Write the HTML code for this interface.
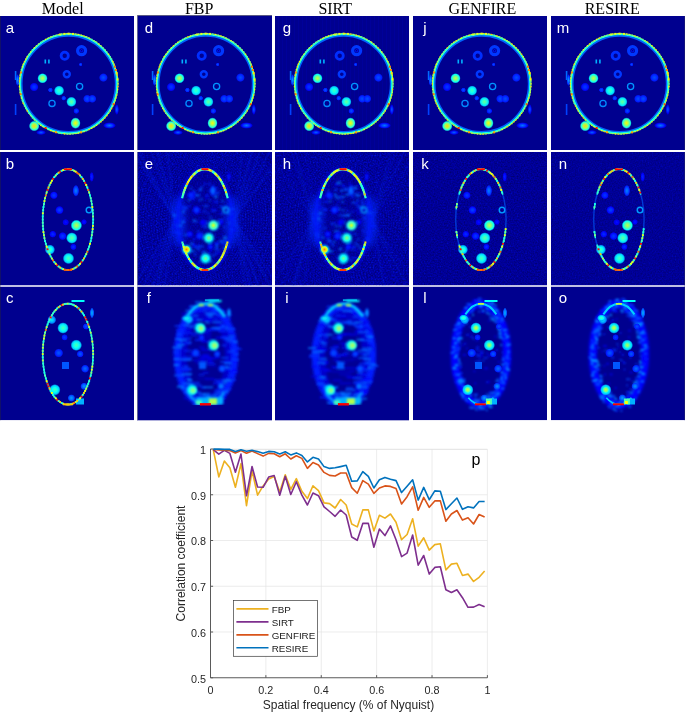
<!DOCTYPE html>
<html><head><meta charset="utf-8"><title>Figure</title>
<style>html,body{margin:0;padding:0;background:#fff;} svg{display:block;will-change:transform;}</style></head>
<body><svg width="685" height="715" viewBox="0 0 685 715">
<defs><filter id="nzE" x="0" y="0" width="100%" height="100%" color-interpolation-filters="sRGB"><feTurbulence type="fractalNoise" baseFrequency="0.6" numOctaves="1" seed="3"/><feColorMatrix type="matrix" values="0 0 0 0 0  0.5 0 0 0 -0.32  0.6 0 0 0 0.3  0 0 0 0 1"/></filter><filter id="nzH" x="0" y="0" width="100%" height="100%" color-interpolation-filters="sRGB"><feTurbulence type="fractalNoise" baseFrequency="0.6" numOctaves="1" seed="5"/><feColorMatrix type="matrix" values="0 0 0 0 0  0.5 0 0 0 -0.32  0.6 0 0 0 0.3  0 0 0 0 1"/></filter><filter id="nzK" x="0" y="0" width="100%" height="100%" color-interpolation-filters="sRGB"><feTurbulence type="fractalNoise" baseFrequency="0.7" numOctaves="1" seed="7"/><feColorMatrix type="matrix" values="0 0 0 0 0  0.3 0 0 0 -0.2  0.45 0 0 0 0.36  0 0 0 0 1"/></filter><filter id="nzN" x="0" y="0" width="100%" height="100%" color-interpolation-filters="sRGB"><feTurbulence type="fractalNoise" baseFrequency="0.7" numOctaves="1" seed="9"/><feColorMatrix type="matrix" values="0 0 0 0 0  0.2 0 0 0 -0.13  0.35 0 0 0 0.41  0 0 0 0 1"/></filter><filter id="b05" x="-20%" y="-20%" width="140%" height="140%"><feGaussianBlur stdDeviation="0.5"/></filter><filter id="b07" x="-20%" y="-20%" width="140%" height="140%"><feGaussianBlur stdDeviation="0.8"/></filter><filter id="b1" x="-20%" y="-20%" width="140%" height="140%"><feGaussianBlur stdDeviation="1"/></filter><filter id="b15" x="-20%" y="-20%" width="140%" height="140%"><feGaussianBlur stdDeviation="1.5"/></filter><filter id="b2" x="-20%" y="-20%" width="140%" height="140%"><feGaussianBlur stdDeviation="3"/></filter><clipPath id="c00"><rect x="0" y="0" width="134" height="134"/></clipPath><radialGradient id="g0"><stop offset="0" stop-color="#0061ff"/><stop offset="0.45" stop-color="#0024ff"/><stop offset="0.75" stop-color="#0000e6"/><stop offset="1" stop-color="#0000e6" stop-opacity="0"/></radialGradient><radialGradient id="g1"><stop offset="0" stop-color="#0075ff"/><stop offset="0.45" stop-color="#0038ff"/><stop offset="0.75" stop-color="#0000fa"/><stop offset="1" stop-color="#0000fa" stop-opacity="0"/></radialGradient><radialGradient id="g2"><stop offset="0" stop-color="#009eff"/><stop offset="0.45" stop-color="#0061ff"/><stop offset="0.75" stop-color="#0024ff"/><stop offset="1" stop-color="#0024ff" stop-opacity="0"/></radialGradient><radialGradient id="g3"><stop offset="0" stop-color="#c7ff38"/><stop offset="0.45" stop-color="#66ff99"/><stop offset="0.75" stop-color="#05fffa"/><stop offset="1" stop-color="#05fffa" stop-opacity="0"/></radialGradient><radialGradient id="g4"><stop offset="0" stop-color="#42ffbd"/><stop offset="0.45" stop-color="#0afff5"/><stop offset="0.75" stop-color="#00d1ff"/><stop offset="1" stop-color="#00d1ff" stop-opacity="0"/></radialGradient><radialGradient id="g5"><stop offset="0" stop-color="#6bff94"/><stop offset="0.45" stop-color="#24ffdb"/><stop offset="0.75" stop-color="#00dbff"/><stop offset="1" stop-color="#00dbff" stop-opacity="0"/></radialGradient><radialGradient id="g6"><stop offset="0" stop-color="#fffa00"/><stop offset="0.45" stop-color="#8fff70"/><stop offset="0.75" stop-color="#1affe5"/><stop offset="1" stop-color="#1affe5" stop-opacity="0"/></radialGradient><radialGradient id="g7"><stop offset="0" stop-color="#ffdb00"/><stop offset="0.45" stop-color="#9eff61"/><stop offset="0.75" stop-color="#1affe5"/><stop offset="1" stop-color="#1affe5" stop-opacity="0"/></radialGradient><radialGradient id="g8"><stop offset="0" stop-color="#0038ff"/><stop offset="0.45" stop-color="#001fff"/><stop offset="0.75" stop-color="#0005ff"/><stop offset="1" stop-color="#0005ff" stop-opacity="0"/></radialGradient><radialGradient id="g9"><stop offset="0" stop-color="#004dff"/><stop offset="0.45" stop-color="#0033ff"/><stop offset="0.75" stop-color="#001aff"/><stop offset="1" stop-color="#001aff" stop-opacity="0"/></radialGradient><radialGradient id="g10"><stop offset="0" stop-color="#004dff"/><stop offset="0.45" stop-color="#002eff"/><stop offset="0.75" stop-color="#000fff"/><stop offset="1" stop-color="#000fff" stop-opacity="0"/></radialGradient><radialGradient id="g11"><stop offset="0" stop-color="#0057ff"/><stop offset="0.45" stop-color="#0038ff"/><stop offset="0.75" stop-color="#001aff"/><stop offset="1" stop-color="#001aff" stop-opacity="0"/></radialGradient><clipPath id="c01"><rect x="0" y="0" width="135" height="135"/></clipPath><clipPath id="c02"><rect x="0" y="0" width="134" height="134"/></clipPath><clipPath id="c03"><rect x="0" y="0" width="134" height="134"/></clipPath><clipPath id="c04"><rect x="0" y="0" width="134" height="134"/></clipPath><clipPath id="c10"><rect x="0" y="0" width="134" height="133.5"/></clipPath><radialGradient id="g12"><stop offset="0" stop-color="#bdff42"/><stop offset="0.45" stop-color="#61ff9e"/><stop offset="0.75" stop-color="#05fffa"/><stop offset="1" stop-color="#05fffa" stop-opacity="0"/></radialGradient><radialGradient id="g13"><stop offset="0" stop-color="#61ff9e"/><stop offset="0.45" stop-color="#1fffe0"/><stop offset="0.75" stop-color="#00dbff"/><stop offset="1" stop-color="#00dbff" stop-opacity="0"/></radialGradient><radialGradient id="g14"><stop offset="0" stop-color="#4dffb2"/><stop offset="0.45" stop-color="#0ffff0"/><stop offset="0.75" stop-color="#00d1ff"/><stop offset="1" stop-color="#00d1ff" stop-opacity="0"/></radialGradient><radialGradient id="g15"><stop offset="0" stop-color="#4dffb2"/><stop offset="0.45" stop-color="#00ffff"/><stop offset="0.75" stop-color="#00b2ff"/><stop offset="1" stop-color="#00b2ff" stop-opacity="0"/></radialGradient><radialGradient id="g16"><stop offset="0" stop-color="#0080ff"/><stop offset="0.45" stop-color="#0052ff"/><stop offset="0.75" stop-color="#0024ff"/><stop offset="1" stop-color="#0024ff" stop-opacity="0"/></radialGradient><radialGradient id="g17"><stop offset="0" stop-color="#0042ff"/><stop offset="0.45" stop-color="#0024ff"/><stop offset="0.75" stop-color="#0005ff"/><stop offset="1" stop-color="#0005ff" stop-opacity="0"/></radialGradient><radialGradient id="g18"><stop offset="0" stop-color="#002eff"/><stop offset="0.45" stop-color="#0014ff"/><stop offset="0.75" stop-color="#0000fa"/><stop offset="1" stop-color="#0000fa" stop-opacity="0"/></radialGradient><radialGradient id="g19"><stop offset="0" stop-color="#0024ff"/><stop offset="0.45" stop-color="#000aff"/><stop offset="0.75" stop-color="#0000f0"/><stop offset="1" stop-color="#0000f0" stop-opacity="0"/></radialGradient><radialGradient id="g20"><stop offset="0" stop-color="#000fff"/><stop offset="0.45" stop-color="#0000fa"/><stop offset="0.75" stop-color="#0000e6"/><stop offset="1" stop-color="#0000e6" stop-opacity="0"/></radialGradient><radialGradient id="g21"><stop offset="0" stop-color="#001aff"/><stop offset="0.45" stop-color="#0000ff"/><stop offset="0.75" stop-color="#0000e6"/><stop offset="1" stop-color="#0000e6" stop-opacity="0"/></radialGradient><clipPath id="c11"><rect x="0" y="0" width="135" height="133.5"/></clipPath><radialGradient id="g22"><stop offset="0" stop-color="#d1ff2e"/><stop offset="0.45" stop-color="#8fff70"/><stop offset="0.75" stop-color="#4dffb2"/><stop offset="1" stop-color="#4dffb2" stop-opacity="0"/></radialGradient><radialGradient id="g23"><stop offset="0" stop-color="#80ff80"/><stop offset="0.45" stop-color="#4dffb2"/><stop offset="0.75" stop-color="#1affe5"/><stop offset="1" stop-color="#1affe5" stop-opacity="0"/></radialGradient><radialGradient id="g24"><stop offset="0" stop-color="#6bff94"/><stop offset="0.45" stop-color="#38ffc7"/><stop offset="0.75" stop-color="#05fffa"/><stop offset="1" stop-color="#05fffa" stop-opacity="0"/></radialGradient><radialGradient id="g25"><stop offset="0" stop-color="#ff8000"/><stop offset="0.45" stop-color="#ffe500"/><stop offset="0.75" stop-color="#b3ff4c"/><stop offset="1" stop-color="#b3ff4c" stop-opacity="0"/></radialGradient><clipPath id="c12"><rect x="0" y="0" width="134" height="133.5"/></clipPath><clipPath id="c13"><rect x="0" y="0" width="134" height="133.5"/></clipPath><clipPath id="c14"><rect x="0" y="0" width="134" height="133.5"/></clipPath><clipPath id="c20"><rect x="0" y="0" width="134" height="133.8"/></clipPath><radialGradient id="g26"><stop offset="0" stop-color="#42ffbd"/><stop offset="0.45" stop-color="#05fffa"/><stop offset="0.75" stop-color="#00c7ff"/><stop offset="1" stop-color="#00c7ff" stop-opacity="0"/></radialGradient><radialGradient id="g27"><stop offset="0" stop-color="#00f0ff"/><stop offset="0.45" stop-color="#00b8ff"/><stop offset="0.75" stop-color="#0080ff"/><stop offset="1" stop-color="#0080ff" stop-opacity="0"/></radialGradient><radialGradient id="g28"><stop offset="0" stop-color="#006bff"/><stop offset="0.45" stop-color="#0047ff"/><stop offset="0.75" stop-color="#0024ff"/><stop offset="1" stop-color="#0024ff" stop-opacity="0"/></radialGradient><radialGradient id="g29"><stop offset="0" stop-color="#0038ff"/><stop offset="0.45" stop-color="#0024ff"/><stop offset="0.75" stop-color="#000fff"/><stop offset="1" stop-color="#000fff" stop-opacity="0"/></radialGradient><radialGradient id="g30"><stop offset="0" stop-color="#00b2ff"/><stop offset="0.45" stop-color="#0080ff"/><stop offset="0.75" stop-color="#004dff"/><stop offset="1" stop-color="#004dff" stop-opacity="0"/></radialGradient><radialGradient id="g31"><stop offset="0" stop-color="#0094ff"/><stop offset="0.45" stop-color="#0066ff"/><stop offset="0.75" stop-color="#0038ff"/><stop offset="1" stop-color="#0038ff" stop-opacity="0"/></radialGradient><radialGradient id="g32"><stop offset="0" stop-color="#009eff"/><stop offset="0.45" stop-color="#0070ff"/><stop offset="0.75" stop-color="#0042ff"/><stop offset="1" stop-color="#0042ff" stop-opacity="0"/></radialGradient><clipPath id="c21"><rect x="0" y="0" width="135" height="133.8"/></clipPath><radialGradient id="g33"><stop offset="0" stop-color="#d1ff2e"/><stop offset="0.45" stop-color="#75ff8a"/><stop offset="0.75" stop-color="#1affe5"/><stop offset="1" stop-color="#1affe5" stop-opacity="0"/></radialGradient><radialGradient id="g34"><stop offset="0" stop-color="#d1ff2e"/><stop offset="0.45" stop-color="#80ff80"/><stop offset="0.75" stop-color="#2effd1"/><stop offset="1" stop-color="#2effd1" stop-opacity="0"/></radialGradient><radialGradient id="g35"><stop offset="0" stop-color="#b3ff4c"/><stop offset="0.45" stop-color="#66ff99"/><stop offset="0.75" stop-color="#1affe5"/><stop offset="1" stop-color="#1affe5" stop-opacity="0"/></radialGradient><radialGradient id="g36"><stop offset="0" stop-color="#2effd1"/><stop offset="0.45" stop-color="#00e5ff"/><stop offset="0.75" stop-color="#009eff"/><stop offset="1" stop-color="#009eff" stop-opacity="0"/></radialGradient><clipPath id="c22"><rect x="0" y="0" width="134" height="133.8"/></clipPath><clipPath id="c23"><rect x="0" y="0" width="134" height="133.8"/></clipPath><radialGradient id="g37"><stop offset="0" stop-color="#b3ff4c"/><stop offset="0.45" stop-color="#75ff8a"/><stop offset="0.75" stop-color="#38ffc7"/><stop offset="1" stop-color="#38ffc7" stop-opacity="0"/></radialGradient><clipPath id="c24"><rect x="0" y="0" width="134" height="133.8"/></clipPath></defs>
<rect width="685" height="715" fill="#fff"/>
<text x="41.8" y="13.8" font-family="Liberation Serif" font-size="16" fill="#000">Model</text>
<text x="184.9" y="13.8" font-family="Liberation Serif" font-size="16" fill="#000">FBP</text>
<text x="318.4" y="13.8" font-family="Liberation Serif" font-size="16" fill="#000">SIRT</text>
<text x="448.6" y="13.8" font-family="Liberation Serif" font-size="16" fill="#000">GENFIRE</text>
<text x="584.7" y="13.8" font-family="Liberation Serif" font-size="16" fill="#000">RESIRE</text>
<g transform="translate(0,16)" clip-path="url(#c00)"><rect x="0" y="0" width="134" height="134" fill="#00008f"/>
<rect x="14.8" y="55" width="1.6" height="9" fill="#006bff" opacity="1"/>
<rect x="14.8" y="88" width="1.6" height="11" fill="#0042ff" opacity="1"/>
<ellipse cx="116.8" cy="93.5" rx="2.2" ry="5.5" fill="url(#g0)"/>
<ellipse cx="109.5" cy="109.5" rx="6.5" ry="3.3" fill="url(#g1)"/>
<ellipse cx="41.0" cy="116.5" rx="5" ry="2.5" fill="url(#g0)"/>
<ellipse cx="17.5" cy="64.0" rx="2" ry="6" fill="url(#g2)"/>
<ellipse cx="68.7" cy="67.8" rx="46.8" ry="47.8" fill="none" stroke="#0061ff" stroke-width="1.3"/>
<ellipse cx="68.7" cy="67.8" rx="48.3" ry="49.3" fill="none" stroke="#0ffff0" stroke-width="1.7"/>
<ellipse cx="68.7" cy="67.8" rx="49.4" ry="50.4" fill="none" stroke="#a8ff57" stroke-width="1"/>
<rect x="117.3" y="67.1" width="1.3" height="1.3" fill="#d1ff2e"/>
<rect x="117.3" y="70.0" width="1.3" height="1.3" fill="#ffc700"/>
<rect x="117.0" y="72.9" width="1.3" height="1.3" fill="#faff05"/>
<rect x="116.6" y="75.7" width="1.3" height="1.3" fill="#4dffb2"/>
<rect x="116.1" y="78.5" width="1.3" height="1.3" fill="#ffe500"/>
<rect x="115.4" y="81.3" width="1.3" height="1.3" fill="#e5ff1a"/>
<rect x="114.5" y="84.1" width="1.3" height="1.3" fill="#b3ff4c"/>
<rect x="113.5" y="86.7" width="1.3" height="1.3" fill="#ffe500"/>
<rect x="112.3" y="89.3" width="1.3" height="1.3" fill="#80ff80"/>
<rect x="111.0" y="91.9" width="1.3" height="1.3" fill="#ffc700"/>
<rect x="109.5" y="94.3" width="1.3" height="1.3" fill="#d1ff2e"/>
<rect x="107.9" y="96.7" width="1.3" height="1.3" fill="#d1ff2e"/>
<rect x="106.2" y="99.0" width="1.3" height="1.3" fill="#ffe500"/>
<rect x="104.4" y="101.2" width="1.3" height="1.3" fill="#ffc700"/>
<rect x="102.4" y="103.2" width="1.3" height="1.3" fill="#ffc700"/>
<rect x="100.3" y="105.2" width="1.3" height="1.3" fill="#ffe500"/>
<rect x="98.2" y="107.0" width="1.3" height="1.3" fill="#2effd1"/>
<rect x="95.9" y="108.7" width="1.3" height="1.3" fill="#faff05"/>
<rect x="93.5" y="110.2" width="1.3" height="1.3" fill="#d1ff2e"/>
<rect x="91.1" y="111.6" width="1.3" height="1.3" fill="#faff05"/>
<rect x="88.5" y="112.9" width="1.3" height="1.3" fill="#ffc700"/>
<rect x="85.9" y="114.0" width="1.3" height="1.3" fill="#2effd1"/>
<rect x="83.3" y="115.0" width="1.3" height="1.3" fill="#b3ff4c"/>
<rect x="80.6" y="115.8" width="1.3" height="1.3" fill="#e5ff1a"/>
<rect x="77.8" y="116.4" width="1.3" height="1.3" fill="#faff05"/>
<rect x="75.1" y="116.9" width="1.3" height="1.3" fill="#b3ff4c"/>
<rect x="72.3" y="117.3" width="1.3" height="1.3" fill="#80ff80"/>
<rect x="69.5" y="117.4" width="1.3" height="1.3" fill="#b3ff4c"/>
<rect x="66.6" y="117.4" width="1.3" height="1.3" fill="#80ff80"/>
<rect x="63.8" y="117.3" width="1.3" height="1.3" fill="#ffe500"/>
<rect x="61.0" y="116.9" width="1.3" height="1.3" fill="#2effd1"/>
<rect x="58.3" y="116.4" width="1.3" height="1.3" fill="#2effd1"/>
<rect x="55.5" y="115.8" width="1.3" height="1.3" fill="#2effd1"/>
<rect x="52.8" y="115.0" width="1.3" height="1.3" fill="#ffe500"/>
<rect x="50.2" y="114.0" width="1.3" height="1.3" fill="#faff05"/>
<rect x="47.6" y="112.9" width="1.3" height="1.3" fill="#4dffb2"/>
<rect x="45.0" y="111.6" width="1.3" height="1.3" fill="#e5ff1a"/>
<rect x="42.6" y="110.2" width="1.3" height="1.3" fill="#b3ff4c"/>
<rect x="40.2" y="108.7" width="1.3" height="1.3" fill="#faff05"/>
<rect x="37.9" y="107.0" width="1.3" height="1.3" fill="#ffe500"/>
<rect x="35.8" y="105.2" width="1.3" height="1.3" fill="#d1ff2e"/>
<rect x="33.7" y="103.2" width="1.3" height="1.3" fill="#80ff80"/>
<rect x="31.7" y="101.2" width="1.3" height="1.3" fill="#2effd1"/>
<rect x="29.9" y="99.0" width="1.3" height="1.3" fill="#80ff80"/>
<rect x="28.2" y="96.7" width="1.3" height="1.3" fill="#2effd1"/>
<rect x="26.6" y="94.3" width="1.3" height="1.3" fill="#ffc700"/>
<rect x="25.1" y="91.9" width="1.3" height="1.3" fill="#2effd1"/>
<rect x="23.8" y="89.3" width="1.3" height="1.3" fill="#4dffb2"/>
<rect x="22.6" y="86.7" width="1.3" height="1.3" fill="#ffc700"/>
<rect x="21.6" y="84.1" width="1.3" height="1.3" fill="#2effd1"/>
<rect x="20.7" y="81.3" width="1.3" height="1.3" fill="#d1ff2e"/>
<rect x="20.0" y="78.5" width="1.3" height="1.3" fill="#4dffb2"/>
<rect x="19.5" y="75.7" width="1.3" height="1.3" fill="#b3ff4c"/>
<rect x="19.1" y="72.9" width="1.3" height="1.3" fill="#80ff80"/>
<rect x="18.8" y="70.0" width="1.3" height="1.3" fill="#faff05"/>
<rect x="18.8" y="67.1" width="1.3" height="1.3" fill="#4dffb2"/>
<rect x="18.8" y="64.3" width="1.3" height="1.3" fill="#ffc700"/>
<rect x="19.1" y="61.4" width="1.3" height="1.3" fill="#e5ff1a"/>
<rect x="19.5" y="58.6" width="1.3" height="1.3" fill="#d1ff2e"/>
<rect x="20.0" y="55.8" width="1.3" height="1.3" fill="#80ff80"/>
<rect x="20.7" y="53.0" width="1.3" height="1.3" fill="#80ff80"/>
<rect x="21.6" y="50.2" width="1.3" height="1.3" fill="#e5ff1a"/>
<rect x="22.6" y="47.6" width="1.3" height="1.3" fill="#e5ff1a"/>
<rect x="23.8" y="45.0" width="1.3" height="1.3" fill="#ffe500"/>
<rect x="25.1" y="42.4" width="1.3" height="1.3" fill="#ffe500"/>
<rect x="26.6" y="40.0" width="1.3" height="1.3" fill="#e5ff1a"/>
<rect x="28.2" y="37.6" width="1.3" height="1.3" fill="#4dffb2"/>
<rect x="29.9" y="35.3" width="1.3" height="1.3" fill="#e5ff1a"/>
<rect x="31.7" y="33.1" width="1.3" height="1.3" fill="#2effd1"/>
<rect x="33.7" y="31.1" width="1.3" height="1.3" fill="#faff05"/>
<rect x="35.8" y="29.1" width="1.3" height="1.3" fill="#b3ff4c"/>
<rect x="37.9" y="27.3" width="1.3" height="1.3" fill="#80ff80"/>
<rect x="40.2" y="25.6" width="1.3" height="1.3" fill="#2effd1"/>
<rect x="42.6" y="24.1" width="1.3" height="1.3" fill="#2effd1"/>
<rect x="45.0" y="22.7" width="1.3" height="1.3" fill="#e5ff1a"/>
<rect x="47.6" y="21.4" width="1.3" height="1.3" fill="#b3ff4c"/>
<rect x="50.2" y="20.3" width="1.3" height="1.3" fill="#b3ff4c"/>
<rect x="52.8" y="19.3" width="1.3" height="1.3" fill="#2effd1"/>
<rect x="55.5" y="18.5" width="1.3" height="1.3" fill="#4dffb2"/>
<rect x="58.3" y="17.9" width="1.3" height="1.3" fill="#ffc700"/>
<rect x="61.0" y="17.4" width="1.3" height="1.3" fill="#80ff80"/>
<rect x="63.8" y="17.0" width="1.3" height="1.3" fill="#ffc700"/>
<rect x="66.6" y="16.9" width="1.3" height="1.3" fill="#d1ff2e"/>
<rect x="69.5" y="16.9" width="1.3" height="1.3" fill="#b3ff4c"/>
<rect x="72.3" y="17.0" width="1.3" height="1.3" fill="#80ff80"/>
<rect x="75.1" y="17.4" width="1.3" height="1.3" fill="#b3ff4c"/>
<rect x="77.8" y="17.9" width="1.3" height="1.3" fill="#e5ff1a"/>
<rect x="80.6" y="18.5" width="1.3" height="1.3" fill="#e5ff1a"/>
<rect x="83.3" y="19.3" width="1.3" height="1.3" fill="#ffc700"/>
<rect x="85.9" y="20.3" width="1.3" height="1.3" fill="#b3ff4c"/>
<rect x="88.5" y="21.4" width="1.3" height="1.3" fill="#d1ff2e"/>
<rect x="91.1" y="22.7" width="1.3" height="1.3" fill="#2effd1"/>
<rect x="93.5" y="24.1" width="1.3" height="1.3" fill="#80ff80"/>
<rect x="95.9" y="25.6" width="1.3" height="1.3" fill="#80ff80"/>
<rect x="98.2" y="27.3" width="1.3" height="1.3" fill="#faff05"/>
<rect x="100.3" y="29.1" width="1.3" height="1.3" fill="#b3ff4c"/>
<rect x="102.4" y="31.1" width="1.3" height="1.3" fill="#4dffb2"/>
<rect x="104.4" y="33.1" width="1.3" height="1.3" fill="#4dffb2"/>
<rect x="106.2" y="35.3" width="1.3" height="1.3" fill="#4dffb2"/>
<rect x="107.9" y="37.6" width="1.3" height="1.3" fill="#faff05"/>
<rect x="109.5" y="40.0" width="1.3" height="1.3" fill="#2effd1"/>
<rect x="111.0" y="42.4" width="1.3" height="1.3" fill="#2effd1"/>
<rect x="112.3" y="45.0" width="1.3" height="1.3" fill="#ffe500"/>
<rect x="113.5" y="47.6" width="1.3" height="1.3" fill="#ffc700"/>
<rect x="114.5" y="50.2" width="1.3" height="1.3" fill="#2effd1"/>
<rect x="115.4" y="53.0" width="1.3" height="1.3" fill="#ffc700"/>
<rect x="116.1" y="55.8" width="1.3" height="1.3" fill="#e5ff1a"/>
<rect x="116.6" y="58.6" width="1.3" height="1.3" fill="#ffc700"/>
<rect x="117.0" y="61.4" width="1.3" height="1.3" fill="#80ff80"/>
<rect x="117.3" y="64.3" width="1.3" height="1.3" fill="#2effd1"/>
<rect x="19.9" y="55.5" width="2" height="2" fill="#ff8000"/>
<rect x="19.7" y="77.2" width="2" height="2" fill="#ff8000"/>
<rect x="44.6" y="111.0" width="2" height="2" fill="#ff1a00"/>
<rect x="55.0" y="115.2" width="2" height="2" fill="#ff9e00"/>
<rect x="80.0" y="115.3" width="2" height="2" fill="#ff9e00"/>
<rect x="112.6" y="87.2" width="2" height="2" fill="#ff4c00"/>
<rect x="114.9" y="53.0" width="2" height="2" fill="#ff8000"/>
<rect x="113.8" y="49.7" width="2" height="2" fill="#ff6100"/>
<rect x="115.7" y="56.4" width="2" height="2" fill="#ffe500"/>
<rect x="116.6" y="62.4" width="2" height="2" fill="#faff05"/>
<rect x="63.4" y="16.9" width="2" height="2" fill="#e5ff1a"/>
<rect x="67.7" y="16.7" width="2" height="2" fill="#e5ff1a"/>
<rect x="72.0" y="16.9" width="2" height="2" fill="#e5ff1a"/>
<rect x="59.2" y="17.5" width="2" height="2" fill="#d1ff2e"/>
<circle cx="42.5" cy="62.3" r="5.2" fill="url(#g3)"/>
<circle cx="59.1" cy="74.6" r="5.2" fill="url(#g4)"/>
<circle cx="71.4" cy="85.8" r="5.2" fill="url(#g5)"/>
<ellipse cx="75.5" cy="107.1" rx="5.2" ry="5.8" fill="url(#g6)"/>
<circle cx="34.2" cy="110.0" r="5.4" fill="url(#g7)"/>
<g filter="url(#b05)">
<circle cx="79.6" cy="70.5" r="3.1" fill="none" stroke="#0094ff" stroke-width="1.3"/>
<circle cx="52.0" cy="87.4" r="3.1" fill="none" stroke="#008aff" stroke-width="1.3"/>
</g>
<g filter="url(#b05)">
<circle cx="66.8" cy="58.2" r="3.0" fill="none" stroke="#0038ff" stroke-width="2.4"/>
<circle cx="64.7" cy="39.8" r="3.6" fill="none" stroke="#002eff" stroke-width="2.8"/>
<circle cx="81.6" cy="34.7" r="4.0" fill="none" stroke="#0038ff" stroke-width="3.2"/>
<circle cx="81.6" cy="34.7" r="1.2" fill="none" stroke="#000fff" stroke-width="1.0"/>
</g>
<rect x="44.5" y="43.5" width="1.6" height="4" fill="#00b2ff" opacity="1"/>
<rect x="48.1" y="43.5" width="1.6" height="4" fill="#00b2ff" opacity="1"/>
<circle cx="34.1" cy="71.0" r="4.5" fill="url(#g8)"/>
<circle cx="87.2" cy="82.8" r="4.2" fill="url(#g9)"/>
<circle cx="92.3" cy="82.8" r="4.2" fill="url(#g9)"/>
<circle cx="103.4" cy="61.6" r="4.5" fill="url(#g9)"/>
<circle cx="76.3" cy="95.0" r="3.0" fill="url(#g10)"/>
<circle cx="50.4" cy="74.0" r="2.5" fill="url(#g11)"/>
<circle cx="63.7" cy="82.2" r="2.5" fill="url(#g11)"/>
<circle cx="80.6" cy="48.5" r="1.8" fill="url(#g9)"/>
<rect x="0" y="0" width="1" height="134" fill="#10106a"/><text x="9.8" y="16.8" text-anchor="middle" font-family="Liberation Sans" font-size="15" fill="#fff">a</text></g>
<g transform="translate(137,15)" clip-path="url(#c01)"><rect x="0" y="0" width="135" height="135" fill="#00008f"/>
<g transform="translate(0,1)"><rect x="14.8" y="55" width="1.6" height="9" fill="#006bff" opacity="1"/>
<rect x="14.8" y="88" width="1.6" height="11" fill="#0042ff" opacity="1"/>
<ellipse cx="116.8" cy="93.5" rx="2.2" ry="5.5" fill="url(#g0)"/>
<ellipse cx="109.5" cy="109.5" rx="6.5" ry="3.3" fill="url(#g1)"/>
<ellipse cx="41.0" cy="116.5" rx="5" ry="2.5" fill="url(#g0)"/>
<ellipse cx="17.5" cy="64.0" rx="2" ry="6" fill="url(#g2)"/>
<ellipse cx="68.7" cy="67.8" rx="46.8" ry="47.8" fill="none" stroke="#0061ff" stroke-width="1.3"/>
<ellipse cx="68.7" cy="67.8" rx="48.3" ry="49.3" fill="none" stroke="#0ffff0" stroke-width="1.7"/>
<ellipse cx="68.7" cy="67.8" rx="49.4" ry="50.4" fill="none" stroke="#a8ff57" stroke-width="1"/>
<rect x="117.3" y="67.1" width="1.3" height="1.3" fill="#d1ff2e"/>
<rect x="117.3" y="70.0" width="1.3" height="1.3" fill="#80ff80"/>
<rect x="117.0" y="72.9" width="1.3" height="1.3" fill="#e5ff1a"/>
<rect x="116.6" y="75.7" width="1.3" height="1.3" fill="#2effd1"/>
<rect x="116.1" y="78.5" width="1.3" height="1.3" fill="#ffe500"/>
<rect x="115.4" y="81.3" width="1.3" height="1.3" fill="#faff05"/>
<rect x="114.5" y="84.1" width="1.3" height="1.3" fill="#e5ff1a"/>
<rect x="113.5" y="86.7" width="1.3" height="1.3" fill="#e5ff1a"/>
<rect x="112.3" y="89.3" width="1.3" height="1.3" fill="#b3ff4c"/>
<rect x="111.0" y="91.9" width="1.3" height="1.3" fill="#2effd1"/>
<rect x="109.5" y="94.3" width="1.3" height="1.3" fill="#ffc700"/>
<rect x="107.9" y="96.7" width="1.3" height="1.3" fill="#80ff80"/>
<rect x="106.2" y="99.0" width="1.3" height="1.3" fill="#b3ff4c"/>
<rect x="104.4" y="101.2" width="1.3" height="1.3" fill="#d1ff2e"/>
<rect x="102.4" y="103.2" width="1.3" height="1.3" fill="#ffc700"/>
<rect x="100.3" y="105.2" width="1.3" height="1.3" fill="#ffc700"/>
<rect x="98.2" y="107.0" width="1.3" height="1.3" fill="#4dffb2"/>
<rect x="95.9" y="108.7" width="1.3" height="1.3" fill="#80ff80"/>
<rect x="93.5" y="110.2" width="1.3" height="1.3" fill="#faff05"/>
<rect x="91.1" y="111.6" width="1.3" height="1.3" fill="#e5ff1a"/>
<rect x="88.5" y="112.9" width="1.3" height="1.3" fill="#80ff80"/>
<rect x="85.9" y="114.0" width="1.3" height="1.3" fill="#d1ff2e"/>
<rect x="83.3" y="115.0" width="1.3" height="1.3" fill="#b3ff4c"/>
<rect x="80.6" y="115.8" width="1.3" height="1.3" fill="#80ff80"/>
<rect x="77.8" y="116.4" width="1.3" height="1.3" fill="#80ff80"/>
<rect x="75.1" y="116.9" width="1.3" height="1.3" fill="#d1ff2e"/>
<rect x="72.3" y="117.3" width="1.3" height="1.3" fill="#faff05"/>
<rect x="69.5" y="117.4" width="1.3" height="1.3" fill="#80ff80"/>
<rect x="66.6" y="117.4" width="1.3" height="1.3" fill="#80ff80"/>
<rect x="63.8" y="117.3" width="1.3" height="1.3" fill="#4dffb2"/>
<rect x="61.0" y="116.9" width="1.3" height="1.3" fill="#e5ff1a"/>
<rect x="58.3" y="116.4" width="1.3" height="1.3" fill="#4dffb2"/>
<rect x="55.5" y="115.8" width="1.3" height="1.3" fill="#2effd1"/>
<rect x="52.8" y="115.0" width="1.3" height="1.3" fill="#ffc700"/>
<rect x="50.2" y="114.0" width="1.3" height="1.3" fill="#d1ff2e"/>
<rect x="47.6" y="112.9" width="1.3" height="1.3" fill="#faff05"/>
<rect x="45.0" y="111.6" width="1.3" height="1.3" fill="#d1ff2e"/>
<rect x="42.6" y="110.2" width="1.3" height="1.3" fill="#ffe500"/>
<rect x="40.2" y="108.7" width="1.3" height="1.3" fill="#80ff80"/>
<rect x="37.9" y="107.0" width="1.3" height="1.3" fill="#e5ff1a"/>
<rect x="35.8" y="105.2" width="1.3" height="1.3" fill="#ffc700"/>
<rect x="33.7" y="103.2" width="1.3" height="1.3" fill="#80ff80"/>
<rect x="31.7" y="101.2" width="1.3" height="1.3" fill="#b3ff4c"/>
<rect x="29.9" y="99.0" width="1.3" height="1.3" fill="#80ff80"/>
<rect x="28.2" y="96.7" width="1.3" height="1.3" fill="#80ff80"/>
<rect x="26.6" y="94.3" width="1.3" height="1.3" fill="#ffc700"/>
<rect x="25.1" y="91.9" width="1.3" height="1.3" fill="#d1ff2e"/>
<rect x="23.8" y="89.3" width="1.3" height="1.3" fill="#2effd1"/>
<rect x="22.6" y="86.7" width="1.3" height="1.3" fill="#2effd1"/>
<rect x="21.6" y="84.1" width="1.3" height="1.3" fill="#80ff80"/>
<rect x="20.7" y="81.3" width="1.3" height="1.3" fill="#2effd1"/>
<rect x="20.0" y="78.5" width="1.3" height="1.3" fill="#ffe500"/>
<rect x="19.5" y="75.7" width="1.3" height="1.3" fill="#faff05"/>
<rect x="19.1" y="72.9" width="1.3" height="1.3" fill="#d1ff2e"/>
<rect x="18.8" y="70.0" width="1.3" height="1.3" fill="#80ff80"/>
<rect x="18.8" y="67.1" width="1.3" height="1.3" fill="#80ff80"/>
<rect x="18.8" y="64.3" width="1.3" height="1.3" fill="#b3ff4c"/>
<rect x="19.1" y="61.4" width="1.3" height="1.3" fill="#e5ff1a"/>
<rect x="19.5" y="58.6" width="1.3" height="1.3" fill="#b3ff4c"/>
<rect x="20.0" y="55.8" width="1.3" height="1.3" fill="#ffe500"/>
<rect x="20.7" y="53.0" width="1.3" height="1.3" fill="#80ff80"/>
<rect x="21.6" y="50.2" width="1.3" height="1.3" fill="#ffc700"/>
<rect x="22.6" y="47.6" width="1.3" height="1.3" fill="#ffc700"/>
<rect x="23.8" y="45.0" width="1.3" height="1.3" fill="#ffe500"/>
<rect x="25.1" y="42.4" width="1.3" height="1.3" fill="#4dffb2"/>
<rect x="26.6" y="40.0" width="1.3" height="1.3" fill="#faff05"/>
<rect x="28.2" y="37.6" width="1.3" height="1.3" fill="#d1ff2e"/>
<rect x="29.9" y="35.3" width="1.3" height="1.3" fill="#e5ff1a"/>
<rect x="31.7" y="33.1" width="1.3" height="1.3" fill="#2effd1"/>
<rect x="33.7" y="31.1" width="1.3" height="1.3" fill="#d1ff2e"/>
<rect x="35.8" y="29.1" width="1.3" height="1.3" fill="#ffe500"/>
<rect x="37.9" y="27.3" width="1.3" height="1.3" fill="#80ff80"/>
<rect x="40.2" y="25.6" width="1.3" height="1.3" fill="#faff05"/>
<rect x="42.6" y="24.1" width="1.3" height="1.3" fill="#4dffb2"/>
<rect x="45.0" y="22.7" width="1.3" height="1.3" fill="#2effd1"/>
<rect x="47.6" y="21.4" width="1.3" height="1.3" fill="#4dffb2"/>
<rect x="50.2" y="20.3" width="1.3" height="1.3" fill="#ffc700"/>
<rect x="52.8" y="19.3" width="1.3" height="1.3" fill="#d1ff2e"/>
<rect x="55.5" y="18.5" width="1.3" height="1.3" fill="#4dffb2"/>
<rect x="58.3" y="17.9" width="1.3" height="1.3" fill="#e5ff1a"/>
<rect x="61.0" y="17.4" width="1.3" height="1.3" fill="#b3ff4c"/>
<rect x="63.8" y="17.0" width="1.3" height="1.3" fill="#d1ff2e"/>
<rect x="66.6" y="16.9" width="1.3" height="1.3" fill="#80ff80"/>
<rect x="69.5" y="16.9" width="1.3" height="1.3" fill="#d1ff2e"/>
<rect x="72.3" y="17.0" width="1.3" height="1.3" fill="#e5ff1a"/>
<rect x="75.1" y="17.4" width="1.3" height="1.3" fill="#4dffb2"/>
<rect x="77.8" y="17.9" width="1.3" height="1.3" fill="#faff05"/>
<rect x="80.6" y="18.5" width="1.3" height="1.3" fill="#80ff80"/>
<rect x="83.3" y="19.3" width="1.3" height="1.3" fill="#ffe500"/>
<rect x="85.9" y="20.3" width="1.3" height="1.3" fill="#b3ff4c"/>
<rect x="88.5" y="21.4" width="1.3" height="1.3" fill="#b3ff4c"/>
<rect x="91.1" y="22.7" width="1.3" height="1.3" fill="#4dffb2"/>
<rect x="93.5" y="24.1" width="1.3" height="1.3" fill="#e5ff1a"/>
<rect x="95.9" y="25.6" width="1.3" height="1.3" fill="#80ff80"/>
<rect x="98.2" y="27.3" width="1.3" height="1.3" fill="#4dffb2"/>
<rect x="100.3" y="29.1" width="1.3" height="1.3" fill="#b3ff4c"/>
<rect x="102.4" y="31.1" width="1.3" height="1.3" fill="#4dffb2"/>
<rect x="104.4" y="33.1" width="1.3" height="1.3" fill="#80ff80"/>
<rect x="106.2" y="35.3" width="1.3" height="1.3" fill="#4dffb2"/>
<rect x="107.9" y="37.6" width="1.3" height="1.3" fill="#faff05"/>
<rect x="109.5" y="40.0" width="1.3" height="1.3" fill="#2effd1"/>
<rect x="111.0" y="42.4" width="1.3" height="1.3" fill="#e5ff1a"/>
<rect x="112.3" y="45.0" width="1.3" height="1.3" fill="#80ff80"/>
<rect x="113.5" y="47.6" width="1.3" height="1.3" fill="#d1ff2e"/>
<rect x="114.5" y="50.2" width="1.3" height="1.3" fill="#ffe500"/>
<rect x="115.4" y="53.0" width="1.3" height="1.3" fill="#80ff80"/>
<rect x="116.1" y="55.8" width="1.3" height="1.3" fill="#faff05"/>
<rect x="116.6" y="58.6" width="1.3" height="1.3" fill="#80ff80"/>
<rect x="117.0" y="61.4" width="1.3" height="1.3" fill="#2effd1"/>
<rect x="117.3" y="64.3" width="1.3" height="1.3" fill="#faff05"/>
<rect x="19.9" y="55.5" width="2" height="2" fill="#ff8000"/>
<rect x="19.7" y="77.2" width="2" height="2" fill="#ff8000"/>
<rect x="44.6" y="111.0" width="2" height="2" fill="#ff1a00"/>
<rect x="55.0" y="115.2" width="2" height="2" fill="#ff9e00"/>
<rect x="80.0" y="115.3" width="2" height="2" fill="#ff9e00"/>
<rect x="112.6" y="87.2" width="2" height="2" fill="#ff4c00"/>
<rect x="114.9" y="53.0" width="2" height="2" fill="#ff8000"/>
<rect x="113.8" y="49.7" width="2" height="2" fill="#ff6100"/>
<rect x="115.7" y="56.4" width="2" height="2" fill="#ffe500"/>
<rect x="116.6" y="62.4" width="2" height="2" fill="#faff05"/>
<rect x="63.4" y="16.9" width="2" height="2" fill="#e5ff1a"/>
<rect x="67.7" y="16.7" width="2" height="2" fill="#e5ff1a"/>
<rect x="72.0" y="16.9" width="2" height="2" fill="#e5ff1a"/>
<rect x="59.2" y="17.5" width="2" height="2" fill="#d1ff2e"/>
<circle cx="42.5" cy="62.3" r="5.2" fill="url(#g3)"/>
<circle cx="59.1" cy="74.6" r="5.2" fill="url(#g4)"/>
<circle cx="71.4" cy="85.8" r="5.2" fill="url(#g5)"/>
<ellipse cx="75.5" cy="107.1" rx="5.2" ry="5.8" fill="url(#g6)"/>
<circle cx="34.2" cy="110.0" r="5.4" fill="url(#g7)"/>
<g filter="url(#b05)">
<circle cx="79.6" cy="70.5" r="3.1" fill="none" stroke="#0094ff" stroke-width="1.3"/>
<circle cx="52.0" cy="87.4" r="3.1" fill="none" stroke="#008aff" stroke-width="1.3"/>
</g>
<g filter="url(#b05)">
<circle cx="66.8" cy="58.2" r="3.0" fill="none" stroke="#0038ff" stroke-width="2.4"/>
<circle cx="64.7" cy="39.8" r="3.6" fill="none" stroke="#002eff" stroke-width="2.8"/>
<circle cx="81.6" cy="34.7" r="4.0" fill="none" stroke="#0038ff" stroke-width="3.2"/>
<circle cx="81.6" cy="34.7" r="1.2" fill="none" stroke="#000fff" stroke-width="1.0"/>
</g>
<rect x="44.5" y="43.5" width="1.6" height="4" fill="#00b2ff" opacity="1"/>
<rect x="48.1" y="43.5" width="1.6" height="4" fill="#00b2ff" opacity="1"/>
<circle cx="34.1" cy="71.0" r="4.5" fill="url(#g8)"/>
<circle cx="87.2" cy="82.8" r="4.2" fill="url(#g9)"/>
<circle cx="92.3" cy="82.8" r="4.2" fill="url(#g9)"/>
<circle cx="103.4" cy="61.6" r="4.5" fill="url(#g9)"/>
<circle cx="76.3" cy="95.0" r="3.0" fill="url(#g10)"/>
<circle cx="50.4" cy="74.0" r="2.5" fill="url(#g11)"/>
<circle cx="63.7" cy="82.2" r="2.5" fill="url(#g11)"/>
<circle cx="80.6" cy="48.5" r="1.8" fill="url(#g9)"/></g>
<rect x="0" y="0" width="0.8" height="135" fill="#9a9a9a" opacity="0.8"/><rect x="0" y="0" width="135" height="0.8" fill="#8a8a80" opacity="0.8"/><text x="11.9" y="17.8" text-anchor="middle" font-family="Liberation Sans" font-size="15" fill="#fff">d</text></g>
<g transform="translate(275,16)" clip-path="url(#c02)"><rect x="0" y="0" width="134" height="134" fill="#00008f"/>
<rect x="3" y="0" width="1" height="134" fill="#0000bd" opacity="0.25"/>
<rect x="7" y="0" width="1" height="134" fill="#0000bd" opacity="0.25"/>
<rect x="11" y="0" width="1" height="134" fill="#0000bd" opacity="0.25"/>
<rect x="15" y="0" width="1" height="134" fill="#0000bd" opacity="0.25"/>
<rect x="19" y="0" width="1" height="134" fill="#0000bd" opacity="0.25"/>
<rect x="23" y="0" width="1" height="134" fill="#0000bd" opacity="0.25"/>
<rect x="27" y="0" width="1" height="134" fill="#0000bd" opacity="0.25"/>
<rect x="31" y="0" width="1" height="134" fill="#0000bd" opacity="0.25"/>
<rect x="35" y="0" width="1" height="134" fill="#0000bd" opacity="0.25"/>
<rect x="39" y="0" width="1" height="134" fill="#0000bd" opacity="0.25"/>
<rect x="43" y="0" width="1" height="134" fill="#0000bd" opacity="0.25"/>
<rect x="47" y="0" width="1" height="134" fill="#0000bd" opacity="0.25"/>
<rect x="51" y="0" width="1" height="134" fill="#0000bd" opacity="0.25"/>
<rect x="55" y="0" width="1" height="134" fill="#0000bd" opacity="0.25"/>
<rect x="59" y="0" width="1" height="134" fill="#0000bd" opacity="0.25"/>
<rect x="63" y="0" width="1" height="134" fill="#0000bd" opacity="0.25"/>
<rect x="67" y="0" width="1" height="134" fill="#0000bd" opacity="0.25"/>
<rect x="71" y="0" width="1" height="134" fill="#0000bd" opacity="0.25"/>
<rect x="75" y="0" width="1" height="134" fill="#0000bd" opacity="0.25"/>
<rect x="79" y="0" width="1" height="134" fill="#0000bd" opacity="0.25"/>
<rect x="83" y="0" width="1" height="134" fill="#0000bd" opacity="0.25"/>
<rect x="87" y="0" width="1" height="134" fill="#0000bd" opacity="0.25"/>
<rect x="91" y="0" width="1" height="134" fill="#0000bd" opacity="0.25"/>
<rect x="95" y="0" width="1" height="134" fill="#0000bd" opacity="0.25"/>
<rect x="99" y="0" width="1" height="134" fill="#0000bd" opacity="0.25"/>
<rect x="103" y="0" width="1" height="134" fill="#0000bd" opacity="0.25"/>
<rect x="107" y="0" width="1" height="134" fill="#0000bd" opacity="0.25"/>
<rect x="111" y="0" width="1" height="134" fill="#0000bd" opacity="0.25"/>
<rect x="115" y="0" width="1" height="134" fill="#0000bd" opacity="0.25"/>
<rect x="119" y="0" width="1" height="134" fill="#0000bd" opacity="0.25"/>
<rect x="123" y="0" width="1" height="134" fill="#0000bd" opacity="0.25"/>
<rect x="127" y="0" width="1" height="134" fill="#0000bd" opacity="0.25"/>
<rect x="131" y="0" width="1" height="134" fill="#0000bd" opacity="0.25"/>
<rect x="14.8" y="55" width="1.6" height="9" fill="#006bff" opacity="1"/>
<rect x="14.8" y="88" width="1.6" height="11" fill="#0042ff" opacity="1"/>
<ellipse cx="116.8" cy="93.5" rx="2.2" ry="5.5" fill="url(#g0)"/>
<ellipse cx="109.5" cy="109.5" rx="6.5" ry="3.3" fill="url(#g1)"/>
<ellipse cx="41.0" cy="116.5" rx="5" ry="2.5" fill="url(#g0)"/>
<ellipse cx="17.5" cy="64.0" rx="2" ry="6" fill="url(#g2)"/>
<ellipse cx="68.7" cy="67.8" rx="46.8" ry="47.8" fill="none" stroke="#0061ff" stroke-width="1.3"/>
<ellipse cx="68.7" cy="67.8" rx="48.3" ry="49.3" fill="none" stroke="#0ffff0" stroke-width="1.7"/>
<ellipse cx="68.7" cy="67.8" rx="49.4" ry="50.4" fill="none" stroke="#a8ff57" stroke-width="1"/>
<rect x="117.3" y="67.1" width="1.3" height="1.3" fill="#80ff80"/>
<rect x="117.3" y="70.0" width="1.3" height="1.3" fill="#4dffb2"/>
<rect x="117.0" y="72.9" width="1.3" height="1.3" fill="#ffc700"/>
<rect x="116.6" y="75.7" width="1.3" height="1.3" fill="#b3ff4c"/>
<rect x="116.1" y="78.5" width="1.3" height="1.3" fill="#ffe500"/>
<rect x="115.4" y="81.3" width="1.3" height="1.3" fill="#d1ff2e"/>
<rect x="114.5" y="84.1" width="1.3" height="1.3" fill="#b3ff4c"/>
<rect x="113.5" y="86.7" width="1.3" height="1.3" fill="#faff05"/>
<rect x="112.3" y="89.3" width="1.3" height="1.3" fill="#e5ff1a"/>
<rect x="111.0" y="91.9" width="1.3" height="1.3" fill="#4dffb2"/>
<rect x="109.5" y="94.3" width="1.3" height="1.3" fill="#ffe500"/>
<rect x="107.9" y="96.7" width="1.3" height="1.3" fill="#d1ff2e"/>
<rect x="106.2" y="99.0" width="1.3" height="1.3" fill="#2effd1"/>
<rect x="104.4" y="101.2" width="1.3" height="1.3" fill="#ffc700"/>
<rect x="102.4" y="103.2" width="1.3" height="1.3" fill="#e5ff1a"/>
<rect x="100.3" y="105.2" width="1.3" height="1.3" fill="#d1ff2e"/>
<rect x="98.2" y="107.0" width="1.3" height="1.3" fill="#b3ff4c"/>
<rect x="95.9" y="108.7" width="1.3" height="1.3" fill="#d1ff2e"/>
<rect x="93.5" y="110.2" width="1.3" height="1.3" fill="#2effd1"/>
<rect x="91.1" y="111.6" width="1.3" height="1.3" fill="#80ff80"/>
<rect x="88.5" y="112.9" width="1.3" height="1.3" fill="#faff05"/>
<rect x="85.9" y="114.0" width="1.3" height="1.3" fill="#2effd1"/>
<rect x="83.3" y="115.0" width="1.3" height="1.3" fill="#faff05"/>
<rect x="80.6" y="115.8" width="1.3" height="1.3" fill="#e5ff1a"/>
<rect x="77.8" y="116.4" width="1.3" height="1.3" fill="#faff05"/>
<rect x="75.1" y="116.9" width="1.3" height="1.3" fill="#ffe500"/>
<rect x="72.3" y="117.3" width="1.3" height="1.3" fill="#faff05"/>
<rect x="69.5" y="117.4" width="1.3" height="1.3" fill="#faff05"/>
<rect x="66.6" y="117.4" width="1.3" height="1.3" fill="#b3ff4c"/>
<rect x="63.8" y="117.3" width="1.3" height="1.3" fill="#b3ff4c"/>
<rect x="61.0" y="116.9" width="1.3" height="1.3" fill="#d1ff2e"/>
<rect x="58.3" y="116.4" width="1.3" height="1.3" fill="#d1ff2e"/>
<rect x="55.5" y="115.8" width="1.3" height="1.3" fill="#faff05"/>
<rect x="52.8" y="115.0" width="1.3" height="1.3" fill="#faff05"/>
<rect x="50.2" y="114.0" width="1.3" height="1.3" fill="#80ff80"/>
<rect x="47.6" y="112.9" width="1.3" height="1.3" fill="#4dffb2"/>
<rect x="45.0" y="111.6" width="1.3" height="1.3" fill="#d1ff2e"/>
<rect x="42.6" y="110.2" width="1.3" height="1.3" fill="#ffc700"/>
<rect x="40.2" y="108.7" width="1.3" height="1.3" fill="#d1ff2e"/>
<rect x="37.9" y="107.0" width="1.3" height="1.3" fill="#faff05"/>
<rect x="35.8" y="105.2" width="1.3" height="1.3" fill="#d1ff2e"/>
<rect x="33.7" y="103.2" width="1.3" height="1.3" fill="#2effd1"/>
<rect x="31.7" y="101.2" width="1.3" height="1.3" fill="#80ff80"/>
<rect x="29.9" y="99.0" width="1.3" height="1.3" fill="#b3ff4c"/>
<rect x="28.2" y="96.7" width="1.3" height="1.3" fill="#4dffb2"/>
<rect x="26.6" y="94.3" width="1.3" height="1.3" fill="#2effd1"/>
<rect x="25.1" y="91.9" width="1.3" height="1.3" fill="#faff05"/>
<rect x="23.8" y="89.3" width="1.3" height="1.3" fill="#faff05"/>
<rect x="22.6" y="86.7" width="1.3" height="1.3" fill="#80ff80"/>
<rect x="21.6" y="84.1" width="1.3" height="1.3" fill="#e5ff1a"/>
<rect x="20.7" y="81.3" width="1.3" height="1.3" fill="#4dffb2"/>
<rect x="20.0" y="78.5" width="1.3" height="1.3" fill="#80ff80"/>
<rect x="19.5" y="75.7" width="1.3" height="1.3" fill="#b3ff4c"/>
<rect x="19.1" y="72.9" width="1.3" height="1.3" fill="#4dffb2"/>
<rect x="18.8" y="70.0" width="1.3" height="1.3" fill="#e5ff1a"/>
<rect x="18.8" y="67.1" width="1.3" height="1.3" fill="#80ff80"/>
<rect x="18.8" y="64.3" width="1.3" height="1.3" fill="#4dffb2"/>
<rect x="19.1" y="61.4" width="1.3" height="1.3" fill="#80ff80"/>
<rect x="19.5" y="58.6" width="1.3" height="1.3" fill="#ffe500"/>
<rect x="20.0" y="55.8" width="1.3" height="1.3" fill="#4dffb2"/>
<rect x="20.7" y="53.0" width="1.3" height="1.3" fill="#faff05"/>
<rect x="21.6" y="50.2" width="1.3" height="1.3" fill="#ffe500"/>
<rect x="22.6" y="47.6" width="1.3" height="1.3" fill="#ffe500"/>
<rect x="23.8" y="45.0" width="1.3" height="1.3" fill="#faff05"/>
<rect x="25.1" y="42.4" width="1.3" height="1.3" fill="#b3ff4c"/>
<rect x="26.6" y="40.0" width="1.3" height="1.3" fill="#80ff80"/>
<rect x="28.2" y="37.6" width="1.3" height="1.3" fill="#b3ff4c"/>
<rect x="29.9" y="35.3" width="1.3" height="1.3" fill="#4dffb2"/>
<rect x="31.7" y="33.1" width="1.3" height="1.3" fill="#2effd1"/>
<rect x="33.7" y="31.1" width="1.3" height="1.3" fill="#b3ff4c"/>
<rect x="35.8" y="29.1" width="1.3" height="1.3" fill="#ffc700"/>
<rect x="37.9" y="27.3" width="1.3" height="1.3" fill="#2effd1"/>
<rect x="40.2" y="25.6" width="1.3" height="1.3" fill="#4dffb2"/>
<rect x="42.6" y="24.1" width="1.3" height="1.3" fill="#2effd1"/>
<rect x="45.0" y="22.7" width="1.3" height="1.3" fill="#b3ff4c"/>
<rect x="47.6" y="21.4" width="1.3" height="1.3" fill="#ffe500"/>
<rect x="50.2" y="20.3" width="1.3" height="1.3" fill="#b3ff4c"/>
<rect x="52.8" y="19.3" width="1.3" height="1.3" fill="#faff05"/>
<rect x="55.5" y="18.5" width="1.3" height="1.3" fill="#d1ff2e"/>
<rect x="58.3" y="17.9" width="1.3" height="1.3" fill="#e5ff1a"/>
<rect x="61.0" y="17.4" width="1.3" height="1.3" fill="#d1ff2e"/>
<rect x="63.8" y="17.0" width="1.3" height="1.3" fill="#ffe500"/>
<rect x="66.6" y="16.9" width="1.3" height="1.3" fill="#4dffb2"/>
<rect x="69.5" y="16.9" width="1.3" height="1.3" fill="#ffc700"/>
<rect x="72.3" y="17.0" width="1.3" height="1.3" fill="#4dffb2"/>
<rect x="75.1" y="17.4" width="1.3" height="1.3" fill="#ffc700"/>
<rect x="77.8" y="17.9" width="1.3" height="1.3" fill="#80ff80"/>
<rect x="80.6" y="18.5" width="1.3" height="1.3" fill="#ffe500"/>
<rect x="83.3" y="19.3" width="1.3" height="1.3" fill="#e5ff1a"/>
<rect x="85.9" y="20.3" width="1.3" height="1.3" fill="#4dffb2"/>
<rect x="88.5" y="21.4" width="1.3" height="1.3" fill="#80ff80"/>
<rect x="91.1" y="22.7" width="1.3" height="1.3" fill="#b3ff4c"/>
<rect x="93.5" y="24.1" width="1.3" height="1.3" fill="#2effd1"/>
<rect x="95.9" y="25.6" width="1.3" height="1.3" fill="#e5ff1a"/>
<rect x="98.2" y="27.3" width="1.3" height="1.3" fill="#d1ff2e"/>
<rect x="100.3" y="29.1" width="1.3" height="1.3" fill="#4dffb2"/>
<rect x="102.4" y="31.1" width="1.3" height="1.3" fill="#ffc700"/>
<rect x="104.4" y="33.1" width="1.3" height="1.3" fill="#4dffb2"/>
<rect x="106.2" y="35.3" width="1.3" height="1.3" fill="#faff05"/>
<rect x="107.9" y="37.6" width="1.3" height="1.3" fill="#4dffb2"/>
<rect x="109.5" y="40.0" width="1.3" height="1.3" fill="#80ff80"/>
<rect x="111.0" y="42.4" width="1.3" height="1.3" fill="#ffc700"/>
<rect x="112.3" y="45.0" width="1.3" height="1.3" fill="#e5ff1a"/>
<rect x="113.5" y="47.6" width="1.3" height="1.3" fill="#80ff80"/>
<rect x="114.5" y="50.2" width="1.3" height="1.3" fill="#4dffb2"/>
<rect x="115.4" y="53.0" width="1.3" height="1.3" fill="#80ff80"/>
<rect x="116.1" y="55.8" width="1.3" height="1.3" fill="#faff05"/>
<rect x="116.6" y="58.6" width="1.3" height="1.3" fill="#e5ff1a"/>
<rect x="117.0" y="61.4" width="1.3" height="1.3" fill="#faff05"/>
<rect x="117.3" y="64.3" width="1.3" height="1.3" fill="#80ff80"/>
<rect x="19.9" y="55.5" width="2" height="2" fill="#ff8000"/>
<rect x="19.7" y="77.2" width="2" height="2" fill="#ff8000"/>
<rect x="44.6" y="111.0" width="2" height="2" fill="#ff1a00"/>
<rect x="55.0" y="115.2" width="2" height="2" fill="#ff9e00"/>
<rect x="80.0" y="115.3" width="2" height="2" fill="#ff9e00"/>
<rect x="112.6" y="87.2" width="2" height="2" fill="#ff4c00"/>
<rect x="114.9" y="53.0" width="2" height="2" fill="#ff8000"/>
<rect x="113.8" y="49.7" width="2" height="2" fill="#ff6100"/>
<rect x="115.7" y="56.4" width="2" height="2" fill="#ffe500"/>
<rect x="116.6" y="62.4" width="2" height="2" fill="#faff05"/>
<rect x="63.4" y="16.9" width="2" height="2" fill="#e5ff1a"/>
<rect x="67.7" y="16.7" width="2" height="2" fill="#e5ff1a"/>
<rect x="72.0" y="16.9" width="2" height="2" fill="#e5ff1a"/>
<rect x="59.2" y="17.5" width="2" height="2" fill="#d1ff2e"/>
<circle cx="42.5" cy="62.3" r="5.2" fill="url(#g3)"/>
<circle cx="59.1" cy="74.6" r="5.2" fill="url(#g4)"/>
<circle cx="71.4" cy="85.8" r="5.2" fill="url(#g5)"/>
<ellipse cx="75.5" cy="107.1" rx="5.2" ry="5.8" fill="url(#g6)"/>
<circle cx="34.2" cy="110.0" r="5.4" fill="url(#g7)"/>
<g filter="url(#b05)">
<circle cx="79.6" cy="70.5" r="3.1" fill="none" stroke="#0094ff" stroke-width="1.3"/>
<circle cx="52.0" cy="87.4" r="3.1" fill="none" stroke="#008aff" stroke-width="1.3"/>
</g>
<g filter="url(#b05)">
<circle cx="66.8" cy="58.2" r="3.0" fill="none" stroke="#0038ff" stroke-width="2.4"/>
<circle cx="64.7" cy="39.8" r="3.6" fill="none" stroke="#002eff" stroke-width="2.8"/>
<circle cx="81.6" cy="34.7" r="4.0" fill="none" stroke="#0038ff" stroke-width="3.2"/>
<circle cx="81.6" cy="34.7" r="1.2" fill="none" stroke="#000fff" stroke-width="1.0"/>
</g>
<rect x="44.5" y="43.5" width="1.6" height="4" fill="#00b2ff" opacity="1"/>
<rect x="48.1" y="43.5" width="1.6" height="4" fill="#00b2ff" opacity="1"/>
<circle cx="34.1" cy="71.0" r="4.5" fill="url(#g8)"/>
<circle cx="87.2" cy="82.8" r="4.2" fill="url(#g9)"/>
<circle cx="92.3" cy="82.8" r="4.2" fill="url(#g9)"/>
<circle cx="103.4" cy="61.6" r="4.5" fill="url(#g9)"/>
<circle cx="76.3" cy="95.0" r="3.0" fill="url(#g10)"/>
<circle cx="50.4" cy="74.0" r="2.5" fill="url(#g11)"/>
<circle cx="63.7" cy="82.2" r="2.5" fill="url(#g11)"/>
<circle cx="80.6" cy="48.5" r="1.8" fill="url(#g9)"/>
<text x="11.9" y="16.8" text-anchor="middle" font-family="Liberation Sans" font-size="15" fill="#fff">g</text></g>
<g transform="translate(413,16)" clip-path="url(#c03)"><rect x="0" y="0" width="134" height="134" fill="#00008f"/>
<rect x="14.8" y="55" width="1.6" height="9" fill="#006bff" opacity="1"/>
<rect x="14.8" y="88" width="1.6" height="11" fill="#0042ff" opacity="1"/>
<ellipse cx="116.8" cy="93.5" rx="2.2" ry="5.5" fill="url(#g0)"/>
<ellipse cx="109.5" cy="109.5" rx="6.5" ry="3.3" fill="url(#g1)"/>
<ellipse cx="41.0" cy="116.5" rx="5" ry="2.5" fill="url(#g0)"/>
<ellipse cx="17.5" cy="64.0" rx="2" ry="6" fill="url(#g2)"/>
<ellipse cx="68.7" cy="67.8" rx="46.8" ry="47.8" fill="none" stroke="#0061ff" stroke-width="1.3"/>
<ellipse cx="68.7" cy="67.8" rx="48.3" ry="49.3" fill="none" stroke="#0ffff0" stroke-width="1.7"/>
<ellipse cx="68.7" cy="67.8" rx="49.4" ry="50.4" fill="none" stroke="#a8ff57" stroke-width="1"/>
<rect x="117.3" y="67.1" width="1.3" height="1.3" fill="#e5ff1a"/>
<rect x="117.3" y="70.0" width="1.3" height="1.3" fill="#ffe500"/>
<rect x="117.0" y="72.9" width="1.3" height="1.3" fill="#80ff80"/>
<rect x="116.6" y="75.7" width="1.3" height="1.3" fill="#b3ff4c"/>
<rect x="116.1" y="78.5" width="1.3" height="1.3" fill="#b3ff4c"/>
<rect x="115.4" y="81.3" width="1.3" height="1.3" fill="#faff05"/>
<rect x="114.5" y="84.1" width="1.3" height="1.3" fill="#ffe500"/>
<rect x="113.5" y="86.7" width="1.3" height="1.3" fill="#4dffb2"/>
<rect x="112.3" y="89.3" width="1.3" height="1.3" fill="#4dffb2"/>
<rect x="111.0" y="91.9" width="1.3" height="1.3" fill="#b3ff4c"/>
<rect x="109.5" y="94.3" width="1.3" height="1.3" fill="#80ff80"/>
<rect x="107.9" y="96.7" width="1.3" height="1.3" fill="#ffe500"/>
<rect x="106.2" y="99.0" width="1.3" height="1.3" fill="#d1ff2e"/>
<rect x="104.4" y="101.2" width="1.3" height="1.3" fill="#2effd1"/>
<rect x="102.4" y="103.2" width="1.3" height="1.3" fill="#ffc700"/>
<rect x="100.3" y="105.2" width="1.3" height="1.3" fill="#ffc700"/>
<rect x="98.2" y="107.0" width="1.3" height="1.3" fill="#e5ff1a"/>
<rect x="95.9" y="108.7" width="1.3" height="1.3" fill="#d1ff2e"/>
<rect x="93.5" y="110.2" width="1.3" height="1.3" fill="#ffc700"/>
<rect x="91.1" y="111.6" width="1.3" height="1.3" fill="#80ff80"/>
<rect x="88.5" y="112.9" width="1.3" height="1.3" fill="#e5ff1a"/>
<rect x="85.9" y="114.0" width="1.3" height="1.3" fill="#2effd1"/>
<rect x="83.3" y="115.0" width="1.3" height="1.3" fill="#4dffb2"/>
<rect x="80.6" y="115.8" width="1.3" height="1.3" fill="#e5ff1a"/>
<rect x="77.8" y="116.4" width="1.3" height="1.3" fill="#4dffb2"/>
<rect x="75.1" y="116.9" width="1.3" height="1.3" fill="#2effd1"/>
<rect x="72.3" y="117.3" width="1.3" height="1.3" fill="#80ff80"/>
<rect x="69.5" y="117.4" width="1.3" height="1.3" fill="#ffe500"/>
<rect x="66.6" y="117.4" width="1.3" height="1.3" fill="#e5ff1a"/>
<rect x="63.8" y="117.3" width="1.3" height="1.3" fill="#d1ff2e"/>
<rect x="61.0" y="116.9" width="1.3" height="1.3" fill="#80ff80"/>
<rect x="58.3" y="116.4" width="1.3" height="1.3" fill="#e5ff1a"/>
<rect x="55.5" y="115.8" width="1.3" height="1.3" fill="#b3ff4c"/>
<rect x="52.8" y="115.0" width="1.3" height="1.3" fill="#d1ff2e"/>
<rect x="50.2" y="114.0" width="1.3" height="1.3" fill="#4dffb2"/>
<rect x="47.6" y="112.9" width="1.3" height="1.3" fill="#ffe500"/>
<rect x="45.0" y="111.6" width="1.3" height="1.3" fill="#d1ff2e"/>
<rect x="42.6" y="110.2" width="1.3" height="1.3" fill="#ffc700"/>
<rect x="40.2" y="108.7" width="1.3" height="1.3" fill="#ffc700"/>
<rect x="37.9" y="107.0" width="1.3" height="1.3" fill="#b3ff4c"/>
<rect x="35.8" y="105.2" width="1.3" height="1.3" fill="#4dffb2"/>
<rect x="33.7" y="103.2" width="1.3" height="1.3" fill="#d1ff2e"/>
<rect x="31.7" y="101.2" width="1.3" height="1.3" fill="#2effd1"/>
<rect x="29.9" y="99.0" width="1.3" height="1.3" fill="#80ff80"/>
<rect x="28.2" y="96.7" width="1.3" height="1.3" fill="#4dffb2"/>
<rect x="26.6" y="94.3" width="1.3" height="1.3" fill="#e5ff1a"/>
<rect x="25.1" y="91.9" width="1.3" height="1.3" fill="#e5ff1a"/>
<rect x="23.8" y="89.3" width="1.3" height="1.3" fill="#ffc700"/>
<rect x="22.6" y="86.7" width="1.3" height="1.3" fill="#ffc700"/>
<rect x="21.6" y="84.1" width="1.3" height="1.3" fill="#d1ff2e"/>
<rect x="20.7" y="81.3" width="1.3" height="1.3" fill="#e5ff1a"/>
<rect x="20.0" y="78.5" width="1.3" height="1.3" fill="#80ff80"/>
<rect x="19.5" y="75.7" width="1.3" height="1.3" fill="#80ff80"/>
<rect x="19.1" y="72.9" width="1.3" height="1.3" fill="#d1ff2e"/>
<rect x="18.8" y="70.0" width="1.3" height="1.3" fill="#2effd1"/>
<rect x="18.8" y="67.1" width="1.3" height="1.3" fill="#ffe500"/>
<rect x="18.8" y="64.3" width="1.3" height="1.3" fill="#d1ff2e"/>
<rect x="19.1" y="61.4" width="1.3" height="1.3" fill="#faff05"/>
<rect x="19.5" y="58.6" width="1.3" height="1.3" fill="#d1ff2e"/>
<rect x="20.0" y="55.8" width="1.3" height="1.3" fill="#ffc700"/>
<rect x="20.7" y="53.0" width="1.3" height="1.3" fill="#b3ff4c"/>
<rect x="21.6" y="50.2" width="1.3" height="1.3" fill="#d1ff2e"/>
<rect x="22.6" y="47.6" width="1.3" height="1.3" fill="#faff05"/>
<rect x="23.8" y="45.0" width="1.3" height="1.3" fill="#b3ff4c"/>
<rect x="25.1" y="42.4" width="1.3" height="1.3" fill="#4dffb2"/>
<rect x="26.6" y="40.0" width="1.3" height="1.3" fill="#ffc700"/>
<rect x="28.2" y="37.6" width="1.3" height="1.3" fill="#80ff80"/>
<rect x="29.9" y="35.3" width="1.3" height="1.3" fill="#4dffb2"/>
<rect x="31.7" y="33.1" width="1.3" height="1.3" fill="#2effd1"/>
<rect x="33.7" y="31.1" width="1.3" height="1.3" fill="#ffc700"/>
<rect x="35.8" y="29.1" width="1.3" height="1.3" fill="#2effd1"/>
<rect x="37.9" y="27.3" width="1.3" height="1.3" fill="#80ff80"/>
<rect x="40.2" y="25.6" width="1.3" height="1.3" fill="#faff05"/>
<rect x="42.6" y="24.1" width="1.3" height="1.3" fill="#ffe500"/>
<rect x="45.0" y="22.7" width="1.3" height="1.3" fill="#b3ff4c"/>
<rect x="47.6" y="21.4" width="1.3" height="1.3" fill="#faff05"/>
<rect x="50.2" y="20.3" width="1.3" height="1.3" fill="#2effd1"/>
<rect x="52.8" y="19.3" width="1.3" height="1.3" fill="#2effd1"/>
<rect x="55.5" y="18.5" width="1.3" height="1.3" fill="#e5ff1a"/>
<rect x="58.3" y="17.9" width="1.3" height="1.3" fill="#ffe500"/>
<rect x="61.0" y="17.4" width="1.3" height="1.3" fill="#d1ff2e"/>
<rect x="63.8" y="17.0" width="1.3" height="1.3" fill="#e5ff1a"/>
<rect x="66.6" y="16.9" width="1.3" height="1.3" fill="#ffe500"/>
<rect x="69.5" y="16.9" width="1.3" height="1.3" fill="#ffe500"/>
<rect x="72.3" y="17.0" width="1.3" height="1.3" fill="#2effd1"/>
<rect x="75.1" y="17.4" width="1.3" height="1.3" fill="#e5ff1a"/>
<rect x="77.8" y="17.9" width="1.3" height="1.3" fill="#ffc700"/>
<rect x="80.6" y="18.5" width="1.3" height="1.3" fill="#2effd1"/>
<rect x="83.3" y="19.3" width="1.3" height="1.3" fill="#ffe500"/>
<rect x="85.9" y="20.3" width="1.3" height="1.3" fill="#80ff80"/>
<rect x="88.5" y="21.4" width="1.3" height="1.3" fill="#2effd1"/>
<rect x="91.1" y="22.7" width="1.3" height="1.3" fill="#e5ff1a"/>
<rect x="93.5" y="24.1" width="1.3" height="1.3" fill="#d1ff2e"/>
<rect x="95.9" y="25.6" width="1.3" height="1.3" fill="#80ff80"/>
<rect x="98.2" y="27.3" width="1.3" height="1.3" fill="#ffe500"/>
<rect x="100.3" y="29.1" width="1.3" height="1.3" fill="#ffe500"/>
<rect x="102.4" y="31.1" width="1.3" height="1.3" fill="#faff05"/>
<rect x="104.4" y="33.1" width="1.3" height="1.3" fill="#b3ff4c"/>
<rect x="106.2" y="35.3" width="1.3" height="1.3" fill="#b3ff4c"/>
<rect x="107.9" y="37.6" width="1.3" height="1.3" fill="#ffc700"/>
<rect x="109.5" y="40.0" width="1.3" height="1.3" fill="#e5ff1a"/>
<rect x="111.0" y="42.4" width="1.3" height="1.3" fill="#80ff80"/>
<rect x="112.3" y="45.0" width="1.3" height="1.3" fill="#4dffb2"/>
<rect x="113.5" y="47.6" width="1.3" height="1.3" fill="#d1ff2e"/>
<rect x="114.5" y="50.2" width="1.3" height="1.3" fill="#80ff80"/>
<rect x="115.4" y="53.0" width="1.3" height="1.3" fill="#ffc700"/>
<rect x="116.1" y="55.8" width="1.3" height="1.3" fill="#ffe500"/>
<rect x="116.6" y="58.6" width="1.3" height="1.3" fill="#4dffb2"/>
<rect x="117.0" y="61.4" width="1.3" height="1.3" fill="#ffc700"/>
<rect x="117.3" y="64.3" width="1.3" height="1.3" fill="#80ff80"/>
<rect x="19.9" y="55.5" width="2" height="2" fill="#ff8000"/>
<rect x="19.7" y="77.2" width="2" height="2" fill="#ff8000"/>
<rect x="44.6" y="111.0" width="2" height="2" fill="#ff1a00"/>
<rect x="55.0" y="115.2" width="2" height="2" fill="#ff9e00"/>
<rect x="80.0" y="115.3" width="2" height="2" fill="#ff9e00"/>
<rect x="112.6" y="87.2" width="2" height="2" fill="#ff4c00"/>
<rect x="114.9" y="53.0" width="2" height="2" fill="#ff8000"/>
<rect x="113.8" y="49.7" width="2" height="2" fill="#ff6100"/>
<rect x="115.7" y="56.4" width="2" height="2" fill="#ffe500"/>
<rect x="116.6" y="62.4" width="2" height="2" fill="#faff05"/>
<rect x="63.4" y="16.9" width="2" height="2" fill="#e5ff1a"/>
<rect x="67.7" y="16.7" width="2" height="2" fill="#e5ff1a"/>
<rect x="72.0" y="16.9" width="2" height="2" fill="#e5ff1a"/>
<rect x="59.2" y="17.5" width="2" height="2" fill="#d1ff2e"/>
<circle cx="42.5" cy="62.3" r="5.2" fill="url(#g3)"/>
<circle cx="59.1" cy="74.6" r="5.2" fill="url(#g4)"/>
<circle cx="71.4" cy="85.8" r="5.2" fill="url(#g5)"/>
<ellipse cx="75.5" cy="107.1" rx="5.2" ry="5.8" fill="url(#g6)"/>
<circle cx="34.2" cy="110.0" r="5.4" fill="url(#g7)"/>
<g filter="url(#b05)">
<circle cx="79.6" cy="70.5" r="3.1" fill="none" stroke="#0094ff" stroke-width="1.3"/>
<circle cx="52.0" cy="87.4" r="3.1" fill="none" stroke="#008aff" stroke-width="1.3"/>
</g>
<g filter="url(#b05)">
<circle cx="66.8" cy="58.2" r="3.0" fill="none" stroke="#0038ff" stroke-width="2.4"/>
<circle cx="64.7" cy="39.8" r="3.6" fill="none" stroke="#002eff" stroke-width="2.8"/>
<circle cx="81.6" cy="34.7" r="4.0" fill="none" stroke="#0038ff" stroke-width="3.2"/>
<circle cx="81.6" cy="34.7" r="1.2" fill="none" stroke="#000fff" stroke-width="1.0"/>
</g>
<rect x="44.5" y="43.5" width="1.6" height="4" fill="#00b2ff" opacity="1"/>
<rect x="48.1" y="43.5" width="1.6" height="4" fill="#00b2ff" opacity="1"/>
<circle cx="34.1" cy="71.0" r="4.5" fill="url(#g8)"/>
<circle cx="87.2" cy="82.8" r="4.2" fill="url(#g9)"/>
<circle cx="92.3" cy="82.8" r="4.2" fill="url(#g9)"/>
<circle cx="103.4" cy="61.6" r="4.5" fill="url(#g9)"/>
<circle cx="76.3" cy="95.0" r="3.0" fill="url(#g10)"/>
<circle cx="50.4" cy="74.0" r="2.5" fill="url(#g11)"/>
<circle cx="63.7" cy="82.2" r="2.5" fill="url(#g11)"/>
<circle cx="80.6" cy="48.5" r="1.8" fill="url(#g9)"/>
<text x="11.9" y="16.8" text-anchor="middle" font-family="Liberation Sans" font-size="15" fill="#fff">j</text></g>
<g transform="translate(551,16)" clip-path="url(#c04)"><rect x="0" y="0" width="134" height="134" fill="#00008f"/>
<rect x="14.8" y="55" width="1.6" height="9" fill="#006bff" opacity="1"/>
<rect x="14.8" y="88" width="1.6" height="11" fill="#0042ff" opacity="1"/>
<ellipse cx="116.8" cy="93.5" rx="2.2" ry="5.5" fill="url(#g0)"/>
<ellipse cx="109.5" cy="109.5" rx="6.5" ry="3.3" fill="url(#g1)"/>
<ellipse cx="41.0" cy="116.5" rx="5" ry="2.5" fill="url(#g0)"/>
<ellipse cx="17.5" cy="64.0" rx="2" ry="6" fill="url(#g2)"/>
<ellipse cx="68.7" cy="67.8" rx="46.8" ry="47.8" fill="none" stroke="#0061ff" stroke-width="1.3"/>
<ellipse cx="68.7" cy="67.8" rx="48.3" ry="49.3" fill="none" stroke="#0ffff0" stroke-width="1.7"/>
<ellipse cx="68.7" cy="67.8" rx="49.4" ry="50.4" fill="none" stroke="#a8ff57" stroke-width="1"/>
<rect x="117.3" y="67.1" width="1.3" height="1.3" fill="#4dffb2"/>
<rect x="117.3" y="70.0" width="1.3" height="1.3" fill="#faff05"/>
<rect x="117.0" y="72.9" width="1.3" height="1.3" fill="#2effd1"/>
<rect x="116.6" y="75.7" width="1.3" height="1.3" fill="#b3ff4c"/>
<rect x="116.1" y="78.5" width="1.3" height="1.3" fill="#e5ff1a"/>
<rect x="115.4" y="81.3" width="1.3" height="1.3" fill="#ffc700"/>
<rect x="114.5" y="84.1" width="1.3" height="1.3" fill="#e5ff1a"/>
<rect x="113.5" y="86.7" width="1.3" height="1.3" fill="#4dffb2"/>
<rect x="112.3" y="89.3" width="1.3" height="1.3" fill="#b3ff4c"/>
<rect x="111.0" y="91.9" width="1.3" height="1.3" fill="#ffc700"/>
<rect x="109.5" y="94.3" width="1.3" height="1.3" fill="#d1ff2e"/>
<rect x="107.9" y="96.7" width="1.3" height="1.3" fill="#b3ff4c"/>
<rect x="106.2" y="99.0" width="1.3" height="1.3" fill="#e5ff1a"/>
<rect x="104.4" y="101.2" width="1.3" height="1.3" fill="#2effd1"/>
<rect x="102.4" y="103.2" width="1.3" height="1.3" fill="#2effd1"/>
<rect x="100.3" y="105.2" width="1.3" height="1.3" fill="#e5ff1a"/>
<rect x="98.2" y="107.0" width="1.3" height="1.3" fill="#d1ff2e"/>
<rect x="95.9" y="108.7" width="1.3" height="1.3" fill="#e5ff1a"/>
<rect x="93.5" y="110.2" width="1.3" height="1.3" fill="#ffc700"/>
<rect x="91.1" y="111.6" width="1.3" height="1.3" fill="#2effd1"/>
<rect x="88.5" y="112.9" width="1.3" height="1.3" fill="#b3ff4c"/>
<rect x="85.9" y="114.0" width="1.3" height="1.3" fill="#e5ff1a"/>
<rect x="83.3" y="115.0" width="1.3" height="1.3" fill="#d1ff2e"/>
<rect x="80.6" y="115.8" width="1.3" height="1.3" fill="#b3ff4c"/>
<rect x="77.8" y="116.4" width="1.3" height="1.3" fill="#2effd1"/>
<rect x="75.1" y="116.9" width="1.3" height="1.3" fill="#b3ff4c"/>
<rect x="72.3" y="117.3" width="1.3" height="1.3" fill="#d1ff2e"/>
<rect x="69.5" y="117.4" width="1.3" height="1.3" fill="#b3ff4c"/>
<rect x="66.6" y="117.4" width="1.3" height="1.3" fill="#ffc700"/>
<rect x="63.8" y="117.3" width="1.3" height="1.3" fill="#faff05"/>
<rect x="61.0" y="116.9" width="1.3" height="1.3" fill="#80ff80"/>
<rect x="58.3" y="116.4" width="1.3" height="1.3" fill="#2effd1"/>
<rect x="55.5" y="115.8" width="1.3" height="1.3" fill="#faff05"/>
<rect x="52.8" y="115.0" width="1.3" height="1.3" fill="#ffc700"/>
<rect x="50.2" y="114.0" width="1.3" height="1.3" fill="#e5ff1a"/>
<rect x="47.6" y="112.9" width="1.3" height="1.3" fill="#80ff80"/>
<rect x="45.0" y="111.6" width="1.3" height="1.3" fill="#ffc700"/>
<rect x="42.6" y="110.2" width="1.3" height="1.3" fill="#faff05"/>
<rect x="40.2" y="108.7" width="1.3" height="1.3" fill="#e5ff1a"/>
<rect x="37.9" y="107.0" width="1.3" height="1.3" fill="#d1ff2e"/>
<rect x="35.8" y="105.2" width="1.3" height="1.3" fill="#4dffb2"/>
<rect x="33.7" y="103.2" width="1.3" height="1.3" fill="#e5ff1a"/>
<rect x="31.7" y="101.2" width="1.3" height="1.3" fill="#ffc700"/>
<rect x="29.9" y="99.0" width="1.3" height="1.3" fill="#e5ff1a"/>
<rect x="28.2" y="96.7" width="1.3" height="1.3" fill="#b3ff4c"/>
<rect x="26.6" y="94.3" width="1.3" height="1.3" fill="#d1ff2e"/>
<rect x="25.1" y="91.9" width="1.3" height="1.3" fill="#ffe500"/>
<rect x="23.8" y="89.3" width="1.3" height="1.3" fill="#ffc700"/>
<rect x="22.6" y="86.7" width="1.3" height="1.3" fill="#2effd1"/>
<rect x="21.6" y="84.1" width="1.3" height="1.3" fill="#4dffb2"/>
<rect x="20.7" y="81.3" width="1.3" height="1.3" fill="#ffe500"/>
<rect x="20.0" y="78.5" width="1.3" height="1.3" fill="#ffe500"/>
<rect x="19.5" y="75.7" width="1.3" height="1.3" fill="#4dffb2"/>
<rect x="19.1" y="72.9" width="1.3" height="1.3" fill="#80ff80"/>
<rect x="18.8" y="70.0" width="1.3" height="1.3" fill="#d1ff2e"/>
<rect x="18.8" y="67.1" width="1.3" height="1.3" fill="#faff05"/>
<rect x="18.8" y="64.3" width="1.3" height="1.3" fill="#d1ff2e"/>
<rect x="19.1" y="61.4" width="1.3" height="1.3" fill="#e5ff1a"/>
<rect x="19.5" y="58.6" width="1.3" height="1.3" fill="#80ff80"/>
<rect x="20.0" y="55.8" width="1.3" height="1.3" fill="#ffc700"/>
<rect x="20.7" y="53.0" width="1.3" height="1.3" fill="#ffe500"/>
<rect x="21.6" y="50.2" width="1.3" height="1.3" fill="#4dffb2"/>
<rect x="22.6" y="47.6" width="1.3" height="1.3" fill="#ffe500"/>
<rect x="23.8" y="45.0" width="1.3" height="1.3" fill="#80ff80"/>
<rect x="25.1" y="42.4" width="1.3" height="1.3" fill="#e5ff1a"/>
<rect x="26.6" y="40.0" width="1.3" height="1.3" fill="#e5ff1a"/>
<rect x="28.2" y="37.6" width="1.3" height="1.3" fill="#ffc700"/>
<rect x="29.9" y="35.3" width="1.3" height="1.3" fill="#2effd1"/>
<rect x="31.7" y="33.1" width="1.3" height="1.3" fill="#faff05"/>
<rect x="33.7" y="31.1" width="1.3" height="1.3" fill="#4dffb2"/>
<rect x="35.8" y="29.1" width="1.3" height="1.3" fill="#faff05"/>
<rect x="37.9" y="27.3" width="1.3" height="1.3" fill="#ffe500"/>
<rect x="40.2" y="25.6" width="1.3" height="1.3" fill="#2effd1"/>
<rect x="42.6" y="24.1" width="1.3" height="1.3" fill="#b3ff4c"/>
<rect x="45.0" y="22.7" width="1.3" height="1.3" fill="#e5ff1a"/>
<rect x="47.6" y="21.4" width="1.3" height="1.3" fill="#ffc700"/>
<rect x="50.2" y="20.3" width="1.3" height="1.3" fill="#4dffb2"/>
<rect x="52.8" y="19.3" width="1.3" height="1.3" fill="#4dffb2"/>
<rect x="55.5" y="18.5" width="1.3" height="1.3" fill="#4dffb2"/>
<rect x="58.3" y="17.9" width="1.3" height="1.3" fill="#ffe500"/>
<rect x="61.0" y="17.4" width="1.3" height="1.3" fill="#ffe500"/>
<rect x="63.8" y="17.0" width="1.3" height="1.3" fill="#e5ff1a"/>
<rect x="66.6" y="16.9" width="1.3" height="1.3" fill="#e5ff1a"/>
<rect x="69.5" y="16.9" width="1.3" height="1.3" fill="#80ff80"/>
<rect x="72.3" y="17.0" width="1.3" height="1.3" fill="#ffe500"/>
<rect x="75.1" y="17.4" width="1.3" height="1.3" fill="#e5ff1a"/>
<rect x="77.8" y="17.9" width="1.3" height="1.3" fill="#b3ff4c"/>
<rect x="80.6" y="18.5" width="1.3" height="1.3" fill="#80ff80"/>
<rect x="83.3" y="19.3" width="1.3" height="1.3" fill="#ffe500"/>
<rect x="85.9" y="20.3" width="1.3" height="1.3" fill="#80ff80"/>
<rect x="88.5" y="21.4" width="1.3" height="1.3" fill="#2effd1"/>
<rect x="91.1" y="22.7" width="1.3" height="1.3" fill="#4dffb2"/>
<rect x="93.5" y="24.1" width="1.3" height="1.3" fill="#b3ff4c"/>
<rect x="95.9" y="25.6" width="1.3" height="1.3" fill="#ffe500"/>
<rect x="98.2" y="27.3" width="1.3" height="1.3" fill="#4dffb2"/>
<rect x="100.3" y="29.1" width="1.3" height="1.3" fill="#faff05"/>
<rect x="102.4" y="31.1" width="1.3" height="1.3" fill="#e5ff1a"/>
<rect x="104.4" y="33.1" width="1.3" height="1.3" fill="#ffe500"/>
<rect x="106.2" y="35.3" width="1.3" height="1.3" fill="#b3ff4c"/>
<rect x="107.9" y="37.6" width="1.3" height="1.3" fill="#d1ff2e"/>
<rect x="109.5" y="40.0" width="1.3" height="1.3" fill="#80ff80"/>
<rect x="111.0" y="42.4" width="1.3" height="1.3" fill="#faff05"/>
<rect x="112.3" y="45.0" width="1.3" height="1.3" fill="#d1ff2e"/>
<rect x="113.5" y="47.6" width="1.3" height="1.3" fill="#2effd1"/>
<rect x="114.5" y="50.2" width="1.3" height="1.3" fill="#2effd1"/>
<rect x="115.4" y="53.0" width="1.3" height="1.3" fill="#ffe500"/>
<rect x="116.1" y="55.8" width="1.3" height="1.3" fill="#e5ff1a"/>
<rect x="116.6" y="58.6" width="1.3" height="1.3" fill="#faff05"/>
<rect x="117.0" y="61.4" width="1.3" height="1.3" fill="#ffe500"/>
<rect x="117.3" y="64.3" width="1.3" height="1.3" fill="#2effd1"/>
<rect x="19.9" y="55.5" width="2" height="2" fill="#ff8000"/>
<rect x="19.7" y="77.2" width="2" height="2" fill="#ff8000"/>
<rect x="44.6" y="111.0" width="2" height="2" fill="#ff1a00"/>
<rect x="55.0" y="115.2" width="2" height="2" fill="#ff9e00"/>
<rect x="80.0" y="115.3" width="2" height="2" fill="#ff9e00"/>
<rect x="112.6" y="87.2" width="2" height="2" fill="#ff4c00"/>
<rect x="114.9" y="53.0" width="2" height="2" fill="#ff8000"/>
<rect x="113.8" y="49.7" width="2" height="2" fill="#ff6100"/>
<rect x="115.7" y="56.4" width="2" height="2" fill="#ffe500"/>
<rect x="116.6" y="62.4" width="2" height="2" fill="#faff05"/>
<rect x="63.4" y="16.9" width="2" height="2" fill="#e5ff1a"/>
<rect x="67.7" y="16.7" width="2" height="2" fill="#e5ff1a"/>
<rect x="72.0" y="16.9" width="2" height="2" fill="#e5ff1a"/>
<rect x="59.2" y="17.5" width="2" height="2" fill="#d1ff2e"/>
<circle cx="42.5" cy="62.3" r="5.2" fill="url(#g3)"/>
<circle cx="59.1" cy="74.6" r="5.2" fill="url(#g4)"/>
<circle cx="71.4" cy="85.8" r="5.2" fill="url(#g5)"/>
<ellipse cx="75.5" cy="107.1" rx="5.2" ry="5.8" fill="url(#g6)"/>
<circle cx="34.2" cy="110.0" r="5.4" fill="url(#g7)"/>
<g filter="url(#b05)">
<circle cx="79.6" cy="70.5" r="3.1" fill="none" stroke="#0094ff" stroke-width="1.3"/>
<circle cx="52.0" cy="87.4" r="3.1" fill="none" stroke="#008aff" stroke-width="1.3"/>
</g>
<g filter="url(#b05)">
<circle cx="66.8" cy="58.2" r="3.0" fill="none" stroke="#0038ff" stroke-width="2.4"/>
<circle cx="64.7" cy="39.8" r="3.6" fill="none" stroke="#002eff" stroke-width="2.8"/>
<circle cx="81.6" cy="34.7" r="4.0" fill="none" stroke="#0038ff" stroke-width="3.2"/>
<circle cx="81.6" cy="34.7" r="1.2" fill="none" stroke="#000fff" stroke-width="1.0"/>
</g>
<rect x="44.5" y="43.5" width="1.6" height="4" fill="#00b2ff" opacity="1"/>
<rect x="48.1" y="43.5" width="1.6" height="4" fill="#00b2ff" opacity="1"/>
<circle cx="34.1" cy="71.0" r="4.5" fill="url(#g8)"/>
<circle cx="87.2" cy="82.8" r="4.2" fill="url(#g9)"/>
<circle cx="92.3" cy="82.8" r="4.2" fill="url(#g9)"/>
<circle cx="103.4" cy="61.6" r="4.5" fill="url(#g9)"/>
<circle cx="76.3" cy="95.0" r="3.0" fill="url(#g10)"/>
<circle cx="50.4" cy="74.0" r="2.5" fill="url(#g11)"/>
<circle cx="63.7" cy="82.2" r="2.5" fill="url(#g11)"/>
<circle cx="80.6" cy="48.5" r="1.8" fill="url(#g9)"/>
<rect x="133" y="0" width="1" height="134" fill="#14147a"/><text x="11.9" y="16.8" text-anchor="middle" font-family="Liberation Sans" font-size="15" fill="#fff">m</text></g>
<g transform="translate(0,152)" clip-path="url(#c10)"><rect x="0" y="0" width="134" height="133.5" fill="#00008f"/>
<g filter="url(#b05)"><circle cx="76.4" cy="73.4" r="5.8" fill="url(#g12)"/>
<circle cx="71.8" cy="86.0" r="5.8" fill="url(#g13)"/>
<circle cx="68.5" cy="106.4" r="5.8" fill="url(#g14)"/>
<circle cx="49.9" cy="97.6" r="5.2" fill="url(#g15)"/>
<ellipse cx="75.9" cy="38.7" rx="3.3" ry="6.0" fill="url(#g16)"/>
<circle cx="53.9" cy="43.3" r="4.0" fill="url(#g8)"/>
<circle cx="59.5" cy="58.1" r="4.3" fill="url(#g17)"/>
<circle cx="52.8" cy="82.2" r="3.6" fill="url(#g18)"/>
<circle cx="62.6" cy="84.1" r="4.2" fill="url(#g8)"/>
<circle cx="89.0" cy="58.1" r="2.8" fill="none" stroke="#009eff" stroke-width="1.4"/>
<ellipse cx="91.7" cy="24.9" rx="2.2" ry="5" fill="url(#g19)"/>
<circle cx="73.4" cy="94.9" r="3.3" fill="url(#g18)"/>
<circle cx="65.7" cy="70.3" r="3.4" fill="url(#g20)"/>
<circle cx="84.0" cy="70.0" r="3.0" fill="url(#g21)"/></g>
<ellipse cx="67.9" cy="67.6" rx="25.2" ry="50.4" fill="none" stroke="#24ffdb" stroke-width="1.4"/>
<rect x="92.2" y="66.6" width="1.9" height="1.9" fill="#1affe5"/>
<rect x="92.1" y="69.8" width="1.9" height="1.9" fill="#1affe5"/>
<rect x="92.0" y="73.0" width="1.9" height="1.9" fill="#e5ff1a"/>
<rect x="91.7" y="76.1" width="1.9" height="1.9" fill="#e5ff1a"/>
<rect x="91.4" y="79.2" width="1.9" height="1.9" fill="#4dffb2"/>
<rect x="90.9" y="82.2" width="1.9" height="1.9" fill="#80ff80"/>
<rect x="90.4" y="85.2" width="1.9" height="1.9" fill="#1affe5"/>
<rect x="89.8" y="88.1" width="1.9" height="1.9" fill="#1affe5"/>
<rect x="89.0" y="90.9" width="1.9" height="1.9" fill="#faff05"/>
<rect x="88.2" y="93.7" width="1.9" height="1.9" fill="#2effd1"/>
<rect x="87.3" y="96.3" width="1.9" height="1.9" fill="#2effd1"/>
<rect x="86.4" y="98.8" width="1.9" height="1.9" fill="#ff6100"/>
<rect x="85.3" y="101.2" width="1.9" height="1.9" fill="#b3ff4c"/>
<rect x="84.2" y="103.4" width="1.9" height="1.9" fill="#1affe5"/>
<rect x="83.0" y="105.5" width="1.9" height="1.9" fill="#ffc700"/>
<rect x="81.8" y="107.4" width="1.9" height="1.9" fill="#4dffb2"/>
<rect x="80.5" y="109.2" width="1.9" height="1.9" fill="#ff0500"/>
<rect x="79.1" y="110.8" width="1.9" height="1.9" fill="#faff05"/>
<rect x="77.7" y="112.3" width="1.9" height="1.9" fill="#2effd1"/>
<rect x="76.2" y="113.5" width="1.9" height="1.9" fill="#ff6100"/>
<rect x="74.7" y="114.6" width="1.9" height="1.9" fill="#b3ff4c"/>
<rect x="73.2" y="115.5" width="1.9" height="1.9" fill="#1affe5"/>
<rect x="71.7" y="116.2" width="1.9" height="1.9" fill="#ffc700"/>
<rect x="70.1" y="116.7" width="1.9" height="1.9" fill="#ffc700"/>
<rect x="68.5" y="117.0" width="1.9" height="1.9" fill="#ff0500"/>
<rect x="67.0" y="117.0" width="1.9" height="1.9" fill="#faff05"/>
<rect x="65.4" y="117.0" width="1.9" height="1.9" fill="#2effd1"/>
<rect x="63.8" y="116.7" width="1.9" height="1.9" fill="#ff6100"/>
<rect x="62.2" y="116.2" width="1.9" height="1.9" fill="#b3ff4c"/>
<rect x="60.7" y="115.5" width="1.9" height="1.9" fill="#1affe5"/>
<rect x="59.2" y="114.6" width="1.9" height="1.9" fill="#ffc700"/>
<rect x="57.7" y="113.5" width="1.9" height="1.9" fill="#4dffb2"/>
<rect x="56.2" y="112.3" width="1.9" height="1.9" fill="#ff0500"/>
<rect x="54.8" y="110.8" width="1.9" height="1.9" fill="#faff05"/>
<rect x="53.4" y="109.2" width="1.9" height="1.9" fill="#2effd1"/>
<rect x="52.1" y="107.4" width="1.9" height="1.9" fill="#ff6100"/>
<rect x="50.9" y="105.5" width="1.9" height="1.9" fill="#b3ff4c"/>
<rect x="49.7" y="103.4" width="1.9" height="1.9" fill="#1affe5"/>
<rect x="48.6" y="101.2" width="1.9" height="1.9" fill="#b3ff4c"/>
<rect x="47.5" y="98.8" width="1.9" height="1.9" fill="#4dffb2"/>
<rect x="46.6" y="96.3" width="1.9" height="1.9" fill="#ff0500"/>
<rect x="45.7" y="93.7" width="1.9" height="1.9" fill="#faff05"/>
<rect x="44.9" y="90.9" width="1.9" height="1.9" fill="#2effd1"/>
<rect x="44.1" y="88.1" width="1.9" height="1.9" fill="#1affe5"/>
<rect x="43.5" y="85.2" width="1.9" height="1.9" fill="#80ff80"/>
<rect x="43.0" y="82.2" width="1.9" height="1.9" fill="#b3ff4c"/>
<rect x="42.5" y="79.2" width="1.9" height="1.9" fill="#e5ff1a"/>
<rect x="42.2" y="76.1" width="1.9" height="1.9" fill="#2effd1"/>
<rect x="41.9" y="73.0" width="1.9" height="1.9" fill="#4dffb2"/>
<rect x="41.8" y="69.8" width="1.9" height="1.9" fill="#4dffb2"/>
<rect x="41.8" y="66.6" width="1.9" height="1.9" fill="#2effd1"/>
<rect x="41.8" y="63.5" width="1.9" height="1.9" fill="#1affe5"/>
<rect x="41.9" y="60.3" width="1.9" height="1.9" fill="#e5ff1a"/>
<rect x="42.2" y="57.2" width="1.9" height="1.9" fill="#2effd1"/>
<rect x="42.5" y="54.1" width="1.9" height="1.9" fill="#1affe5"/>
<rect x="43.0" y="51.1" width="1.9" height="1.9" fill="#4dffb2"/>
<rect x="43.5" y="48.1" width="1.9" height="1.9" fill="#e5ff1a"/>
<rect x="44.1" y="45.2" width="1.9" height="1.9" fill="#b3ff4c"/>
<rect x="44.9" y="42.4" width="1.9" height="1.9" fill="#ff6100"/>
<rect x="45.7" y="39.6" width="1.9" height="1.9" fill="#b3ff4c"/>
<rect x="46.6" y="37.0" width="1.9" height="1.9" fill="#ff0500"/>
<rect x="47.5" y="34.5" width="1.9" height="1.9" fill="#ffc700"/>
<rect x="48.6" y="32.1" width="1.9" height="1.9" fill="#4dffb2"/>
<rect x="49.7" y="29.9" width="1.9" height="1.9" fill="#faff05"/>
<rect x="50.9" y="27.8" width="1.9" height="1.9" fill="#faff05"/>
<rect x="52.1" y="25.9" width="1.9" height="1.9" fill="#ff0500"/>
<rect x="53.4" y="24.1" width="1.9" height="1.9" fill="#1affe5"/>
<rect x="54.8" y="22.5" width="1.9" height="1.9" fill="#b3ff4c"/>
<rect x="56.2" y="21.0" width="1.9" height="1.9" fill="#1affe5"/>
<rect x="57.7" y="19.8" width="1.9" height="1.9" fill="#ffc700"/>
<rect x="59.2" y="18.7" width="1.9" height="1.9" fill="#ff0500"/>
<rect x="60.7" y="17.8" width="1.9" height="1.9" fill="#2effd1"/>
<rect x="62.2" y="17.1" width="1.9" height="1.9" fill="#faff05"/>
<rect x="63.8" y="16.6" width="1.9" height="1.9" fill="#2effd1"/>
<rect x="65.4" y="16.3" width="1.9" height="1.9" fill="#ff6100"/>
<rect x="67.0" y="16.2" width="1.9" height="1.9" fill="#b3ff4c"/>
<rect x="68.5" y="16.3" width="1.9" height="1.9" fill="#faff05"/>
<rect x="70.1" y="16.6" width="1.9" height="1.9" fill="#ffc700"/>
<rect x="71.7" y="17.1" width="1.9" height="1.9" fill="#4dffb2"/>
<rect x="73.2" y="17.8" width="1.9" height="1.9" fill="#b3ff4c"/>
<rect x="74.7" y="18.7" width="1.9" height="1.9" fill="#faff05"/>
<rect x="76.2" y="19.8" width="1.9" height="1.9" fill="#ff6100"/>
<rect x="77.7" y="21.0" width="1.9" height="1.9" fill="#ff6100"/>
<rect x="79.1" y="22.5" width="1.9" height="1.9" fill="#b3ff4c"/>
<rect x="80.5" y="24.1" width="1.9" height="1.9" fill="#1affe5"/>
<rect x="81.8" y="25.9" width="1.9" height="1.9" fill="#ffc700"/>
<rect x="83.0" y="27.8" width="1.9" height="1.9" fill="#4dffb2"/>
<rect x="84.2" y="29.9" width="1.9" height="1.9" fill="#ff0500"/>
<rect x="85.3" y="32.1" width="1.9" height="1.9" fill="#faff05"/>
<rect x="86.4" y="34.5" width="1.9" height="1.9" fill="#2effd1"/>
<rect x="87.3" y="37.0" width="1.9" height="1.9" fill="#ff6100"/>
<rect x="88.2" y="39.6" width="1.9" height="1.9" fill="#b3ff4c"/>
<rect x="89.0" y="42.4" width="1.9" height="1.9" fill="#1affe5"/>
<rect x="89.8" y="45.2" width="1.9" height="1.9" fill="#4dffb2"/>
<rect x="90.4" y="48.1" width="1.9" height="1.9" fill="#4dffb2"/>
<rect x="90.9" y="51.1" width="1.9" height="1.9" fill="#4dffb2"/>
<rect x="91.4" y="54.1" width="1.9" height="1.9" fill="#e5ff1a"/>
<rect x="91.7" y="57.2" width="1.9" height="1.9" fill="#4dffb2"/>
<rect x="92.0" y="60.3" width="1.9" height="1.9" fill="#2effd1"/>
<rect x="92.1" y="63.5" width="1.9" height="1.9" fill="#80ff80"/>
<rect x="63.900000000000006" y="16.399999999999995" width="8" height="1.6" fill="#ff0500" opacity="1"/>
<rect x="63.900000000000006" y="117.2" width="8" height="1.6" fill="#ff4c00" opacity="1"/>
<rect x="0" y="0" width="1" height="133.5" fill="#10106a"/><text x="9.8" y="16.8" text-anchor="middle" font-family="Liberation Sans" font-size="15" fill="#fff">b</text></g>
<g transform="translate(137,152)" clip-path="url(#c11)"><rect x="0" y="0" width="135" height="133.5" fill="#00008f"/>
<rect x="0" y="0" width="135" height="133" fill="#000" filter="url(#nzE)"/>
<ellipse cx="67.9" cy="67.6" rx="27.8" ry="52.0" fill="none" stroke="#0024ff" stroke-width="1" stroke-dasharray="1.2 1.6" opacity="0.33"/>
<ellipse cx="67.9" cy="67.6" rx="30.4" ry="53.6" fill="none" stroke="#0024ff" stroke-width="1" stroke-dasharray="1.2 1.6" opacity="0.35"/>
<ellipse cx="67.9" cy="67.6" rx="33.0" ry="55.2" fill="none" stroke="#0024ff" stroke-width="1" stroke-dasharray="1.2 1.6" opacity="0.51"/>
<ellipse cx="67.9" cy="67.6" rx="35.6" ry="56.8" fill="none" stroke="#0024ff" stroke-width="1" stroke-dasharray="1.2 1.6" opacity="0.35"/>
<ellipse cx="67.9" cy="67.6" rx="38.2" ry="58.4" fill="none" stroke="#0024ff" stroke-width="1" stroke-dasharray="1.2 1.6" opacity="0.58"/>
<ellipse cx="67.9" cy="67.6" rx="40.8" ry="60.0" fill="none" stroke="#0024ff" stroke-width="1" stroke-dasharray="1.2 1.6" opacity="0.55"/>
<ellipse cx="67.9" cy="67.6" rx="43.4" ry="61.6" fill="none" stroke="#0024ff" stroke-width="1" stroke-dasharray="1.2 1.6" opacity="0.52"/>
<ellipse cx="67.9" cy="67.6" rx="46.0" ry="63.2" fill="none" stroke="#0024ff" stroke-width="1" stroke-dasharray="1.2 1.6" opacity="0.44"/>
<ellipse cx="67.9" cy="67.6" rx="48.6" ry="64.8" fill="none" stroke="#0024ff" stroke-width="1" stroke-dasharray="1.2 1.6" opacity="0.55"/>
<ellipse cx="67.9" cy="67.6" rx="51.2" ry="66.4" fill="none" stroke="#0024ff" stroke-width="1" stroke-dasharray="1.2 1.6" opacity="0.37"/>
<ellipse cx="67.9" cy="67.6" rx="53.8" ry="68.0" fill="none" stroke="#0024ff" stroke-width="1" stroke-dasharray="1.2 1.6" opacity="0.48"/>
<ellipse cx="67.9" cy="67.6" rx="56.4" ry="69.6" fill="none" stroke="#0024ff" stroke-width="1" stroke-dasharray="1.2 1.6" opacity="0.41"/>
<ellipse cx="67.9" cy="67.6" rx="59.0" ry="71.2" fill="none" stroke="#0024ff" stroke-width="1" stroke-dasharray="1.2 1.6" opacity="0.45"/>
<ellipse cx="67.9" cy="67.6" rx="61.6" ry="72.8" fill="none" stroke="#0024ff" stroke-width="1" stroke-dasharray="1.2 1.6" opacity="0.59"/>
<ellipse cx="67.9" cy="67.6" rx="64.2" ry="74.4" fill="none" stroke="#0024ff" stroke-width="1" stroke-dasharray="1.2 1.6" opacity="0.36"/>
<ellipse cx="67.9" cy="67.6" rx="66.8" ry="76.0" fill="none" stroke="#0024ff" stroke-width="1" stroke-dasharray="1.2 1.6" opacity="0.53"/>
<ellipse cx="67.9" cy="67.6" rx="69.4" ry="77.6" fill="none" stroke="#0024ff" stroke-width="1" stroke-dasharray="1.2 1.6" opacity="0.53"/>
<ellipse cx="67.9" cy="67.6" rx="72.0" ry="79.2" fill="none" stroke="#0024ff" stroke-width="1" stroke-dasharray="1.2 1.6" opacity="0.33"/>
<ellipse cx="67.9" cy="67.6" rx="74.6" ry="80.8" fill="none" stroke="#0024ff" stroke-width="1" stroke-dasharray="1.2 1.6" opacity="0.60"/>
<ellipse cx="67.9" cy="67.6" rx="77.2" ry="82.4" fill="none" stroke="#0024ff" stroke-width="1" stroke-dasharray="1.2 1.6" opacity="0.43"/>
<ellipse cx="67.9" cy="67.6" rx="79.8" ry="84.0" fill="none" stroke="#0024ff" stroke-width="1" stroke-dasharray="1.2 1.6" opacity="0.46"/>
<g filter="url(#b1)">
<line x1="38.7" y1="67.6" x2="27.4" y2="-21.7" stroke="#002eff" stroke-width="1.6" opacity="0.28"/>
<line x1="38.7" y1="67.6" x2="23.3" y2="156.3" stroke="#002eff" stroke-width="1.6" opacity="0.24"/>
<line x1="38.7" y1="67.6" x2="15.5" y2="-19.4" stroke="#002eff" stroke-width="1.6" opacity="0.32"/>
<line x1="38.7" y1="67.6" x2="14.7" y2="154.3" stroke="#002eff" stroke-width="1.6" opacity="0.30"/>
<line x1="38.7" y1="67.6" x2="8.3" y2="-17.1" stroke="#002eff" stroke-width="1.6" opacity="0.24"/>
<line x1="38.7" y1="67.6" x2="8.6" y2="152.4" stroke="#002eff" stroke-width="1.6" opacity="0.25"/>
<line x1="38.7" y1="67.6" x2="-4.3" y2="-11.5" stroke="#002eff" stroke-width="1.6" opacity="0.33"/>
<line x1="38.7" y1="67.6" x2="-0.6" y2="148.6" stroke="#002eff" stroke-width="1.6" opacity="0.23"/>
<line x1="38.7" y1="67.6" x2="-9.2" y2="-8.6" stroke="#002eff" stroke-width="1.6" opacity="0.35"/>
<line x1="38.7" y1="67.6" x2="-9.3" y2="143.7" stroke="#002eff" stroke-width="1.6" opacity="0.25"/>
<line x1="97.1" y1="67.6" x2="107.7" y2="-21.8" stroke="#002eff" stroke-width="1.6" opacity="0.22"/>
<line x1="97.1" y1="67.6" x2="112.4" y2="156.3" stroke="#002eff" stroke-width="1.6" opacity="0.26"/>
<line x1="97.1" y1="67.6" x2="119.7" y2="-19.5" stroke="#002eff" stroke-width="1.6" opacity="0.33"/>
<line x1="97.1" y1="67.6" x2="119.0" y2="154.9" stroke="#002eff" stroke-width="1.6" opacity="0.33"/>
<line x1="97.1" y1="67.6" x2="129.5" y2="-16.4" stroke="#002eff" stroke-width="1.6" opacity="0.29"/>
<line x1="97.1" y1="67.6" x2="128.3" y2="152.0" stroke="#002eff" stroke-width="1.6" opacity="0.34"/>
<line x1="97.1" y1="67.6" x2="138.9" y2="-12.1" stroke="#002eff" stroke-width="1.6" opacity="0.24"/>
<line x1="97.1" y1="67.6" x2="140.2" y2="146.6" stroke="#002eff" stroke-width="1.6" opacity="0.33"/>
<line x1="97.1" y1="67.6" x2="149.8" y2="-5.4" stroke="#002eff" stroke-width="1.6" opacity="0.30"/>
<line x1="97.1" y1="67.6" x2="147.1" y2="142.4" stroke="#002eff" stroke-width="1.6" opacity="0.24"/>
</g>
<ellipse cx="67.9" cy="67.6" rx="23.2" ry="46.4" fill="#00009e" opacity="0.45" filter="url(#b2)"/>
<g filter="url(#b2)" opacity="0.75">
<ellipse cx="41.7" cy="69.6" rx="6" ry="26" fill="#002eff"/>
<ellipse cx="94.60000000000001" cy="69.6" rx="6" ry="26" fill="#002eff"/>
</g>
<g filter="url(#b1)">
<rect x="46.1" y="97.9" width="2.2" height="2.2" fill="#0033ff" opacity="0.7"/>
<rect x="86.0" y="86.7" width="2.2" height="2.2" fill="#0001ff" opacity="0.7"/>
<rect x="79.8" y="99.8" width="3.3" height="2.2" fill="#0007ff" opacity="0.7"/>
<rect x="52.7" y="90.6" width="4.4" height="2.2" fill="#006eff" opacity="0.7"/>
<rect x="91.1" y="65.6" width="3.3" height="2.2" fill="#0028ff" opacity="0.7"/>
<rect x="36.3" y="62.2" width="3.3" height="2.2" fill="#007dff" opacity="0.7"/>
<rect x="86.4" y="74.1" width="2.2" height="2.2" fill="#0039ff" opacity="0.7"/>
<rect x="45.3" y="98.4" width="2.2" height="2.2" fill="#004fff" opacity="0.7"/>
<rect x="93.8" y="56.0" width="3.3" height="2.2" fill="#006aff" opacity="0.7"/>
<rect x="65.2" y="107.0" width="4.4" height="2.2" fill="#0017ff" opacity="0.7"/>
<rect x="44.1" y="88.1" width="3.3" height="2.2" fill="#0022ff" opacity="0.7"/>
<rect x="78.5" y="39.7" width="4.4" height="2.2" fill="#0037ff" opacity="0.7"/>
<rect x="87.7" y="88.4" width="4.4" height="2.2" fill="#0089ff" opacity="0.7"/>
<rect x="93.6" y="56.8" width="2.2" height="2.2" fill="#0028ff" opacity="0.7"/>
<rect x="46.0" y="57.1" width="2.2" height="2.2" fill="#001bff" opacity="0.7"/>
<rect x="61.5" y="93.8" width="2.2" height="2.2" fill="#000eff" opacity="0.7"/>
<rect x="91.5" y="70.1" width="2.2" height="2.2" fill="#0059ff" opacity="0.7"/>
<rect x="75.8" y="35.9" width="2.2" height="2.2" fill="#002cff" opacity="0.7"/>
<rect x="39.2" y="67.4" width="2.2" height="2.2" fill="#000eff" opacity="0.7"/>
<rect x="84.1" y="89.9" width="2.2" height="2.2" fill="#0069ff" opacity="0.7"/>
<rect x="45.3" y="58.9" width="2.2" height="2.2" fill="#0073ff" opacity="0.7"/>
<rect x="69.5" y="103.3" width="3.3" height="2.2" fill="#003aff" opacity="0.7"/>
<rect x="78.8" y="95.3" width="2.2" height="2.2" fill="#000eff" opacity="0.7"/>
<rect x="88.4" y="93.5" width="4.4" height="2.2" fill="#006cff" opacity="0.7"/>
<rect x="54.8" y="92.5" width="4.4" height="2.2" fill="#0017ff" opacity="0.7"/>
<rect x="47.7" y="81.7" width="4.4" height="2.2" fill="#0066ff" opacity="0.7"/>
<rect x="68.6" y="44.6" width="2.2" height="2.2" fill="#0000fc" opacity="0.7"/>
<rect x="55.2" y="38.2" width="3.3" height="2.2" fill="#0039ff" opacity="0.7"/>
<rect x="78.1" y="90.1" width="3.3" height="2.2" fill="#0016ff" opacity="0.7"/>
<rect x="87.4" y="53.4" width="2.2" height="2.2" fill="#003aff" opacity="0.7"/>
<rect x="77.6" y="43.9" width="3.3" height="2.2" fill="#007fff" opacity="0.7"/>
<rect x="90.2" y="65.8" width="4.4" height="2.2" fill="#000fff" opacity="0.7"/>
<rect x="83.2" y="53.5" width="2.2" height="2.2" fill="#0041ff" opacity="0.7"/>
<rect x="77.2" y="96.1" width="3.3" height="2.2" fill="#0042ff" opacity="0.7"/>
<rect x="55.3" y="41.1" width="4.4" height="2.2" fill="#0018ff" opacity="0.7"/>
<rect x="45.7" y="68.9" width="2.2" height="2.2" fill="#004bff" opacity="0.7"/>
<rect x="54.4" y="44.7" width="2.2" height="2.2" fill="#007dff" opacity="0.7"/>
<rect x="67.8" y="42.6" width="4.4" height="2.2" fill="#001bff" opacity="0.7"/>
<rect x="90.7" y="56.4" width="4.4" height="2.2" fill="#0056ff" opacity="0.7"/>
<rect x="46.5" y="66.4" width="2.2" height="2.2" fill="#001eff" opacity="0.7"/>
<rect x="86.2" y="56.0" width="2.2" height="2.2" fill="#0081ff" opacity="0.7"/>
<rect x="55.6" y="90.9" width="2.2" height="2.2" fill="#0000fb" opacity="0.7"/>
<rect x="76.6" y="43.2" width="2.2" height="2.2" fill="#006dff" opacity="0.7"/>
<rect x="86.0" y="84.5" width="4.4" height="2.2" fill="#0086ff" opacity="0.7"/>
<rect x="40.4" y="72.6" width="4.4" height="2.2" fill="#0083ff" opacity="0.7"/>
<rect x="52.9" y="35.2" width="2.2" height="2.2" fill="#0045ff" opacity="0.7"/>
<rect x="66.4" y="104.6" width="4.4" height="2.2" fill="#0026ff" opacity="0.7"/>
<rect x="77.8" y="40.5" width="3.3" height="2.2" fill="#003fff" opacity="0.7"/>
<rect x="43.3" y="54.0" width="4.4" height="2.2" fill="#0022ff" opacity="0.7"/>
<rect x="70.7" y="105.3" width="2.2" height="2.2" fill="#0087ff" opacity="0.7"/>
<rect x="72.9" y="108.3" width="2.2" height="2.2" fill="#0083ff" opacity="0.7"/>
<rect x="90.7" y="57.0" width="3.3" height="2.2" fill="#005fff" opacity="0.7"/>
<rect x="88.1" y="87.5" width="4.4" height="2.2" fill="#0012ff" opacity="0.7"/>
<rect x="77.3" y="91.2" width="3.3" height="2.2" fill="#0004ff" opacity="0.7"/>
<rect x="78.2" y="93.1" width="3.3" height="2.2" fill="#0068ff" opacity="0.7"/>
<rect x="64.8" y="99.0" width="4.4" height="2.2" fill="#0062ff" opacity="0.7"/>
<rect x="55.5" y="38.9" width="2.2" height="2.2" fill="#002fff" opacity="0.7"/>
<rect x="41.1" y="68.0" width="2.2" height="2.2" fill="#002fff" opacity="0.7"/>
<rect x="66.9" y="31.0" width="2.2" height="2.2" fill="#0019ff" opacity="0.7"/>
<rect x="90.7" y="56.6" width="3.3" height="2.2" fill="#000aff" opacity="0.7"/>
<rect x="36.4" y="74.1" width="3.3" height="2.2" fill="#0000fc" opacity="0.7"/>
<rect x="93.2" y="76.8" width="3.3" height="2.2" fill="#004cff" opacity="0.7"/>
<rect x="86.4" y="95.1" width="2.2" height="2.2" fill="#0061ff" opacity="0.7"/>
<rect x="90.7" y="60.7" width="4.4" height="2.2" fill="#0052ff" opacity="0.7"/>
<rect x="77.9" y="48.7" width="3.3" height="2.2" fill="#0044ff" opacity="0.7"/>
<rect x="44.6" y="69.1" width="2.2" height="2.2" fill="#007fff" opacity="0.7"/>
<rect x="53.2" y="46.0" width="3.3" height="2.2" fill="#0000ff" opacity="0.7"/>
<rect x="41.0" y="80.6" width="3.3" height="2.2" fill="#003cff" opacity="0.7"/>
<rect x="51.0" y="47.1" width="2.2" height="2.2" fill="#0073ff" opacity="0.7"/>
<rect x="82.1" y="87.9" width="4.4" height="2.2" fill="#005dff" opacity="0.7"/>
<rect x="37.8" y="79.3" width="4.4" height="2.2" fill="#0043ff" opacity="0.7"/>
<rect x="84.0" y="89.9" width="3.3" height="2.2" fill="#0025ff" opacity="0.7"/>
<rect x="95.7" y="77.1" width="3.3" height="2.2" fill="#0008ff" opacity="0.7"/>
<rect x="87.9" y="90.6" width="3.3" height="2.2" fill="#0048ff" opacity="0.7"/>
<rect x="63.8" y="34.1" width="2.2" height="2.2" fill="#003eff" opacity="0.7"/>
<rect x="84.5" y="48.0" width="2.2" height="2.2" fill="#0066ff" opacity="0.7"/>
<rect x="85.5" y="95.3" width="2.2" height="2.2" fill="#0071ff" opacity="0.7"/>
<rect x="74.8" y="102.4" width="3.3" height="2.2" fill="#0041ff" opacity="0.7"/>
<rect x="78.4" y="35.6" width="2.2" height="2.2" fill="#002dff" opacity="0.7"/>
<rect x="60.7" y="109.4" width="3.3" height="2.2" fill="#0012ff" opacity="0.7"/>
<rect x="58.8" y="94.4" width="2.2" height="2.2" fill="#0021ff" opacity="0.7"/>
<rect x="36.9" y="78.9" width="2.2" height="2.2" fill="#0019ff" opacity="0.7"/>
<rect x="47.4" y="100.3" width="2.2" height="2.2" fill="#000cff" opacity="0.7"/>
<rect x="80.6" y="97.0" width="2.2" height="2.2" fill="#003fff" opacity="0.7"/>
<rect x="36.6" y="68.9" width="2.2" height="2.2" fill="#0003ff" opacity="0.7"/>
<rect x="60.5" y="96.8" width="2.2" height="2.2" fill="#0049ff" opacity="0.7"/>
<rect x="55.8" y="45.5" width="2.2" height="2.2" fill="#0011ff" opacity="0.7"/>
<rect x="61.7" y="36.5" width="3.3" height="2.2" fill="#0088ff" opacity="0.7"/>
<rect x="93.7" y="62.6" width="2.2" height="2.2" fill="#0009ff" opacity="0.7"/>
<rect x="85.1" y="91.4" width="2.2" height="2.2" fill="#001bff" opacity="0.7"/>
<rect x="56.3" y="92.8" width="2.4" height="2.4" fill="#0019ff" opacity="0.6"/>
<rect x="72.3" y="64.4" width="2.4" height="2.4" fill="#005bff" opacity="0.6"/>
<rect x="70.5" y="30.7" width="3.6" height="2.4" fill="#001fff" opacity="0.6"/>
<rect x="81.3" y="67.2" width="4.8" height="2.4" fill="#0066ff" opacity="0.6"/>
<rect x="66.5" y="53.0" width="4.8" height="2.4" fill="#0042ff" opacity="0.6"/>
<rect x="72.6" y="97.5" width="2.4" height="2.4" fill="#0000fe" opacity="0.6"/>
<rect x="51.8" y="52.5" width="2.4" height="2.4" fill="#000dff" opacity="0.6"/>
<rect x="67.6" y="74.1" width="2.4" height="2.4" fill="#0057ff" opacity="0.6"/>
<rect x="74.7" y="56.3" width="4.8" height="2.4" fill="#0000fc" opacity="0.6"/>
<rect x="77.7" y="100.2" width="2.4" height="2.4" fill="#002dff" opacity="0.6"/>
<rect x="63.4" y="46.1" width="2.4" height="2.4" fill="#0065ff" opacity="0.6"/>
<rect x="83.5" y="54.3" width="3.6" height="2.4" fill="#004dff" opacity="0.6"/>
<rect x="60.9" y="47.0" width="2.4" height="2.4" fill="#0034ff" opacity="0.6"/>
<rect x="57.3" y="101.7" width="2.4" height="2.4" fill="#0049ff" opacity="0.6"/>
<rect x="77.9" y="90.0" width="4.8" height="2.4" fill="#0029ff" opacity="0.6"/>
<rect x="61.2" y="36.7" width="2.4" height="2.4" fill="#001aff" opacity="0.6"/>
<rect x="55.3" y="86.1" width="3.6" height="2.4" fill="#000eff" opacity="0.6"/>
<rect x="71.4" y="99.8" width="2.4" height="2.4" fill="#0016ff" opacity="0.6"/>
<rect x="75.8" y="49.1" width="4.8" height="2.4" fill="#0000f7" opacity="0.6"/>
<rect x="83.9" y="60.5" width="2.4" height="2.4" fill="#0047ff" opacity="0.6"/>
<rect x="46.1" y="55.2" width="4.8" height="2.4" fill="#003fff" opacity="0.6"/>
<rect x="69.8" y="59.9" width="2.4" height="2.4" fill="#0028ff" opacity="0.6"/>
<rect x="74.3" y="57.6" width="4.8" height="2.4" fill="#0026ff" opacity="0.6"/>
<rect x="55.9" y="68.2" width="4.8" height="2.4" fill="#0042ff" opacity="0.6"/>
<rect x="60.0" y="78.6" width="2.4" height="2.4" fill="#003fff" opacity="0.6"/>
<rect x="72.3" y="90.2" width="3.6" height="2.4" fill="#0000ec" opacity="0.6"/>
<rect x="55.8" y="67.0" width="2.4" height="2.4" fill="#006dff" opacity="0.6"/>
<rect x="47.4" y="53.7" width="3.6" height="2.4" fill="#002aff" opacity="0.6"/>
<rect x="54.1" y="42.3" width="3.6" height="2.4" fill="#0016ff" opacity="0.6"/>
<rect x="60.6" y="91.9" width="2.4" height="2.4" fill="#0007ff" opacity="0.6"/>
<rect x="62.2" y="80.9" width="3.6" height="2.4" fill="#004dff" opacity="0.6"/>
<rect x="82.8" y="59.5" width="2.4" height="2.4" fill="#0000f7" opacity="0.6"/>
<rect x="57.5" y="94.2" width="4.8" height="2.4" fill="#003eff" opacity="0.6"/>
<rect x="67.6" y="67.7" width="2.4" height="2.4" fill="#0000e8" opacity="0.6"/>
<rect x="71.4" y="37.8" width="4.8" height="2.4" fill="#0026ff" opacity="0.6"/>
<rect x="59.4" y="42.0" width="2.4" height="2.4" fill="#0032ff" opacity="0.6"/>
<rect x="67.8" y="69.7" width="4.8" height="2.4" fill="#0029ff" opacity="0.6"/>
<rect x="62.1" y="37.1" width="2.4" height="2.4" fill="#0033ff" opacity="0.6"/>
<rect x="71.5" y="47.4" width="2.4" height="2.4" fill="#0039ff" opacity="0.6"/>
<rect x="62.0" y="93.3" width="4.8" height="2.4" fill="#004dff" opacity="0.6"/>
<rect x="58.2" y="42.2" width="4.8" height="2.4" fill="#0067ff" opacity="0.6"/>
<rect x="53.2" y="98.0" width="4.8" height="2.4" fill="#0064ff" opacity="0.6"/>
<rect x="65.5" y="58.2" width="3.6" height="2.4" fill="#0028ff" opacity="0.6"/>
<rect x="64.2" y="73.1" width="4.8" height="2.4" fill="#0026ff" opacity="0.6"/>
<rect x="65.8" y="70.4" width="3.6" height="2.4" fill="#004cff" opacity="0.6"/>
</g>
<ellipse cx="67.9" cy="67.6" rx="27.2" ry="50.4" fill="none" stroke="#000fff" stroke-width="3.5" opacity="0.7" filter="url(#b15)"/>
<g filter="url(#b07)"><circle cx="76.4" cy="73.4" r="5.8" fill="url(#g12)"/>
<circle cx="71.8" cy="86.0" r="5.8" fill="url(#g13)"/>
<circle cx="68.5" cy="106.4" r="5.8" fill="url(#g14)"/>
<circle cx="49.9" cy="97.6" r="5.2" fill="url(#g15)"/>
<ellipse cx="75.9" cy="38.7" rx="3.3" ry="6.0" fill="url(#g16)"/>
<circle cx="53.9" cy="43.3" r="4.0" fill="url(#g8)"/>
<circle cx="59.5" cy="58.1" r="4.3" fill="url(#g17)"/>
<circle cx="52.8" cy="82.2" r="3.6" fill="url(#g18)"/>
<circle cx="62.6" cy="84.1" r="4.2" fill="url(#g8)"/>
<circle cx="89.0" cy="58.1" r="2.8" fill="none" stroke="#009eff" stroke-width="1.4"/>
<ellipse cx="91.7" cy="24.9" rx="2.2" ry="5" fill="url(#g19)"/>
<circle cx="73.4" cy="94.9" r="3.3" fill="url(#g18)"/>
<circle cx="65.7" cy="70.3" r="3.4" fill="url(#g20)"/>
<circle cx="84.0" cy="70.0" r="3.0" fill="url(#g21)"/></g>
<circle cx="76.4" cy="73.4" r="3.5" fill="url(#g22)"/>
<circle cx="71.8" cy="86.0" r="3.5" fill="url(#g23)"/>
<circle cx="68.5" cy="106.4" r="3.5" fill="url(#g24)"/>
<g filter="url(#b05)">
<path d="M45.06 46.30 A25.2 50.4 0 0 1 90.74 46.30" fill="none" stroke="#2effd1" stroke-width="2.2"/>
<path d="M90.15 91.26 A25.2 50.4 0 0 1 45.65 91.26" fill="none" stroke="#2effd1" stroke-width="2.2"/>
<rect x="89.4" y="89.5" width="2.0" height="2.0" fill="#ffe500"/>
<rect x="88.7" y="91.8" width="2.0" height="2.0" fill="#ffb300"/>
<rect x="88.0" y="94.0" width="2.0" height="2.0" fill="#faff05"/>
<rect x="87.3" y="96.2" width="2.0" height="2.0" fill="#ffb300"/>
<rect x="86.5" y="98.3" width="2.0" height="2.0" fill="#ffb300"/>
<rect x="85.6" y="100.3" width="2.0" height="2.0" fill="#ffe500"/>
<rect x="84.7" y="102.2" width="2.0" height="2.0" fill="#ffe500"/>
<rect x="83.8" y="104.1" width="2.0" height="2.0" fill="#faff05"/>
<rect x="82.8" y="105.8" width="2.0" height="2.0" fill="#ffb300"/>
<rect x="81.7" y="107.4" width="2.0" height="2.0" fill="#faff05"/>
<rect x="80.6" y="108.9" width="2.0" height="2.0" fill="#80ff80"/>
<rect x="79.5" y="110.2" width="2.0" height="2.0" fill="#80ff80"/>
<rect x="78.3" y="111.5" width="2.0" height="2.0" fill="#ffb300"/>
<rect x="77.1" y="112.6" width="2.0" height="2.0" fill="#faff05"/>
<rect x="75.9" y="113.7" width="2.0" height="2.0" fill="#ffe500"/>
<rect x="74.7" y="114.5" width="2.0" height="2.0" fill="#1affe5"/>
<rect x="73.4" y="115.3" width="2.0" height="2.0" fill="#faff05"/>
<rect x="72.1" y="115.9" width="2.0" height="2.0" fill="#ffb300"/>
<rect x="70.8" y="116.4" width="2.0" height="2.0" fill="#80ff80"/>
<rect x="69.5" y="116.7" width="2.0" height="2.0" fill="#4dffb2"/>
<rect x="68.2" y="116.9" width="2.0" height="2.0" fill="#ffe500"/>
<rect x="66.9" y="117.0" width="2.0" height="2.0" fill="#e5ff1a"/>
<rect x="65.6" y="116.9" width="2.0" height="2.0" fill="#80ff80"/>
<rect x="64.3" y="116.7" width="2.0" height="2.0" fill="#4dffb2"/>
<rect x="63.0" y="116.4" width="2.0" height="2.0" fill="#faff05"/>
<rect x="61.7" y="115.9" width="2.0" height="2.0" fill="#ffb300"/>
<rect x="60.4" y="115.3" width="2.0" height="2.0" fill="#1affe5"/>
<rect x="59.1" y="114.5" width="2.0" height="2.0" fill="#1affe5"/>
<rect x="57.9" y="113.7" width="2.0" height="2.0" fill="#4dffb2"/>
<rect x="56.7" y="112.6" width="2.0" height="2.0" fill="#faff05"/>
<rect x="55.5" y="111.5" width="2.0" height="2.0" fill="#ffe500"/>
<rect x="54.3" y="110.2" width="2.0" height="2.0" fill="#ffe500"/>
<rect x="53.2" y="108.9" width="2.0" height="2.0" fill="#1affe5"/>
<rect x="52.1" y="107.4" width="2.0" height="2.0" fill="#1affe5"/>
<rect x="51.0" y="105.8" width="2.0" height="2.0" fill="#faff05"/>
<rect x="50.0" y="104.1" width="2.0" height="2.0" fill="#1affe5"/>
<rect x="49.1" y="102.2" width="2.0" height="2.0" fill="#80ff80"/>
<rect x="48.2" y="100.3" width="2.0" height="2.0" fill="#faff05"/>
<rect x="47.3" y="98.3" width="2.0" height="2.0" fill="#4dffb2"/>
<rect x="46.5" y="96.2" width="2.0" height="2.0" fill="#ffb300"/>
<rect x="45.8" y="94.0" width="2.0" height="2.0" fill="#faff05"/>
<rect x="45.1" y="91.8" width="2.0" height="2.0" fill="#4dffb2"/>
<rect x="44.4" y="89.5" width="2.0" height="2.0" fill="#4dffb2"/>
<rect x="45.1" y="41.4" width="2.0" height="2.0" fill="#4dffb2"/>
<rect x="45.8" y="39.2" width="2.0" height="2.0" fill="#80ff80"/>
<rect x="46.5" y="37.0" width="2.0" height="2.0" fill="#80ff80"/>
<rect x="47.3" y="34.9" width="2.0" height="2.0" fill="#faff05"/>
<rect x="48.2" y="32.9" width="2.0" height="2.0" fill="#4dffb2"/>
<rect x="49.1" y="31.0" width="2.0" height="2.0" fill="#ffb300"/>
<rect x="50.0" y="29.1" width="2.0" height="2.0" fill="#ffe500"/>
<rect x="51.0" y="27.4" width="2.0" height="2.0" fill="#e5ff1a"/>
<rect x="52.1" y="25.8" width="2.0" height="2.0" fill="#ffe500"/>
<rect x="53.2" y="24.3" width="2.0" height="2.0" fill="#faff05"/>
<rect x="54.3" y="23.0" width="2.0" height="2.0" fill="#ffb300"/>
<rect x="55.5" y="21.7" width="2.0" height="2.0" fill="#80ff80"/>
<rect x="56.7" y="20.6" width="2.0" height="2.0" fill="#faff05"/>
<rect x="57.9" y="19.5" width="2.0" height="2.0" fill="#80ff80"/>
<rect x="59.1" y="18.7" width="2.0" height="2.0" fill="#1affe5"/>
<rect x="60.4" y="17.9" width="2.0" height="2.0" fill="#e5ff1a"/>
<rect x="61.7" y="17.3" width="2.0" height="2.0" fill="#ffe500"/>
<rect x="63.0" y="16.8" width="2.0" height="2.0" fill="#4dffb2"/>
<rect x="64.3" y="16.5" width="2.0" height="2.0" fill="#1affe5"/>
<rect x="65.6" y="16.3" width="2.0" height="2.0" fill="#4dffb2"/>
<rect x="66.9" y="16.2" width="2.0" height="2.0" fill="#ffe500"/>
<rect x="68.2" y="16.3" width="2.0" height="2.0" fill="#1affe5"/>
<rect x="69.5" y="16.5" width="2.0" height="2.0" fill="#e5ff1a"/>
<rect x="70.8" y="16.8" width="2.0" height="2.0" fill="#ffe500"/>
<rect x="72.1" y="17.3" width="2.0" height="2.0" fill="#faff05"/>
<rect x="73.4" y="17.9" width="2.0" height="2.0" fill="#ffb300"/>
<rect x="74.7" y="18.7" width="2.0" height="2.0" fill="#4dffb2"/>
<rect x="75.9" y="19.5" width="2.0" height="2.0" fill="#1affe5"/>
<rect x="77.1" y="20.6" width="2.0" height="2.0" fill="#e5ff1a"/>
<rect x="78.3" y="21.7" width="2.0" height="2.0" fill="#e5ff1a"/>
<rect x="79.5" y="23.0" width="2.0" height="2.0" fill="#ffb300"/>
<rect x="80.6" y="24.3" width="2.0" height="2.0" fill="#80ff80"/>
<rect x="81.7" y="25.8" width="2.0" height="2.0" fill="#faff05"/>
<rect x="82.8" y="27.4" width="2.0" height="2.0" fill="#e5ff1a"/>
<rect x="83.8" y="29.1" width="2.0" height="2.0" fill="#4dffb2"/>
<rect x="84.7" y="31.0" width="2.0" height="2.0" fill="#4dffb2"/>
<rect x="85.6" y="32.9" width="2.0" height="2.0" fill="#faff05"/>
<rect x="86.5" y="34.9" width="2.0" height="2.0" fill="#ffb300"/>
<rect x="87.3" y="37.0" width="2.0" height="2.0" fill="#4dffb2"/>
<rect x="88.0" y="39.2" width="2.0" height="2.0" fill="#ffe500"/>
<rect x="88.7" y="41.4" width="2.0" height="2.0" fill="#4dffb2"/>
</g>
<rect x="64.4" y="16.199999999999996" width="7" height="2" fill="#ff0500" opacity="1"/>
<rect x="64.4" y="117.0" width="7" height="2" fill="#ff3800" opacity="1"/>
<circle cx="49.5" cy="97.5" r="3.8" fill="url(#g25)"/>
<rect x="0" y="0" width="0.8" height="133.5" fill="#9a9a9a" opacity="0.8"/><text x="11.9" y="16.8" text-anchor="middle" font-family="Liberation Sans" font-size="15" fill="#fff">e</text></g>
<g transform="translate(275,152)" clip-path="url(#c12)"><rect x="0" y="0" width="134" height="133.5" fill="#00008f"/>
<rect x="0" y="0" width="135" height="133" fill="#000" filter="url(#nzH)"/>
<ellipse cx="67.9" cy="67.6" rx="27.8" ry="52.0" fill="none" stroke="#0024ff" stroke-width="1" stroke-dasharray="1.2 1.6" opacity="0.28"/>
<ellipse cx="67.9" cy="67.6" rx="30.4" ry="53.6" fill="none" stroke="#0024ff" stroke-width="1" stroke-dasharray="1.2 1.6" opacity="0.31"/>
<ellipse cx="67.9" cy="67.6" rx="33.0" ry="55.2" fill="none" stroke="#0024ff" stroke-width="1" stroke-dasharray="1.2 1.6" opacity="0.31"/>
<ellipse cx="67.9" cy="67.6" rx="35.6" ry="56.8" fill="none" stroke="#0024ff" stroke-width="1" stroke-dasharray="1.2 1.6" opacity="0.32"/>
<ellipse cx="67.9" cy="67.6" rx="38.2" ry="58.4" fill="none" stroke="#0024ff" stroke-width="1" stroke-dasharray="1.2 1.6" opacity="0.36"/>
<ellipse cx="67.9" cy="67.6" rx="40.8" ry="60.0" fill="none" stroke="#0024ff" stroke-width="1" stroke-dasharray="1.2 1.6" opacity="0.39"/>
<ellipse cx="67.9" cy="67.6" rx="43.4" ry="61.6" fill="none" stroke="#0024ff" stroke-width="1" stroke-dasharray="1.2 1.6" opacity="0.33"/>
<ellipse cx="67.9" cy="67.6" rx="46.0" ry="63.2" fill="none" stroke="#0024ff" stroke-width="1" stroke-dasharray="1.2 1.6" opacity="0.36"/>
<ellipse cx="67.9" cy="67.6" rx="48.6" ry="64.8" fill="none" stroke="#0024ff" stroke-width="1" stroke-dasharray="1.2 1.6" opacity="0.31"/>
<ellipse cx="67.9" cy="67.6" rx="51.2" ry="66.4" fill="none" stroke="#0024ff" stroke-width="1" stroke-dasharray="1.2 1.6" opacity="0.29"/>
<ellipse cx="67.9" cy="67.6" rx="53.8" ry="68.0" fill="none" stroke="#0024ff" stroke-width="1" stroke-dasharray="1.2 1.6" opacity="0.37"/>
<ellipse cx="67.9" cy="67.6" rx="56.4" ry="69.6" fill="none" stroke="#0024ff" stroke-width="1" stroke-dasharray="1.2 1.6" opacity="0.40"/>
<ellipse cx="67.9" cy="67.6" rx="59.0" ry="71.2" fill="none" stroke="#0024ff" stroke-width="1" stroke-dasharray="1.2 1.6" opacity="0.31"/>
<ellipse cx="67.9" cy="67.6" rx="61.6" ry="72.8" fill="none" stroke="#0024ff" stroke-width="1" stroke-dasharray="1.2 1.6" opacity="0.33"/>
<ellipse cx="67.9" cy="67.6" rx="64.2" ry="74.4" fill="none" stroke="#0024ff" stroke-width="1" stroke-dasharray="1.2 1.6" opacity="0.21"/>
<ellipse cx="67.9" cy="67.6" rx="66.8" ry="76.0" fill="none" stroke="#0024ff" stroke-width="1" stroke-dasharray="1.2 1.6" opacity="0.37"/>
<ellipse cx="67.9" cy="67.6" rx="69.4" ry="77.6" fill="none" stroke="#0024ff" stroke-width="1" stroke-dasharray="1.2 1.6" opacity="0.33"/>
<ellipse cx="67.9" cy="67.6" rx="72.0" ry="79.2" fill="none" stroke="#0024ff" stroke-width="1" stroke-dasharray="1.2 1.6" opacity="0.33"/>
<ellipse cx="67.9" cy="67.6" rx="74.6" ry="80.8" fill="none" stroke="#0024ff" stroke-width="1" stroke-dasharray="1.2 1.6" opacity="0.23"/>
<ellipse cx="67.9" cy="67.6" rx="77.2" ry="82.4" fill="none" stroke="#0024ff" stroke-width="1" stroke-dasharray="1.2 1.6" opacity="0.32"/>
<ellipse cx="67.9" cy="67.6" rx="79.8" ry="84.0" fill="none" stroke="#0024ff" stroke-width="1" stroke-dasharray="1.2 1.6" opacity="0.32"/>
<g filter="url(#b1)">
<line x1="38.7" y1="67.6" x2="28.3" y2="-21.8" stroke="#002eff" stroke-width="1.6" opacity="0.17"/>
<line x1="38.7" y1="67.6" x2="24.7" y2="156.5" stroke="#002eff" stroke-width="1.6" opacity="0.21"/>
<line x1="38.7" y1="67.6" x2="15.6" y2="-19.4" stroke="#002eff" stroke-width="1.6" opacity="0.20"/>
<line x1="38.7" y1="67.6" x2="14.2" y2="154.2" stroke="#002eff" stroke-width="1.6" opacity="0.21"/>
<line x1="38.7" y1="67.6" x2="10.5" y2="-17.9" stroke="#002eff" stroke-width="1.6" opacity="0.16"/>
<line x1="38.7" y1="67.6" x2="10.7" y2="153.1" stroke="#002eff" stroke-width="1.6" opacity="0.23"/>
<line x1="38.7" y1="67.6" x2="-3.2" y2="-12.0" stroke="#002eff" stroke-width="1.6" opacity="0.15"/>
<line x1="38.7" y1="67.6" x2="-0.4" y2="148.7" stroke="#002eff" stroke-width="1.6" opacity="0.15"/>
<line x1="38.7" y1="67.6" x2="-12.2" y2="-6.6" stroke="#002eff" stroke-width="1.6" opacity="0.18"/>
<line x1="38.7" y1="67.6" x2="-9.0" y2="143.9" stroke="#002eff" stroke-width="1.6" opacity="0.20"/>
<line x1="97.1" y1="67.6" x2="108.3" y2="-21.7" stroke="#002eff" stroke-width="1.6" opacity="0.15"/>
<line x1="97.1" y1="67.6" x2="112.7" y2="156.2" stroke="#002eff" stroke-width="1.6" opacity="0.23"/>
<line x1="97.1" y1="67.6" x2="121.2" y2="-19.1" stroke="#002eff" stroke-width="1.6" opacity="0.23"/>
<line x1="97.1" y1="67.6" x2="119.3" y2="154.8" stroke="#002eff" stroke-width="1.6" opacity="0.13"/>
<line x1="97.1" y1="67.6" x2="127.2" y2="-17.2" stroke="#002eff" stroke-width="1.6" opacity="0.19"/>
<line x1="97.1" y1="67.6" x2="130.4" y2="151.2" stroke="#002eff" stroke-width="1.6" opacity="0.16"/>
<line x1="97.1" y1="67.6" x2="135.5" y2="-13.8" stroke="#002eff" stroke-width="1.6" opacity="0.23"/>
<line x1="97.1" y1="67.6" x2="139.2" y2="147.2" stroke="#002eff" stroke-width="1.6" opacity="0.22"/>
<line x1="97.1" y1="67.6" x2="147.4" y2="-7.0" stroke="#002eff" stroke-width="1.6" opacity="0.16"/>
<line x1="97.1" y1="67.6" x2="146.5" y2="142.8" stroke="#002eff" stroke-width="1.6" opacity="0.14"/>
</g>
<ellipse cx="67.9" cy="67.6" rx="23.2" ry="46.4" fill="#00009e" opacity="0.45" filter="url(#b2)"/>
<g filter="url(#b2)" opacity="0.75">
<ellipse cx="41.7" cy="69.6" rx="6" ry="26" fill="#002eff"/>
<ellipse cx="94.60000000000001" cy="69.6" rx="6" ry="26" fill="#002eff"/>
</g>
<g filter="url(#b1)">
<rect x="76.7" y="104.8" width="2.2" height="2.2" fill="#0030ff" opacity="0.7"/>
<rect x="43.1" y="54.3" width="3.3" height="2.2" fill="#0001ff" opacity="0.7"/>
<rect x="53.2" y="88.7" width="2.2" height="2.2" fill="#0039ff" opacity="0.7"/>
<rect x="75.9" y="43.6" width="3.3" height="2.2" fill="#0027ff" opacity="0.7"/>
<rect x="68.9" y="36.3" width="2.2" height="2.2" fill="#0014ff" opacity="0.7"/>
<rect x="69.3" y="102.8" width="2.2" height="2.2" fill="#0004ff" opacity="0.7"/>
<rect x="82.2" y="86.0" width="2.2" height="2.2" fill="#0047ff" opacity="0.7"/>
<rect x="65.7" y="37.5" width="2.2" height="2.2" fill="#0087ff" opacity="0.7"/>
<rect x="79.4" y="105.0" width="2.2" height="2.2" fill="#0011ff" opacity="0.7"/>
<rect x="48.7" y="96.6" width="2.2" height="2.2" fill="#007fff" opacity="0.7"/>
<rect x="86.4" y="100.6" width="2.2" height="2.2" fill="#0086ff" opacity="0.7"/>
<rect x="40.5" y="70.5" width="2.2" height="2.2" fill="#0044ff" opacity="0.7"/>
<rect x="65.2" y="43.8" width="4.4" height="2.2" fill="#007fff" opacity="0.7"/>
<rect x="81.7" y="52.7" width="2.2" height="2.2" fill="#0047ff" opacity="0.7"/>
<rect x="40.9" y="62.3" width="2.2" height="2.2" fill="#004aff" opacity="0.7"/>
<rect x="42.7" y="60.2" width="4.4" height="2.2" fill="#006aff" opacity="0.7"/>
<rect x="86.3" y="94.9" width="3.3" height="2.2" fill="#002eff" opacity="0.7"/>
<rect x="56.1" y="91.1" width="2.2" height="2.2" fill="#0019ff" opacity="0.7"/>
<rect x="56.9" y="92.4" width="2.2" height="2.2" fill="#0048ff" opacity="0.7"/>
<rect x="47.6" y="56.4" width="2.2" height="2.2" fill="#0040ff" opacity="0.7"/>
<rect x="48.4" y="61.5" width="2.2" height="2.2" fill="#0025ff" opacity="0.7"/>
<rect x="76.6" y="96.2" width="2.2" height="2.2" fill="#0044ff" opacity="0.7"/>
<rect x="87.6" y="88.8" width="2.2" height="2.2" fill="#0035ff" opacity="0.7"/>
<rect x="47.2" y="95.5" width="2.2" height="2.2" fill="#0046ff" opacity="0.7"/>
<rect x="52.2" y="85.9" width="2.2" height="2.2" fill="#0011ff" opacity="0.7"/>
<rect x="42.5" y="66.1" width="2.2" height="2.2" fill="#0081ff" opacity="0.7"/>
<rect x="75.8" y="93.9" width="4.4" height="2.2" fill="#0005ff" opacity="0.7"/>
<rect x="67.9" y="33.6" width="2.2" height="2.2" fill="#0012ff" opacity="0.7"/>
<rect x="82.7" y="55.4" width="2.2" height="2.2" fill="#0020ff" opacity="0.7"/>
<rect x="59.3" y="31.5" width="4.4" height="2.2" fill="#0008ff" opacity="0.7"/>
<rect x="63.8" y="95.9" width="3.3" height="2.2" fill="#0082ff" opacity="0.7"/>
<rect x="54.3" y="48.2" width="2.2" height="2.2" fill="#0069ff" opacity="0.7"/>
<rect x="42.1" y="83.6" width="2.2" height="2.2" fill="#0071ff" opacity="0.7"/>
<rect x="42.5" y="46.3" width="2.2" height="2.2" fill="#0013ff" opacity="0.7"/>
<rect x="78.7" y="93.4" width="2.2" height="2.2" fill="#0035ff" opacity="0.7"/>
<rect x="41.9" y="73.7" width="4.4" height="2.2" fill="#0011ff" opacity="0.7"/>
<rect x="92.4" y="59.6" width="4.4" height="2.2" fill="#007fff" opacity="0.7"/>
<rect x="80.9" y="42.7" width="4.4" height="2.2" fill="#0070ff" opacity="0.7"/>
<rect x="85.5" y="53.1" width="2.2" height="2.2" fill="#0032ff" opacity="0.7"/>
<rect x="73.9" y="39.5" width="4.4" height="2.2" fill="#0081ff" opacity="0.7"/>
<rect x="41.9" y="70.1" width="2.2" height="2.2" fill="#0019ff" opacity="0.7"/>
<rect x="85.8" y="49.3" width="2.2" height="2.2" fill="#0039ff" opacity="0.7"/>
<rect x="46.6" y="44.1" width="4.4" height="2.2" fill="#0006ff" opacity="0.7"/>
<rect x="79.6" y="90.1" width="2.2" height="2.2" fill="#0050ff" opacity="0.7"/>
<rect x="79.6" y="50.1" width="4.4" height="2.2" fill="#000aff" opacity="0.7"/>
<rect x="53.6" y="98.1" width="4.4" height="2.2" fill="#0075ff" opacity="0.7"/>
<rect x="65.2" y="109.6" width="4.4" height="2.2" fill="#0085ff" opacity="0.7"/>
<rect x="64.1" y="44.3" width="3.3" height="2.2" fill="#0000fe" opacity="0.7"/>
<rect x="45.2" y="68.2" width="2.2" height="2.2" fill="#001eff" opacity="0.7"/>
<rect x="87.1" y="50.5" width="2.2" height="2.2" fill="#0037ff" opacity="0.7"/>
<rect x="54.0" y="44.0" width="3.3" height="2.2" fill="#0071ff" opacity="0.7"/>
<rect x="70.9" y="95.7" width="3.3" height="2.2" fill="#0059ff" opacity="0.7"/>
<rect x="90.9" y="86.1" width="3.3" height="2.2" fill="#0045ff" opacity="0.7"/>
<rect x="93.4" y="53.9" width="2.2" height="2.2" fill="#001dff" opacity="0.7"/>
<rect x="79.9" y="34.1" width="2.2" height="2.2" fill="#005aff" opacity="0.7"/>
<rect x="53.9" y="42.5" width="2.2" height="2.2" fill="#0047ff" opacity="0.7"/>
<rect x="80.0" y="35.4" width="2.2" height="2.2" fill="#0036ff" opacity="0.7"/>
<rect x="37.9" y="59.9" width="2.2" height="2.2" fill="#0037ff" opacity="0.7"/>
<rect x="46.9" y="84.5" width="2.2" height="2.2" fill="#006dff" opacity="0.7"/>
<rect x="48.5" y="56.9" width="3.3" height="2.2" fill="#0017ff" opacity="0.7"/>
<rect x="39.7" y="80.7" width="4.4" height="2.2" fill="#004aff" opacity="0.7"/>
<rect x="66.1" y="32.3" width="3.3" height="2.2" fill="#0015ff" opacity="0.7"/>
<rect x="75.0" y="107.7" width="2.2" height="2.2" fill="#004cff" opacity="0.7"/>
<rect x="75.9" y="33.2" width="2.2" height="2.2" fill="#0000ff" opacity="0.7"/>
<rect x="84.0" y="56.0" width="4.4" height="2.2" fill="#0000fc" opacity="0.7"/>
<rect x="83.7" y="95.0" width="2.2" height="2.2" fill="#0052ff" opacity="0.7"/>
<rect x="70.8" y="41.5" width="3.3" height="2.2" fill="#0088ff" opacity="0.7"/>
<rect x="74.0" y="31.0" width="2.2" height="2.2" fill="#0003ff" opacity="0.7"/>
<rect x="82.0" y="92.1" width="2.2" height="2.2" fill="#005bff" opacity="0.7"/>
<rect x="86.4" y="40.7" width="3.3" height="2.2" fill="#002eff" opacity="0.7"/>
<rect x="80.3" y="97.2" width="2.2" height="2.2" fill="#0007ff" opacity="0.7"/>
<rect x="50.3" y="97.6" width="2.2" height="2.2" fill="#005fff" opacity="0.7"/>
<rect x="83.2" y="54.9" width="2.2" height="2.2" fill="#000fff" opacity="0.7"/>
<rect x="95.9" y="72.9" width="4.4" height="2.2" fill="#0017ff" opacity="0.7"/>
<rect x="87.7" y="65.0" width="3.3" height="2.2" fill="#0031ff" opacity="0.7"/>
<rect x="42.1" y="65.1" width="2.2" height="2.2" fill="#0070ff" opacity="0.7"/>
<rect x="86.2" y="46.7" width="2.2" height="2.2" fill="#002aff" opacity="0.7"/>
<rect x="87.2" y="77.8" width="2.2" height="2.2" fill="#0023ff" opacity="0.7"/>
<rect x="49.0" y="91.5" width="2.2" height="2.2" fill="#0026ff" opacity="0.7"/>
<rect x="77.0" y="35.2" width="4.4" height="2.2" fill="#0076ff" opacity="0.7"/>
<rect x="52.3" y="88.0" width="4.4" height="2.2" fill="#0053ff" opacity="0.7"/>
<rect x="49.2" y="48.6" width="4.4" height="2.2" fill="#0021ff" opacity="0.7"/>
<rect x="69.2" y="36.8" width="3.3" height="2.2" fill="#0066ff" opacity="0.7"/>
<rect x="59.2" y="36.5" width="3.3" height="2.2" fill="#003eff" opacity="0.7"/>
<rect x="36.3" y="65.3" width="4.4" height="2.2" fill="#0035ff" opacity="0.7"/>
<rect x="61.7" y="29.6" width="4.4" height="2.2" fill="#0088ff" opacity="0.7"/>
<rect x="62.8" y="108.4" width="2.2" height="2.2" fill="#0002ff" opacity="0.7"/>
<rect x="52.2" y="38.2" width="2.2" height="2.2" fill="#0057ff" opacity="0.7"/>
<rect x="48.3" y="56.3" width="4.4" height="2.2" fill="#0026ff" opacity="0.7"/>
<rect x="42.1" y="63.3" width="2.2" height="2.2" fill="#0005ff" opacity="0.7"/>
<rect x="63.4" y="71.0" width="2.4" height="2.4" fill="#0000ff" opacity="0.6"/>
<rect x="67.9" y="69.0" width="2.4" height="2.4" fill="#004fff" opacity="0.6"/>
<rect x="75.9" y="58.9" width="2.4" height="2.4" fill="#0023ff" opacity="0.6"/>
<rect x="70.9" y="35.7" width="2.4" height="2.4" fill="#005cff" opacity="0.6"/>
<rect x="73.8" y="88.2" width="3.6" height="2.4" fill="#0060ff" opacity="0.6"/>
<rect x="79.3" y="80.8" width="2.4" height="2.4" fill="#0047ff" opacity="0.6"/>
<rect x="58.7" y="69.5" width="2.4" height="2.4" fill="#000dff" opacity="0.6"/>
<rect x="60.2" y="73.0" width="2.4" height="2.4" fill="#006cff" opacity="0.6"/>
<rect x="49.0" y="75.0" width="2.4" height="2.4" fill="#003dff" opacity="0.6"/>
<rect x="64.0" y="73.2" width="2.4" height="2.4" fill="#006aff" opacity="0.6"/>
<rect x="66.6" y="48.6" width="2.4" height="2.4" fill="#006bff" opacity="0.6"/>
<rect x="79.2" y="57.2" width="2.4" height="2.4" fill="#0000eb" opacity="0.6"/>
<rect x="72.1" y="90.7" width="4.8" height="2.4" fill="#0022ff" opacity="0.6"/>
<rect x="63.6" y="62.1" width="4.8" height="2.4" fill="#003fff" opacity="0.6"/>
<rect x="61.6" y="84.9" width="2.4" height="2.4" fill="#0003ff" opacity="0.6"/>
<rect x="61.0" y="52.6" width="2.4" height="2.4" fill="#0034ff" opacity="0.6"/>
<rect x="58.2" y="88.7" width="2.4" height="2.4" fill="#006aff" opacity="0.6"/>
<rect x="65.7" y="37.5" width="2.4" height="2.4" fill="#0056ff" opacity="0.6"/>
<rect x="60.3" y="56.0" width="2.4" height="2.4" fill="#0000f3" opacity="0.6"/>
<rect x="61.0" y="104.8" width="2.4" height="2.4" fill="#0021ff" opacity="0.6"/>
<rect x="71.4" y="57.6" width="2.4" height="2.4" fill="#002eff" opacity="0.6"/>
<rect x="68.0" y="62.5" width="2.4" height="2.4" fill="#005cff" opacity="0.6"/>
<rect x="62.3" y="48.2" width="2.4" height="2.4" fill="#0000e7" opacity="0.6"/>
<rect x="61.5" y="79.4" width="4.8" height="2.4" fill="#0017ff" opacity="0.6"/>
<rect x="54.3" y="88.0" width="2.4" height="2.4" fill="#0033ff" opacity="0.6"/>
<rect x="79.1" y="40.8" width="4.8" height="2.4" fill="#004eff" opacity="0.6"/>
<rect x="67.3" y="57.2" width="2.4" height="2.4" fill="#0060ff" opacity="0.6"/>
<rect x="62.5" y="56.1" width="3.6" height="2.4" fill="#0063ff" opacity="0.6"/>
<rect x="69.9" y="98.5" width="2.4" height="2.4" fill="#0047ff" opacity="0.6"/>
<rect x="58.9" y="78.2" width="4.8" height="2.4" fill="#006fff" opacity="0.6"/>
<rect x="50.0" y="83.8" width="3.6" height="2.4" fill="#0000ef" opacity="0.6"/>
<rect x="81.4" y="46.9" width="2.4" height="2.4" fill="#0057ff" opacity="0.6"/>
<rect x="70.2" y="62.0" width="4.8" height="2.4" fill="#0064ff" opacity="0.6"/>
<rect x="81.9" y="59.8" width="4.8" height="2.4" fill="#0000fc" opacity="0.6"/>
<rect x="60.2" y="44.4" width="4.8" height="2.4" fill="#0073ff" opacity="0.6"/>
<rect x="69.0" y="79.2" width="2.4" height="2.4" fill="#0003ff" opacity="0.6"/>
<rect x="59.7" y="42.1" width="2.4" height="2.4" fill="#0070ff" opacity="0.6"/>
<rect x="76.6" y="49.4" width="3.6" height="2.4" fill="#0057ff" opacity="0.6"/>
<rect x="58.4" y="41.3" width="2.4" height="2.4" fill="#0062ff" opacity="0.6"/>
<rect x="52.1" y="85.4" width="2.4" height="2.4" fill="#0044ff" opacity="0.6"/>
<rect x="74.3" y="80.3" width="3.6" height="2.4" fill="#0000e6" opacity="0.6"/>
<rect x="84.3" y="54.2" width="4.8" height="2.4" fill="#0074ff" opacity="0.6"/>
<rect x="70.4" y="62.0" width="4.8" height="2.4" fill="#0060ff" opacity="0.6"/>
<rect x="55.6" y="70.7" width="3.6" height="2.4" fill="#003fff" opacity="0.6"/>
<rect x="66.2" y="67.2" width="3.6" height="2.4" fill="#0000f5" opacity="0.6"/>
</g>
<ellipse cx="67.9" cy="67.6" rx="27.2" ry="50.4" fill="none" stroke="#000fff" stroke-width="3.5" opacity="0.7" filter="url(#b15)"/>
<g filter="url(#b07)"><circle cx="76.4" cy="73.4" r="5.8" fill="url(#g12)"/>
<circle cx="71.8" cy="86.0" r="5.8" fill="url(#g13)"/>
<circle cx="68.5" cy="106.4" r="5.8" fill="url(#g14)"/>
<circle cx="49.9" cy="97.6" r="5.2" fill="url(#g15)"/>
<ellipse cx="75.9" cy="38.7" rx="3.3" ry="6.0" fill="url(#g16)"/>
<circle cx="53.9" cy="43.3" r="4.0" fill="url(#g8)"/>
<circle cx="59.5" cy="58.1" r="4.3" fill="url(#g17)"/>
<circle cx="52.8" cy="82.2" r="3.6" fill="url(#g18)"/>
<circle cx="62.6" cy="84.1" r="4.2" fill="url(#g8)"/>
<circle cx="89.0" cy="58.1" r="2.8" fill="none" stroke="#009eff" stroke-width="1.4"/>
<ellipse cx="91.7" cy="24.9" rx="2.2" ry="5" fill="url(#g19)"/>
<circle cx="73.4" cy="94.9" r="3.3" fill="url(#g18)"/>
<circle cx="65.7" cy="70.3" r="3.4" fill="url(#g20)"/>
<circle cx="84.0" cy="70.0" r="3.0" fill="url(#g21)"/></g>
<circle cx="76.4" cy="73.4" r="3.5" fill="url(#g22)"/>
<circle cx="71.8" cy="86.0" r="3.5" fill="url(#g23)"/>
<circle cx="68.5" cy="106.4" r="3.5" fill="url(#g24)"/>
<g filter="url(#b05)">
<path d="M45.06 46.30 A25.2 50.4 0 0 1 90.74 46.30" fill="none" stroke="#2effd1" stroke-width="2.2"/>
<path d="M90.15 91.26 A25.2 50.4 0 0 1 45.65 91.26" fill="none" stroke="#2effd1" stroke-width="2.2"/>
<rect x="89.4" y="89.5" width="2.0" height="2.0" fill="#ffe500"/>
<rect x="88.7" y="91.8" width="2.0" height="2.0" fill="#e5ff1a"/>
<rect x="88.0" y="94.0" width="2.0" height="2.0" fill="#1affe5"/>
<rect x="87.3" y="96.2" width="2.0" height="2.0" fill="#faff05"/>
<rect x="86.5" y="98.3" width="2.0" height="2.0" fill="#1affe5"/>
<rect x="85.6" y="100.3" width="2.0" height="2.0" fill="#e5ff1a"/>
<rect x="84.7" y="102.2" width="2.0" height="2.0" fill="#80ff80"/>
<rect x="83.8" y="104.1" width="2.0" height="2.0" fill="#ffe500"/>
<rect x="82.8" y="105.8" width="2.0" height="2.0" fill="#4dffb2"/>
<rect x="81.7" y="107.4" width="2.0" height="2.0" fill="#e5ff1a"/>
<rect x="80.6" y="108.9" width="2.0" height="2.0" fill="#ffe500"/>
<rect x="79.5" y="110.2" width="2.0" height="2.0" fill="#e5ff1a"/>
<rect x="78.3" y="111.5" width="2.0" height="2.0" fill="#1affe5"/>
<rect x="77.1" y="112.6" width="2.0" height="2.0" fill="#ffb300"/>
<rect x="75.9" y="113.7" width="2.0" height="2.0" fill="#ffe500"/>
<rect x="74.7" y="114.5" width="2.0" height="2.0" fill="#1affe5"/>
<rect x="73.4" y="115.3" width="2.0" height="2.0" fill="#ffb300"/>
<rect x="72.1" y="115.9" width="2.0" height="2.0" fill="#faff05"/>
<rect x="70.8" y="116.4" width="2.0" height="2.0" fill="#80ff80"/>
<rect x="69.5" y="116.7" width="2.0" height="2.0" fill="#faff05"/>
<rect x="68.2" y="116.9" width="2.0" height="2.0" fill="#4dffb2"/>
<rect x="66.9" y="117.0" width="2.0" height="2.0" fill="#1affe5"/>
<rect x="65.6" y="116.9" width="2.0" height="2.0" fill="#faff05"/>
<rect x="64.3" y="116.7" width="2.0" height="2.0" fill="#80ff80"/>
<rect x="63.0" y="116.4" width="2.0" height="2.0" fill="#ffe500"/>
<rect x="61.7" y="115.9" width="2.0" height="2.0" fill="#e5ff1a"/>
<rect x="60.4" y="115.3" width="2.0" height="2.0" fill="#80ff80"/>
<rect x="59.1" y="114.5" width="2.0" height="2.0" fill="#e5ff1a"/>
<rect x="57.9" y="113.7" width="2.0" height="2.0" fill="#80ff80"/>
<rect x="56.7" y="112.6" width="2.0" height="2.0" fill="#4dffb2"/>
<rect x="55.5" y="111.5" width="2.0" height="2.0" fill="#faff05"/>
<rect x="54.3" y="110.2" width="2.0" height="2.0" fill="#ffb300"/>
<rect x="53.2" y="108.9" width="2.0" height="2.0" fill="#80ff80"/>
<rect x="52.1" y="107.4" width="2.0" height="2.0" fill="#4dffb2"/>
<rect x="51.0" y="105.8" width="2.0" height="2.0" fill="#faff05"/>
<rect x="50.0" y="104.1" width="2.0" height="2.0" fill="#1affe5"/>
<rect x="49.1" y="102.2" width="2.0" height="2.0" fill="#ffb300"/>
<rect x="48.2" y="100.3" width="2.0" height="2.0" fill="#e5ff1a"/>
<rect x="47.3" y="98.3" width="2.0" height="2.0" fill="#1affe5"/>
<rect x="46.5" y="96.2" width="2.0" height="2.0" fill="#ffe500"/>
<rect x="45.8" y="94.0" width="2.0" height="2.0" fill="#ffb300"/>
<rect x="45.1" y="91.8" width="2.0" height="2.0" fill="#ffb300"/>
<rect x="44.4" y="89.5" width="2.0" height="2.0" fill="#4dffb2"/>
<rect x="45.1" y="41.4" width="2.0" height="2.0" fill="#4dffb2"/>
<rect x="45.8" y="39.2" width="2.0" height="2.0" fill="#4dffb2"/>
<rect x="46.5" y="37.0" width="2.0" height="2.0" fill="#ffb300"/>
<rect x="47.3" y="34.9" width="2.0" height="2.0" fill="#1affe5"/>
<rect x="48.2" y="32.9" width="2.0" height="2.0" fill="#faff05"/>
<rect x="49.1" y="31.0" width="2.0" height="2.0" fill="#80ff80"/>
<rect x="50.0" y="29.1" width="2.0" height="2.0" fill="#4dffb2"/>
<rect x="51.0" y="27.4" width="2.0" height="2.0" fill="#ffe500"/>
<rect x="52.1" y="25.8" width="2.0" height="2.0" fill="#ffe500"/>
<rect x="53.2" y="24.3" width="2.0" height="2.0" fill="#4dffb2"/>
<rect x="54.3" y="23.0" width="2.0" height="2.0" fill="#1affe5"/>
<rect x="55.5" y="21.7" width="2.0" height="2.0" fill="#ffe500"/>
<rect x="56.7" y="20.6" width="2.0" height="2.0" fill="#80ff80"/>
<rect x="57.9" y="19.5" width="2.0" height="2.0" fill="#faff05"/>
<rect x="59.1" y="18.7" width="2.0" height="2.0" fill="#e5ff1a"/>
<rect x="60.4" y="17.9" width="2.0" height="2.0" fill="#faff05"/>
<rect x="61.7" y="17.3" width="2.0" height="2.0" fill="#faff05"/>
<rect x="63.0" y="16.8" width="2.0" height="2.0" fill="#80ff80"/>
<rect x="64.3" y="16.5" width="2.0" height="2.0" fill="#1affe5"/>
<rect x="65.6" y="16.3" width="2.0" height="2.0" fill="#4dffb2"/>
<rect x="66.9" y="16.2" width="2.0" height="2.0" fill="#faff05"/>
<rect x="68.2" y="16.3" width="2.0" height="2.0" fill="#80ff80"/>
<rect x="69.5" y="16.5" width="2.0" height="2.0" fill="#faff05"/>
<rect x="70.8" y="16.8" width="2.0" height="2.0" fill="#ffb300"/>
<rect x="72.1" y="17.3" width="2.0" height="2.0" fill="#4dffb2"/>
<rect x="73.4" y="17.9" width="2.0" height="2.0" fill="#ffe500"/>
<rect x="74.7" y="18.7" width="2.0" height="2.0" fill="#faff05"/>
<rect x="75.9" y="19.5" width="2.0" height="2.0" fill="#ffe500"/>
<rect x="77.1" y="20.6" width="2.0" height="2.0" fill="#1affe5"/>
<rect x="78.3" y="21.7" width="2.0" height="2.0" fill="#faff05"/>
<rect x="79.5" y="23.0" width="2.0" height="2.0" fill="#ffe500"/>
<rect x="80.6" y="24.3" width="2.0" height="2.0" fill="#ffe500"/>
<rect x="81.7" y="25.8" width="2.0" height="2.0" fill="#faff05"/>
<rect x="82.8" y="27.4" width="2.0" height="2.0" fill="#ffe500"/>
<rect x="83.8" y="29.1" width="2.0" height="2.0" fill="#faff05"/>
<rect x="84.7" y="31.0" width="2.0" height="2.0" fill="#4dffb2"/>
<rect x="85.6" y="32.9" width="2.0" height="2.0" fill="#1affe5"/>
<rect x="86.5" y="34.9" width="2.0" height="2.0" fill="#1affe5"/>
<rect x="87.3" y="37.0" width="2.0" height="2.0" fill="#4dffb2"/>
<rect x="88.0" y="39.2" width="2.0" height="2.0" fill="#80ff80"/>
<rect x="88.7" y="41.4" width="2.0" height="2.0" fill="#ffb300"/>
</g>
<rect x="64.4" y="16.199999999999996" width="7" height="2" fill="#ff0500" opacity="1"/>
<rect x="64.4" y="117.0" width="7" height="2" fill="#ff3800" opacity="1"/>
<circle cx="49.5" cy="97.5" r="3.8" fill="url(#g25)"/>
<text x="11.9" y="16.8" text-anchor="middle" font-family="Liberation Sans" font-size="15" fill="#fff">h</text></g>
<g transform="translate(413,152)" clip-path="url(#c13)"><rect x="0" y="0" width="134" height="133.5" fill="#00008f"/>
<rect x="0" y="0" width="135" height="133" fill="#000" filter="url(#nzK)"/>
<g filter="url(#b05)"><circle cx="76.4" cy="73.4" r="5.8" fill="url(#g12)"/>
<circle cx="71.8" cy="86.0" r="5.8" fill="url(#g13)"/>
<circle cx="68.5" cy="106.4" r="5.8" fill="url(#g14)"/>
<circle cx="49.9" cy="97.6" r="5.2" fill="url(#g15)"/>
<ellipse cx="75.9" cy="38.7" rx="3.3" ry="6.0" fill="url(#g16)"/>
<circle cx="53.9" cy="43.3" r="4.0" fill="url(#g8)"/>
<circle cx="59.5" cy="58.1" r="4.3" fill="url(#g17)"/>
<circle cx="52.8" cy="82.2" r="3.6" fill="url(#g18)"/>
<circle cx="62.6" cy="84.1" r="4.2" fill="url(#g8)"/>
<circle cx="89.0" cy="58.1" r="2.8" fill="none" stroke="#009eff" stroke-width="1.4"/>
<ellipse cx="91.7" cy="24.9" rx="2.2" ry="5" fill="url(#g19)"/>
<circle cx="73.4" cy="94.9" r="3.3" fill="url(#g18)"/>
<circle cx="65.7" cy="70.3" r="3.4" fill="url(#g20)"/>
<circle cx="84.0" cy="70.0" r="3.0" fill="url(#g21)"/></g>
<ellipse cx="67.9" cy="67.6" rx="25.2" ry="50.4" fill="none" stroke="#0061ff" stroke-width="1.4" opacity="0.6" filter="url(#b05)"/>
<rect x="91.9" y="76.6" width="1.4" height="1.4" fill="#24ffdb"/>
<rect x="91.8" y="77.8" width="1.4" height="1.4" fill="#24ffdb"/>
<rect x="91.7" y="79.0" width="1.4" height="1.4" fill="#24ffdb"/>
<rect x="91.5" y="80.1" width="1.4" height="1.4" fill="#24ffdb"/>
<rect x="91.3" y="81.3" width="1.4" height="1.4" fill="#24ffdb"/>
<rect x="91.2" y="82.5" width="1.4" height="1.4" fill="#24ffdb"/>
<rect x="91.0" y="83.6" width="1.4" height="1.4" fill="#24ffdb"/>
<rect x="90.8" y="84.8" width="1.4" height="1.4" fill="#24ffdb"/>
<rect x="90.5" y="85.9" width="1.4" height="1.4" fill="#24ffdb"/>
<rect x="90.3" y="87.0" width="1.4" height="1.4" fill="#24ffdb"/>
<rect x="90.1" y="88.1" width="1.4" height="1.4" fill="#24ffdb"/>
<rect x="89.8" y="89.2" width="1.4" height="1.4" fill="#24ffdb"/>
<rect x="89.5" y="90.3" width="1.4" height="1.4" fill="#24ffdb"/>
<rect x="89.2" y="91.4" width="1.4" height="1.4" fill="#24ffdb"/>
<rect x="88.9" y="92.5" width="1.4" height="1.4" fill="#24ffdb"/>
<rect x="88.6" y="93.5" width="1.4" height="1.4" fill="#24ffdb"/>
<rect x="88.3" y="94.5" width="1.4" height="1.4" fill="#24ffdb"/>
<rect x="87.9" y="95.5" width="1.4" height="1.4" fill="#24ffdb"/>
<rect x="87.6" y="96.5" width="1.4" height="1.4" fill="#24ffdb"/>
<rect x="87.2" y="97.5" width="1.4" height="1.4" fill="#24ffdb"/>
<rect x="86.8" y="98.5" width="1.4" height="1.4" fill="#24ffdb"/>
<rect x="86.5" y="99.4" width="1.4" height="1.4" fill="#24ffdb"/>
<rect x="86.1" y="100.3" width="1.4" height="1.4" fill="#24ffdb"/>
<rect x="85.7" y="101.2" width="1.4" height="1.4" fill="#24ffdb"/>
<rect x="85.2" y="102.1" width="1.4" height="1.4" fill="#24ffdb"/>
<rect x="84.8" y="103.0" width="1.4" height="1.4" fill="#24ffdb"/>
<rect x="84.4" y="103.8" width="1.4" height="1.4" fill="#24ffdb"/>
<rect x="83.9" y="104.6" width="1.4" height="1.4" fill="#24ffdb"/>
<rect x="83.5" y="105.4" width="1.4" height="1.4" fill="#24ffdb"/>
<rect x="83.0" y="106.2" width="1.4" height="1.4" fill="#24ffdb"/>
<rect x="82.5" y="106.9" width="1.4" height="1.4" fill="#24ffdb"/>
<rect x="82.0" y="107.7" width="1.4" height="1.4" fill="#24ffdb"/>
<rect x="81.5" y="108.4" width="1.4" height="1.4" fill="#24ffdb"/>
<rect x="81.0" y="109.1" width="1.4" height="1.4" fill="#24ffdb"/>
<rect x="80.5" y="109.7" width="1.4" height="1.4" fill="#24ffdb"/>
<rect x="80.0" y="110.3" width="1.4" height="1.4" fill="#24ffdb"/>
<rect x="79.4" y="110.9" width="1.4" height="1.4" fill="#24ffdb"/>
<rect x="78.9" y="111.5" width="1.4" height="1.4" fill="#24ffdb"/>
<rect x="78.4" y="112.1" width="1.4" height="1.4" fill="#24ffdb"/>
<rect x="77.8" y="112.6" width="1.4" height="1.4" fill="#24ffdb"/>
<rect x="77.3" y="113.1" width="1.4" height="1.4" fill="#24ffdb"/>
<rect x="76.7" y="113.6" width="1.4" height="1.4" fill="#24ffdb"/>
<rect x="76.1" y="114.0" width="1.4" height="1.4" fill="#24ffdb"/>
<rect x="75.6" y="114.4" width="1.4" height="1.4" fill="#24ffdb"/>
<rect x="75.0" y="114.8" width="1.4" height="1.4" fill="#24ffdb"/>
<rect x="74.4" y="115.2" width="1.4" height="1.4" fill="#24ffdb"/>
<rect x="73.8" y="115.5" width="1.4" height="1.4" fill="#24ffdb"/>
<rect x="73.2" y="115.8" width="1.4" height="1.4" fill="#24ffdb"/>
<rect x="72.6" y="116.1" width="1.4" height="1.4" fill="#24ffdb"/>
<rect x="72.0" y="116.4" width="1.4" height="1.4" fill="#24ffdb"/>
<rect x="71.4" y="116.6" width="1.4" height="1.4" fill="#24ffdb"/>
<rect x="70.8" y="116.8" width="1.4" height="1.4" fill="#24ffdb"/>
<rect x="70.2" y="116.9" width="1.4" height="1.4" fill="#24ffdb"/>
<rect x="69.6" y="117.1" width="1.4" height="1.4" fill="#24ffdb"/>
<rect x="69.0" y="117.2" width="1.4" height="1.4" fill="#24ffdb"/>
<rect x="68.4" y="117.2" width="1.4" height="1.4" fill="#24ffdb"/>
<rect x="67.8" y="117.3" width="1.4" height="1.4" fill="#24ffdb"/>
<rect x="67.2" y="117.3" width="1.4" height="1.4" fill="#24ffdb"/>
<rect x="66.6" y="117.3" width="1.4" height="1.4" fill="#24ffdb"/>
<rect x="66.0" y="117.2" width="1.4" height="1.4" fill="#24ffdb"/>
<rect x="65.4" y="117.2" width="1.4" height="1.4" fill="#24ffdb"/>
<rect x="64.8" y="117.1" width="1.4" height="1.4" fill="#24ffdb"/>
<rect x="64.2" y="116.9" width="1.4" height="1.4" fill="#24ffdb"/>
<rect x="63.6" y="116.8" width="1.4" height="1.4" fill="#24ffdb"/>
<rect x="63.0" y="116.6" width="1.4" height="1.4" fill="#24ffdb"/>
<rect x="62.4" y="116.4" width="1.4" height="1.4" fill="#24ffdb"/>
<rect x="61.8" y="116.1" width="1.4" height="1.4" fill="#24ffdb"/>
<rect x="61.2" y="115.8" width="1.4" height="1.4" fill="#24ffdb"/>
<rect x="60.6" y="115.5" width="1.4" height="1.4" fill="#24ffdb"/>
<rect x="60.0" y="115.2" width="1.4" height="1.4" fill="#24ffdb"/>
<rect x="59.4" y="114.8" width="1.4" height="1.4" fill="#24ffdb"/>
<rect x="58.8" y="114.4" width="1.4" height="1.4" fill="#24ffdb"/>
<rect x="58.3" y="114.0" width="1.4" height="1.4" fill="#24ffdb"/>
<rect x="57.7" y="113.6" width="1.4" height="1.4" fill="#24ffdb"/>
<rect x="57.1" y="113.1" width="1.4" height="1.4" fill="#24ffdb"/>
<rect x="56.6" y="112.6" width="1.4" height="1.4" fill="#24ffdb"/>
<rect x="56.0" y="112.1" width="1.4" height="1.4" fill="#24ffdb"/>
<rect x="55.5" y="111.5" width="1.4" height="1.4" fill="#24ffdb"/>
<rect x="55.0" y="110.9" width="1.4" height="1.4" fill="#24ffdb"/>
<rect x="54.4" y="110.3" width="1.4" height="1.4" fill="#24ffdb"/>
<rect x="53.9" y="109.7" width="1.4" height="1.4" fill="#24ffdb"/>
<rect x="53.4" y="109.1" width="1.4" height="1.4" fill="#24ffdb"/>
<rect x="52.9" y="108.4" width="1.4" height="1.4" fill="#24ffdb"/>
<rect x="52.4" y="107.7" width="1.4" height="1.4" fill="#24ffdb"/>
<rect x="51.9" y="106.9" width="1.4" height="1.4" fill="#24ffdb"/>
<rect x="51.4" y="106.2" width="1.4" height="1.4" fill="#24ffdb"/>
<rect x="50.9" y="105.4" width="1.4" height="1.4" fill="#24ffdb"/>
<rect x="50.5" y="104.6" width="1.4" height="1.4" fill="#24ffdb"/>
<rect x="50.0" y="103.8" width="1.4" height="1.4" fill="#24ffdb"/>
<rect x="49.6" y="103.0" width="1.4" height="1.4" fill="#24ffdb"/>
<rect x="49.2" y="102.1" width="1.4" height="1.4" fill="#24ffdb"/>
<rect x="48.7" y="101.2" width="1.4" height="1.4" fill="#24ffdb"/>
<rect x="48.3" y="100.3" width="1.4" height="1.4" fill="#24ffdb"/>
<rect x="47.9" y="99.4" width="1.4" height="1.4" fill="#24ffdb"/>
<rect x="47.6" y="98.5" width="1.4" height="1.4" fill="#24ffdb"/>
<rect x="47.2" y="97.5" width="1.4" height="1.4" fill="#24ffdb"/>
<rect x="46.8" y="96.5" width="1.4" height="1.4" fill="#24ffdb"/>
<rect x="46.5" y="95.5" width="1.4" height="1.4" fill="#24ffdb"/>
<rect x="46.1" y="94.5" width="1.4" height="1.4" fill="#24ffdb"/>
<rect x="45.8" y="93.5" width="1.4" height="1.4" fill="#24ffdb"/>
<rect x="45.5" y="92.5" width="1.4" height="1.4" fill="#24ffdb"/>
<rect x="43.6" y="84.8" width="1.4" height="1.4" fill="#24ffdb"/>
<rect x="43.4" y="83.6" width="1.4" height="1.4" fill="#24ffdb"/>
<rect x="43.2" y="82.5" width="1.4" height="1.4" fill="#24ffdb"/>
<rect x="43.1" y="81.3" width="1.4" height="1.4" fill="#24ffdb"/>
<rect x="42.9" y="80.1" width="1.4" height="1.4" fill="#24ffdb"/>
<rect x="42.7" y="79.0" width="1.4" height="1.4" fill="#24ffdb"/>
<rect x="42.6" y="56.0" width="1.4" height="1.4" fill="#24ffdb"/>
<rect x="42.7" y="54.8" width="1.4" height="1.4" fill="#24ffdb"/>
<rect x="42.9" y="53.7" width="1.4" height="1.4" fill="#24ffdb"/>
<rect x="43.1" y="52.5" width="1.4" height="1.4" fill="#24ffdb"/>
<rect x="43.2" y="51.3" width="1.4" height="1.4" fill="#24ffdb"/>
<rect x="45.5" y="41.3" width="1.4" height="1.4" fill="#24ffdb"/>
<rect x="45.8" y="40.3" width="1.4" height="1.4" fill="#24ffdb"/>
<rect x="46.1" y="39.3" width="1.4" height="1.4" fill="#24ffdb"/>
<rect x="46.5" y="38.3" width="1.4" height="1.4" fill="#24ffdb"/>
<rect x="46.8" y="37.3" width="1.4" height="1.4" fill="#24ffdb"/>
<rect x="47.2" y="36.3" width="1.4" height="1.4" fill="#24ffdb"/>
<rect x="47.6" y="35.3" width="1.4" height="1.4" fill="#24ffdb"/>
<rect x="47.9" y="34.4" width="1.4" height="1.4" fill="#24ffdb"/>
<rect x="48.3" y="33.5" width="1.4" height="1.4" fill="#24ffdb"/>
<rect x="48.7" y="32.6" width="1.4" height="1.4" fill="#24ffdb"/>
<rect x="49.2" y="31.7" width="1.4" height="1.4" fill="#24ffdb"/>
<rect x="49.6" y="30.8" width="1.4" height="1.4" fill="#24ffdb"/>
<rect x="50.0" y="30.0" width="1.4" height="1.4" fill="#24ffdb"/>
<rect x="50.5" y="29.2" width="1.4" height="1.4" fill="#24ffdb"/>
<rect x="50.9" y="28.4" width="1.4" height="1.4" fill="#24ffdb"/>
<rect x="51.4" y="27.6" width="1.4" height="1.4" fill="#24ffdb"/>
<rect x="51.9" y="26.9" width="1.4" height="1.4" fill="#24ffdb"/>
<rect x="52.4" y="26.1" width="1.4" height="1.4" fill="#24ffdb"/>
<rect x="52.9" y="25.4" width="1.4" height="1.4" fill="#24ffdb"/>
<rect x="53.4" y="24.7" width="1.4" height="1.4" fill="#24ffdb"/>
<rect x="53.9" y="24.1" width="1.4" height="1.4" fill="#24ffdb"/>
<rect x="54.4" y="23.5" width="1.4" height="1.4" fill="#24ffdb"/>
<rect x="55.0" y="22.9" width="1.4" height="1.4" fill="#24ffdb"/>
<rect x="55.5" y="22.3" width="1.4" height="1.4" fill="#24ffdb"/>
<rect x="56.0" y="21.7" width="1.4" height="1.4" fill="#24ffdb"/>
<rect x="56.6" y="21.2" width="1.4" height="1.4" fill="#24ffdb"/>
<rect x="57.1" y="20.7" width="1.4" height="1.4" fill="#24ffdb"/>
<rect x="57.7" y="20.2" width="1.4" height="1.4" fill="#24ffdb"/>
<rect x="58.3" y="19.8" width="1.4" height="1.4" fill="#24ffdb"/>
<rect x="58.8" y="19.4" width="1.4" height="1.4" fill="#24ffdb"/>
<rect x="59.4" y="19.0" width="1.4" height="1.4" fill="#24ffdb"/>
<rect x="60.0" y="18.6" width="1.4" height="1.4" fill="#24ffdb"/>
<rect x="60.6" y="18.3" width="1.4" height="1.4" fill="#24ffdb"/>
<rect x="61.2" y="18.0" width="1.4" height="1.4" fill="#24ffdb"/>
<rect x="61.8" y="17.7" width="1.4" height="1.4" fill="#24ffdb"/>
<rect x="62.4" y="17.4" width="1.4" height="1.4" fill="#24ffdb"/>
<rect x="63.0" y="17.2" width="1.4" height="1.4" fill="#24ffdb"/>
<rect x="63.6" y="17.0" width="1.4" height="1.4" fill="#24ffdb"/>
<rect x="64.2" y="16.9" width="1.4" height="1.4" fill="#24ffdb"/>
<rect x="64.8" y="16.7" width="1.4" height="1.4" fill="#24ffdb"/>
<rect x="65.4" y="16.6" width="1.4" height="1.4" fill="#24ffdb"/>
<rect x="66.0" y="16.6" width="1.4" height="1.4" fill="#24ffdb"/>
<rect x="66.6" y="16.5" width="1.4" height="1.4" fill="#24ffdb"/>
<rect x="67.2" y="16.5" width="1.4" height="1.4" fill="#24ffdb"/>
<rect x="67.8" y="16.5" width="1.4" height="1.4" fill="#24ffdb"/>
<rect x="68.4" y="16.6" width="1.4" height="1.4" fill="#24ffdb"/>
<rect x="69.0" y="16.6" width="1.4" height="1.4" fill="#24ffdb"/>
<rect x="69.6" y="16.7" width="1.4" height="1.4" fill="#24ffdb"/>
<rect x="70.2" y="16.9" width="1.4" height="1.4" fill="#24ffdb"/>
<rect x="70.8" y="17.0" width="1.4" height="1.4" fill="#24ffdb"/>
<rect x="71.4" y="17.2" width="1.4" height="1.4" fill="#24ffdb"/>
<rect x="72.0" y="17.4" width="1.4" height="1.4" fill="#24ffdb"/>
<rect x="72.6" y="17.7" width="1.4" height="1.4" fill="#24ffdb"/>
<rect x="73.2" y="18.0" width="1.4" height="1.4" fill="#24ffdb"/>
<rect x="73.8" y="18.3" width="1.4" height="1.4" fill="#24ffdb"/>
<rect x="74.4" y="18.6" width="1.4" height="1.4" fill="#24ffdb"/>
<rect x="75.0" y="19.0" width="1.4" height="1.4" fill="#24ffdb"/>
<rect x="75.6" y="19.4" width="1.4" height="1.4" fill="#24ffdb"/>
<rect x="76.1" y="19.8" width="1.4" height="1.4" fill="#24ffdb"/>
<rect x="76.7" y="20.2" width="1.4" height="1.4" fill="#24ffdb"/>
<rect x="77.3" y="20.7" width="1.4" height="1.4" fill="#24ffdb"/>
<rect x="77.8" y="21.2" width="1.4" height="1.4" fill="#24ffdb"/>
<rect x="78.4" y="21.7" width="1.4" height="1.4" fill="#24ffdb"/>
<rect x="78.9" y="22.3" width="1.4" height="1.4" fill="#24ffdb"/>
<rect x="79.4" y="22.9" width="1.4" height="1.4" fill="#24ffdb"/>
<rect x="80.0" y="23.5" width="1.4" height="1.4" fill="#24ffdb"/>
<rect x="80.5" y="24.1" width="1.4" height="1.4" fill="#24ffdb"/>
<rect x="81.0" y="24.7" width="1.4" height="1.4" fill="#24ffdb"/>
<rect x="81.5" y="25.4" width="1.4" height="1.4" fill="#24ffdb"/>
<rect x="82.0" y="26.1" width="1.4" height="1.4" fill="#24ffdb"/>
<rect x="82.5" y="26.9" width="1.4" height="1.4" fill="#24ffdb"/>
<rect x="83.0" y="27.6" width="1.4" height="1.4" fill="#24ffdb"/>
<rect x="83.5" y="28.4" width="1.4" height="1.4" fill="#24ffdb"/>
<rect x="83.9" y="29.2" width="1.4" height="1.4" fill="#24ffdb"/>
<rect x="84.4" y="30.0" width="1.4" height="1.4" fill="#24ffdb"/>
<rect x="84.8" y="30.8" width="1.4" height="1.4" fill="#24ffdb"/>
<rect x="85.2" y="31.7" width="1.4" height="1.4" fill="#24ffdb"/>
<rect x="85.7" y="32.6" width="1.4" height="1.4" fill="#24ffdb"/>
<rect x="86.1" y="33.5" width="1.4" height="1.4" fill="#24ffdb"/>
<rect x="86.5" y="34.4" width="1.4" height="1.4" fill="#24ffdb"/>
<rect x="86.8" y="35.3" width="1.4" height="1.4" fill="#24ffdb"/>
<rect x="87.2" y="36.3" width="1.4" height="1.4" fill="#24ffdb"/>
<rect x="87.6" y="37.3" width="1.4" height="1.4" fill="#24ffdb"/>
<rect x="87.9" y="38.3" width="1.4" height="1.4" fill="#24ffdb"/>
<rect x="88.3" y="39.3" width="1.4" height="1.4" fill="#24ffdb"/>
<rect x="88.6" y="40.3" width="1.4" height="1.4" fill="#24ffdb"/>
<rect x="88.9" y="41.3" width="1.4" height="1.4" fill="#24ffdb"/>
<rect x="91.7" y="76.1" width="1.9" height="1.9" fill="#e5ff1a"/>
<rect x="91.4" y="79.2" width="1.9" height="1.9" fill="#80ff80"/>
<rect x="90.9" y="82.2" width="1.9" height="1.9" fill="#e5ff1a"/>
<rect x="90.4" y="85.2" width="1.9" height="1.9" fill="#2effd1"/>
<rect x="89.8" y="88.1" width="1.9" height="1.9" fill="#2effd1"/>
<rect x="89.0" y="90.9" width="1.9" height="1.9" fill="#ff0500"/>
<rect x="88.2" y="93.7" width="1.9" height="1.9" fill="#faff05"/>
<rect x="87.3" y="96.3" width="1.9" height="1.9" fill="#2effd1"/>
<rect x="86.4" y="98.8" width="1.9" height="1.9" fill="#ff6100"/>
<rect x="85.3" y="101.2" width="1.9" height="1.9" fill="#b3ff4c"/>
<rect x="84.2" y="103.4" width="1.9" height="1.9" fill="#1affe5"/>
<rect x="83.0" y="105.5" width="1.9" height="1.9" fill="#ffc700"/>
<rect x="81.8" y="107.4" width="1.9" height="1.9" fill="#4dffb2"/>
<rect x="80.5" y="109.2" width="1.9" height="1.9" fill="#ff0500"/>
<rect x="79.1" y="110.8" width="1.9" height="1.9" fill="#faff05"/>
<rect x="77.7" y="112.3" width="1.9" height="1.9" fill="#ffc700"/>
<rect x="76.2" y="113.5" width="1.9" height="1.9" fill="#ff6100"/>
<rect x="74.7" y="114.6" width="1.9" height="1.9" fill="#b3ff4c"/>
<rect x="73.2" y="115.5" width="1.9" height="1.9" fill="#1affe5"/>
<rect x="71.7" y="116.2" width="1.9" height="1.9" fill="#ff6100"/>
<rect x="70.1" y="116.7" width="1.9" height="1.9" fill="#1affe5"/>
<rect x="68.5" y="117.0" width="1.9" height="1.9" fill="#ff0500"/>
<rect x="67.0" y="117.0" width="1.9" height="1.9" fill="#faff05"/>
<rect x="65.4" y="117.0" width="1.9" height="1.9" fill="#1affe5"/>
<rect x="63.8" y="116.7" width="1.9" height="1.9" fill="#ff6100"/>
<rect x="62.2" y="116.2" width="1.9" height="1.9" fill="#b3ff4c"/>
<rect x="60.7" y="115.5" width="1.9" height="1.9" fill="#1affe5"/>
<rect x="59.2" y="114.6" width="1.9" height="1.9" fill="#ffc700"/>
<rect x="57.7" y="113.5" width="1.9" height="1.9" fill="#4dffb2"/>
<rect x="56.2" y="112.3" width="1.9" height="1.9" fill="#ff0500"/>
<rect x="54.8" y="110.8" width="1.9" height="1.9" fill="#4dffb2"/>
<rect x="53.4" y="109.2" width="1.9" height="1.9" fill="#2effd1"/>
<rect x="52.1" y="107.4" width="1.9" height="1.9" fill="#ff6100"/>
<rect x="50.9" y="105.5" width="1.9" height="1.9" fill="#1affe5"/>
<rect x="49.7" y="103.4" width="1.9" height="1.9" fill="#1affe5"/>
<rect x="48.6" y="101.2" width="1.9" height="1.9" fill="#ffc700"/>
<rect x="47.5" y="98.8" width="1.9" height="1.9" fill="#4dffb2"/>
<rect x="46.6" y="96.3" width="1.9" height="1.9" fill="#ff0500"/>
<rect x="45.7" y="93.7" width="1.9" height="1.9" fill="#faff05"/>
<rect x="43.0" y="82.2" width="1.9" height="1.9" fill="#b3ff4c"/>
<rect x="42.5" y="79.2" width="1.9" height="1.9" fill="#80ff80"/>
<rect x="42.5" y="54.1" width="1.9" height="1.9" fill="#b3ff4c"/>
<rect x="43.0" y="51.1" width="1.9" height="1.9" fill="#80ff80"/>
<rect x="45.7" y="39.6" width="1.9" height="1.9" fill="#1affe5"/>
<rect x="46.6" y="37.0" width="1.9" height="1.9" fill="#ff6100"/>
<rect x="47.5" y="34.5" width="1.9" height="1.9" fill="#b3ff4c"/>
<rect x="48.6" y="32.1" width="1.9" height="1.9" fill="#4dffb2"/>
<rect x="49.7" y="29.9" width="1.9" height="1.9" fill="#ffc700"/>
<rect x="50.9" y="27.8" width="1.9" height="1.9" fill="#4dffb2"/>
<rect x="52.1" y="25.9" width="1.9" height="1.9" fill="#ff0500"/>
<rect x="53.4" y="24.1" width="1.9" height="1.9" fill="#4dffb2"/>
<rect x="54.8" y="22.5" width="1.9" height="1.9" fill="#2effd1"/>
<rect x="56.2" y="21.0" width="1.9" height="1.9" fill="#ff6100"/>
<rect x="57.7" y="19.8" width="1.9" height="1.9" fill="#faff05"/>
<rect x="59.2" y="18.7" width="1.9" height="1.9" fill="#2effd1"/>
<rect x="60.7" y="17.8" width="1.9" height="1.9" fill="#ffc700"/>
<rect x="62.2" y="17.1" width="1.9" height="1.9" fill="#4dffb2"/>
<rect x="63.8" y="16.6" width="1.9" height="1.9" fill="#ff0500"/>
<rect x="65.4" y="16.3" width="1.9" height="1.9" fill="#faff05"/>
<rect x="67.0" y="16.2" width="1.9" height="1.9" fill="#2effd1"/>
<rect x="68.5" y="16.3" width="1.9" height="1.9" fill="#ff6100"/>
<rect x="70.1" y="16.6" width="1.9" height="1.9" fill="#b3ff4c"/>
<rect x="71.7" y="17.1" width="1.9" height="1.9" fill="#1affe5"/>
<rect x="73.2" y="17.8" width="1.9" height="1.9" fill="#ff0500"/>
<rect x="74.7" y="18.7" width="1.9" height="1.9" fill="#4dffb2"/>
<rect x="76.2" y="19.8" width="1.9" height="1.9" fill="#faff05"/>
<rect x="77.7" y="21.0" width="1.9" height="1.9" fill="#faff05"/>
<rect x="79.1" y="22.5" width="1.9" height="1.9" fill="#ffc700"/>
<rect x="80.5" y="24.1" width="1.9" height="1.9" fill="#ff6100"/>
<rect x="81.8" y="25.9" width="1.9" height="1.9" fill="#b3ff4c"/>
<rect x="83.0" y="27.8" width="1.9" height="1.9" fill="#1affe5"/>
<rect x="84.2" y="29.9" width="1.9" height="1.9" fill="#ffc700"/>
<rect x="85.3" y="32.1" width="1.9" height="1.9" fill="#4dffb2"/>
<rect x="86.4" y="34.5" width="1.9" height="1.9" fill="#ff6100"/>
<rect x="87.3" y="37.0" width="1.9" height="1.9" fill="#faff05"/>
<rect x="88.2" y="39.6" width="1.9" height="1.9" fill="#2effd1"/>
<rect x="63.900000000000006" y="16.399999999999995" width="8" height="1.6" fill="#ff0500" opacity="1"/>
<rect x="63.900000000000006" y="117.2" width="8" height="1.6" fill="#ff4c00" opacity="1"/>
<text x="11.9" y="16.8" text-anchor="middle" font-family="Liberation Sans" font-size="15" fill="#fff">k</text></g>
<g transform="translate(551,152)" clip-path="url(#c14)"><rect x="0" y="0" width="134" height="133.5" fill="#00008f"/>
<rect x="0" y="0" width="135" height="133" fill="#000" filter="url(#nzN)"/>
<g filter="url(#b05)"><circle cx="76.4" cy="73.4" r="5.8" fill="url(#g12)"/>
<circle cx="71.8" cy="86.0" r="5.8" fill="url(#g13)"/>
<circle cx="68.5" cy="106.4" r="5.8" fill="url(#g14)"/>
<circle cx="49.9" cy="97.6" r="5.2" fill="url(#g15)"/>
<ellipse cx="75.9" cy="38.7" rx="3.3" ry="6.0" fill="url(#g16)"/>
<circle cx="53.9" cy="43.3" r="4.0" fill="url(#g8)"/>
<circle cx="59.5" cy="58.1" r="4.3" fill="url(#g17)"/>
<circle cx="52.8" cy="82.2" r="3.6" fill="url(#g18)"/>
<circle cx="62.6" cy="84.1" r="4.2" fill="url(#g8)"/>
<circle cx="89.0" cy="58.1" r="2.8" fill="none" stroke="#009eff" stroke-width="1.4"/>
<ellipse cx="91.7" cy="24.9" rx="2.2" ry="5" fill="url(#g19)"/>
<circle cx="73.4" cy="94.9" r="3.3" fill="url(#g18)"/>
<circle cx="65.7" cy="70.3" r="3.4" fill="url(#g20)"/>
<circle cx="84.0" cy="70.0" r="3.0" fill="url(#g21)"/></g>
<ellipse cx="67.9" cy="67.6" rx="25.2" ry="50.4" fill="none" stroke="#0061ff" stroke-width="1.4" opacity="0.6" filter="url(#b05)"/>
<rect x="91.9" y="76.6" width="1.4" height="1.4" fill="#24ffdb"/>
<rect x="91.8" y="77.8" width="1.4" height="1.4" fill="#24ffdb"/>
<rect x="91.7" y="79.0" width="1.4" height="1.4" fill="#24ffdb"/>
<rect x="91.5" y="80.1" width="1.4" height="1.4" fill="#24ffdb"/>
<rect x="91.3" y="81.3" width="1.4" height="1.4" fill="#24ffdb"/>
<rect x="91.2" y="82.5" width="1.4" height="1.4" fill="#24ffdb"/>
<rect x="91.0" y="83.6" width="1.4" height="1.4" fill="#24ffdb"/>
<rect x="90.8" y="84.8" width="1.4" height="1.4" fill="#24ffdb"/>
<rect x="90.5" y="85.9" width="1.4" height="1.4" fill="#24ffdb"/>
<rect x="90.3" y="87.0" width="1.4" height="1.4" fill="#24ffdb"/>
<rect x="90.1" y="88.1" width="1.4" height="1.4" fill="#24ffdb"/>
<rect x="89.8" y="89.2" width="1.4" height="1.4" fill="#24ffdb"/>
<rect x="89.5" y="90.3" width="1.4" height="1.4" fill="#24ffdb"/>
<rect x="89.2" y="91.4" width="1.4" height="1.4" fill="#24ffdb"/>
<rect x="88.9" y="92.5" width="1.4" height="1.4" fill="#24ffdb"/>
<rect x="88.6" y="93.5" width="1.4" height="1.4" fill="#24ffdb"/>
<rect x="88.3" y="94.5" width="1.4" height="1.4" fill="#24ffdb"/>
<rect x="87.9" y="95.5" width="1.4" height="1.4" fill="#24ffdb"/>
<rect x="87.6" y="96.5" width="1.4" height="1.4" fill="#24ffdb"/>
<rect x="87.2" y="97.5" width="1.4" height="1.4" fill="#24ffdb"/>
<rect x="86.8" y="98.5" width="1.4" height="1.4" fill="#24ffdb"/>
<rect x="86.5" y="99.4" width="1.4" height="1.4" fill="#24ffdb"/>
<rect x="86.1" y="100.3" width="1.4" height="1.4" fill="#24ffdb"/>
<rect x="85.7" y="101.2" width="1.4" height="1.4" fill="#24ffdb"/>
<rect x="85.2" y="102.1" width="1.4" height="1.4" fill="#24ffdb"/>
<rect x="84.8" y="103.0" width="1.4" height="1.4" fill="#24ffdb"/>
<rect x="84.4" y="103.8" width="1.4" height="1.4" fill="#24ffdb"/>
<rect x="83.9" y="104.6" width="1.4" height="1.4" fill="#24ffdb"/>
<rect x="83.5" y="105.4" width="1.4" height="1.4" fill="#24ffdb"/>
<rect x="83.0" y="106.2" width="1.4" height="1.4" fill="#24ffdb"/>
<rect x="82.5" y="106.9" width="1.4" height="1.4" fill="#24ffdb"/>
<rect x="82.0" y="107.7" width="1.4" height="1.4" fill="#24ffdb"/>
<rect x="81.5" y="108.4" width="1.4" height="1.4" fill="#24ffdb"/>
<rect x="81.0" y="109.1" width="1.4" height="1.4" fill="#24ffdb"/>
<rect x="80.5" y="109.7" width="1.4" height="1.4" fill="#24ffdb"/>
<rect x="80.0" y="110.3" width="1.4" height="1.4" fill="#24ffdb"/>
<rect x="79.4" y="110.9" width="1.4" height="1.4" fill="#24ffdb"/>
<rect x="78.9" y="111.5" width="1.4" height="1.4" fill="#24ffdb"/>
<rect x="78.4" y="112.1" width="1.4" height="1.4" fill="#24ffdb"/>
<rect x="77.8" y="112.6" width="1.4" height="1.4" fill="#24ffdb"/>
<rect x="77.3" y="113.1" width="1.4" height="1.4" fill="#24ffdb"/>
<rect x="76.7" y="113.6" width="1.4" height="1.4" fill="#24ffdb"/>
<rect x="76.1" y="114.0" width="1.4" height="1.4" fill="#24ffdb"/>
<rect x="75.6" y="114.4" width="1.4" height="1.4" fill="#24ffdb"/>
<rect x="75.0" y="114.8" width="1.4" height="1.4" fill="#24ffdb"/>
<rect x="74.4" y="115.2" width="1.4" height="1.4" fill="#24ffdb"/>
<rect x="73.8" y="115.5" width="1.4" height="1.4" fill="#24ffdb"/>
<rect x="73.2" y="115.8" width="1.4" height="1.4" fill="#24ffdb"/>
<rect x="72.6" y="116.1" width="1.4" height="1.4" fill="#24ffdb"/>
<rect x="72.0" y="116.4" width="1.4" height="1.4" fill="#24ffdb"/>
<rect x="71.4" y="116.6" width="1.4" height="1.4" fill="#24ffdb"/>
<rect x="70.8" y="116.8" width="1.4" height="1.4" fill="#24ffdb"/>
<rect x="70.2" y="116.9" width="1.4" height="1.4" fill="#24ffdb"/>
<rect x="69.6" y="117.1" width="1.4" height="1.4" fill="#24ffdb"/>
<rect x="69.0" y="117.2" width="1.4" height="1.4" fill="#24ffdb"/>
<rect x="68.4" y="117.2" width="1.4" height="1.4" fill="#24ffdb"/>
<rect x="67.8" y="117.3" width="1.4" height="1.4" fill="#24ffdb"/>
<rect x="67.2" y="117.3" width="1.4" height="1.4" fill="#24ffdb"/>
<rect x="66.6" y="117.3" width="1.4" height="1.4" fill="#24ffdb"/>
<rect x="66.0" y="117.2" width="1.4" height="1.4" fill="#24ffdb"/>
<rect x="65.4" y="117.2" width="1.4" height="1.4" fill="#24ffdb"/>
<rect x="64.8" y="117.1" width="1.4" height="1.4" fill="#24ffdb"/>
<rect x="64.2" y="116.9" width="1.4" height="1.4" fill="#24ffdb"/>
<rect x="63.6" y="116.8" width="1.4" height="1.4" fill="#24ffdb"/>
<rect x="63.0" y="116.6" width="1.4" height="1.4" fill="#24ffdb"/>
<rect x="62.4" y="116.4" width="1.4" height="1.4" fill="#24ffdb"/>
<rect x="61.8" y="116.1" width="1.4" height="1.4" fill="#24ffdb"/>
<rect x="61.2" y="115.8" width="1.4" height="1.4" fill="#24ffdb"/>
<rect x="60.6" y="115.5" width="1.4" height="1.4" fill="#24ffdb"/>
<rect x="60.0" y="115.2" width="1.4" height="1.4" fill="#24ffdb"/>
<rect x="59.4" y="114.8" width="1.4" height="1.4" fill="#24ffdb"/>
<rect x="58.8" y="114.4" width="1.4" height="1.4" fill="#24ffdb"/>
<rect x="58.3" y="114.0" width="1.4" height="1.4" fill="#24ffdb"/>
<rect x="57.7" y="113.6" width="1.4" height="1.4" fill="#24ffdb"/>
<rect x="57.1" y="113.1" width="1.4" height="1.4" fill="#24ffdb"/>
<rect x="56.6" y="112.6" width="1.4" height="1.4" fill="#24ffdb"/>
<rect x="56.0" y="112.1" width="1.4" height="1.4" fill="#24ffdb"/>
<rect x="55.5" y="111.5" width="1.4" height="1.4" fill="#24ffdb"/>
<rect x="55.0" y="110.9" width="1.4" height="1.4" fill="#24ffdb"/>
<rect x="54.4" y="110.3" width="1.4" height="1.4" fill="#24ffdb"/>
<rect x="53.9" y="109.7" width="1.4" height="1.4" fill="#24ffdb"/>
<rect x="53.4" y="109.1" width="1.4" height="1.4" fill="#24ffdb"/>
<rect x="52.9" y="108.4" width="1.4" height="1.4" fill="#24ffdb"/>
<rect x="52.4" y="107.7" width="1.4" height="1.4" fill="#24ffdb"/>
<rect x="51.9" y="106.9" width="1.4" height="1.4" fill="#24ffdb"/>
<rect x="51.4" y="106.2" width="1.4" height="1.4" fill="#24ffdb"/>
<rect x="50.9" y="105.4" width="1.4" height="1.4" fill="#24ffdb"/>
<rect x="50.5" y="104.6" width="1.4" height="1.4" fill="#24ffdb"/>
<rect x="50.0" y="103.8" width="1.4" height="1.4" fill="#24ffdb"/>
<rect x="49.6" y="103.0" width="1.4" height="1.4" fill="#24ffdb"/>
<rect x="49.2" y="102.1" width="1.4" height="1.4" fill="#24ffdb"/>
<rect x="48.7" y="101.2" width="1.4" height="1.4" fill="#24ffdb"/>
<rect x="48.3" y="100.3" width="1.4" height="1.4" fill="#24ffdb"/>
<rect x="47.9" y="99.4" width="1.4" height="1.4" fill="#24ffdb"/>
<rect x="47.6" y="98.5" width="1.4" height="1.4" fill="#24ffdb"/>
<rect x="47.2" y="97.5" width="1.4" height="1.4" fill="#24ffdb"/>
<rect x="46.8" y="96.5" width="1.4" height="1.4" fill="#24ffdb"/>
<rect x="46.5" y="95.5" width="1.4" height="1.4" fill="#24ffdb"/>
<rect x="46.1" y="94.5" width="1.4" height="1.4" fill="#24ffdb"/>
<rect x="45.8" y="93.5" width="1.4" height="1.4" fill="#24ffdb"/>
<rect x="45.5" y="92.5" width="1.4" height="1.4" fill="#24ffdb"/>
<rect x="43.6" y="84.8" width="1.4" height="1.4" fill="#24ffdb"/>
<rect x="43.4" y="83.6" width="1.4" height="1.4" fill="#24ffdb"/>
<rect x="43.2" y="82.5" width="1.4" height="1.4" fill="#24ffdb"/>
<rect x="43.1" y="81.3" width="1.4" height="1.4" fill="#24ffdb"/>
<rect x="42.9" y="80.1" width="1.4" height="1.4" fill="#24ffdb"/>
<rect x="42.7" y="79.0" width="1.4" height="1.4" fill="#24ffdb"/>
<rect x="42.6" y="56.0" width="1.4" height="1.4" fill="#24ffdb"/>
<rect x="42.7" y="54.8" width="1.4" height="1.4" fill="#24ffdb"/>
<rect x="42.9" y="53.7" width="1.4" height="1.4" fill="#24ffdb"/>
<rect x="43.1" y="52.5" width="1.4" height="1.4" fill="#24ffdb"/>
<rect x="43.2" y="51.3" width="1.4" height="1.4" fill="#24ffdb"/>
<rect x="45.5" y="41.3" width="1.4" height="1.4" fill="#24ffdb"/>
<rect x="45.8" y="40.3" width="1.4" height="1.4" fill="#24ffdb"/>
<rect x="46.1" y="39.3" width="1.4" height="1.4" fill="#24ffdb"/>
<rect x="46.5" y="38.3" width="1.4" height="1.4" fill="#24ffdb"/>
<rect x="46.8" y="37.3" width="1.4" height="1.4" fill="#24ffdb"/>
<rect x="47.2" y="36.3" width="1.4" height="1.4" fill="#24ffdb"/>
<rect x="47.6" y="35.3" width="1.4" height="1.4" fill="#24ffdb"/>
<rect x="47.9" y="34.4" width="1.4" height="1.4" fill="#24ffdb"/>
<rect x="48.3" y="33.5" width="1.4" height="1.4" fill="#24ffdb"/>
<rect x="48.7" y="32.6" width="1.4" height="1.4" fill="#24ffdb"/>
<rect x="49.2" y="31.7" width="1.4" height="1.4" fill="#24ffdb"/>
<rect x="49.6" y="30.8" width="1.4" height="1.4" fill="#24ffdb"/>
<rect x="50.0" y="30.0" width="1.4" height="1.4" fill="#24ffdb"/>
<rect x="50.5" y="29.2" width="1.4" height="1.4" fill="#24ffdb"/>
<rect x="50.9" y="28.4" width="1.4" height="1.4" fill="#24ffdb"/>
<rect x="51.4" y="27.6" width="1.4" height="1.4" fill="#24ffdb"/>
<rect x="51.9" y="26.9" width="1.4" height="1.4" fill="#24ffdb"/>
<rect x="52.4" y="26.1" width="1.4" height="1.4" fill="#24ffdb"/>
<rect x="52.9" y="25.4" width="1.4" height="1.4" fill="#24ffdb"/>
<rect x="53.4" y="24.7" width="1.4" height="1.4" fill="#24ffdb"/>
<rect x="53.9" y="24.1" width="1.4" height="1.4" fill="#24ffdb"/>
<rect x="54.4" y="23.5" width="1.4" height="1.4" fill="#24ffdb"/>
<rect x="55.0" y="22.9" width="1.4" height="1.4" fill="#24ffdb"/>
<rect x="55.5" y="22.3" width="1.4" height="1.4" fill="#24ffdb"/>
<rect x="56.0" y="21.7" width="1.4" height="1.4" fill="#24ffdb"/>
<rect x="56.6" y="21.2" width="1.4" height="1.4" fill="#24ffdb"/>
<rect x="57.1" y="20.7" width="1.4" height="1.4" fill="#24ffdb"/>
<rect x="57.7" y="20.2" width="1.4" height="1.4" fill="#24ffdb"/>
<rect x="58.3" y="19.8" width="1.4" height="1.4" fill="#24ffdb"/>
<rect x="58.8" y="19.4" width="1.4" height="1.4" fill="#24ffdb"/>
<rect x="59.4" y="19.0" width="1.4" height="1.4" fill="#24ffdb"/>
<rect x="60.0" y="18.6" width="1.4" height="1.4" fill="#24ffdb"/>
<rect x="60.6" y="18.3" width="1.4" height="1.4" fill="#24ffdb"/>
<rect x="61.2" y="18.0" width="1.4" height="1.4" fill="#24ffdb"/>
<rect x="61.8" y="17.7" width="1.4" height="1.4" fill="#24ffdb"/>
<rect x="62.4" y="17.4" width="1.4" height="1.4" fill="#24ffdb"/>
<rect x="63.0" y="17.2" width="1.4" height="1.4" fill="#24ffdb"/>
<rect x="63.6" y="17.0" width="1.4" height="1.4" fill="#24ffdb"/>
<rect x="64.2" y="16.9" width="1.4" height="1.4" fill="#24ffdb"/>
<rect x="64.8" y="16.7" width="1.4" height="1.4" fill="#24ffdb"/>
<rect x="65.4" y="16.6" width="1.4" height="1.4" fill="#24ffdb"/>
<rect x="66.0" y="16.6" width="1.4" height="1.4" fill="#24ffdb"/>
<rect x="66.6" y="16.5" width="1.4" height="1.4" fill="#24ffdb"/>
<rect x="67.2" y="16.5" width="1.4" height="1.4" fill="#24ffdb"/>
<rect x="67.8" y="16.5" width="1.4" height="1.4" fill="#24ffdb"/>
<rect x="68.4" y="16.6" width="1.4" height="1.4" fill="#24ffdb"/>
<rect x="69.0" y="16.6" width="1.4" height="1.4" fill="#24ffdb"/>
<rect x="69.6" y="16.7" width="1.4" height="1.4" fill="#24ffdb"/>
<rect x="70.2" y="16.9" width="1.4" height="1.4" fill="#24ffdb"/>
<rect x="70.8" y="17.0" width="1.4" height="1.4" fill="#24ffdb"/>
<rect x="71.4" y="17.2" width="1.4" height="1.4" fill="#24ffdb"/>
<rect x="72.0" y="17.4" width="1.4" height="1.4" fill="#24ffdb"/>
<rect x="72.6" y="17.7" width="1.4" height="1.4" fill="#24ffdb"/>
<rect x="73.2" y="18.0" width="1.4" height="1.4" fill="#24ffdb"/>
<rect x="73.8" y="18.3" width="1.4" height="1.4" fill="#24ffdb"/>
<rect x="74.4" y="18.6" width="1.4" height="1.4" fill="#24ffdb"/>
<rect x="75.0" y="19.0" width="1.4" height="1.4" fill="#24ffdb"/>
<rect x="75.6" y="19.4" width="1.4" height="1.4" fill="#24ffdb"/>
<rect x="76.1" y="19.8" width="1.4" height="1.4" fill="#24ffdb"/>
<rect x="76.7" y="20.2" width="1.4" height="1.4" fill="#24ffdb"/>
<rect x="77.3" y="20.7" width="1.4" height="1.4" fill="#24ffdb"/>
<rect x="77.8" y="21.2" width="1.4" height="1.4" fill="#24ffdb"/>
<rect x="78.4" y="21.7" width="1.4" height="1.4" fill="#24ffdb"/>
<rect x="78.9" y="22.3" width="1.4" height="1.4" fill="#24ffdb"/>
<rect x="79.4" y="22.9" width="1.4" height="1.4" fill="#24ffdb"/>
<rect x="80.0" y="23.5" width="1.4" height="1.4" fill="#24ffdb"/>
<rect x="80.5" y="24.1" width="1.4" height="1.4" fill="#24ffdb"/>
<rect x="81.0" y="24.7" width="1.4" height="1.4" fill="#24ffdb"/>
<rect x="81.5" y="25.4" width="1.4" height="1.4" fill="#24ffdb"/>
<rect x="82.0" y="26.1" width="1.4" height="1.4" fill="#24ffdb"/>
<rect x="82.5" y="26.9" width="1.4" height="1.4" fill="#24ffdb"/>
<rect x="83.0" y="27.6" width="1.4" height="1.4" fill="#24ffdb"/>
<rect x="83.5" y="28.4" width="1.4" height="1.4" fill="#24ffdb"/>
<rect x="83.9" y="29.2" width="1.4" height="1.4" fill="#24ffdb"/>
<rect x="84.4" y="30.0" width="1.4" height="1.4" fill="#24ffdb"/>
<rect x="84.8" y="30.8" width="1.4" height="1.4" fill="#24ffdb"/>
<rect x="85.2" y="31.7" width="1.4" height="1.4" fill="#24ffdb"/>
<rect x="85.7" y="32.6" width="1.4" height="1.4" fill="#24ffdb"/>
<rect x="86.1" y="33.5" width="1.4" height="1.4" fill="#24ffdb"/>
<rect x="86.5" y="34.4" width="1.4" height="1.4" fill="#24ffdb"/>
<rect x="86.8" y="35.3" width="1.4" height="1.4" fill="#24ffdb"/>
<rect x="87.2" y="36.3" width="1.4" height="1.4" fill="#24ffdb"/>
<rect x="87.6" y="37.3" width="1.4" height="1.4" fill="#24ffdb"/>
<rect x="87.9" y="38.3" width="1.4" height="1.4" fill="#24ffdb"/>
<rect x="88.3" y="39.3" width="1.4" height="1.4" fill="#24ffdb"/>
<rect x="88.6" y="40.3" width="1.4" height="1.4" fill="#24ffdb"/>
<rect x="88.9" y="41.3" width="1.4" height="1.4" fill="#24ffdb"/>
<rect x="91.7" y="76.1" width="1.9" height="1.9" fill="#1affe5"/>
<rect x="91.4" y="79.2" width="1.9" height="1.9" fill="#2effd1"/>
<rect x="90.9" y="82.2" width="1.9" height="1.9" fill="#e5ff1a"/>
<rect x="90.4" y="85.2" width="1.9" height="1.9" fill="#b3ff4c"/>
<rect x="89.8" y="88.1" width="1.9" height="1.9" fill="#4dffb2"/>
<rect x="89.0" y="90.9" width="1.9" height="1.9" fill="#ff0500"/>
<rect x="88.2" y="93.7" width="1.9" height="1.9" fill="#faff05"/>
<rect x="87.3" y="96.3" width="1.9" height="1.9" fill="#2effd1"/>
<rect x="86.4" y="98.8" width="1.9" height="1.9" fill="#ff6100"/>
<rect x="85.3" y="101.2" width="1.9" height="1.9" fill="#2effd1"/>
<rect x="84.2" y="103.4" width="1.9" height="1.9" fill="#b3ff4c"/>
<rect x="83.0" y="105.5" width="1.9" height="1.9" fill="#ff0500"/>
<rect x="81.8" y="107.4" width="1.9" height="1.9" fill="#4dffb2"/>
<rect x="80.5" y="109.2" width="1.9" height="1.9" fill="#faff05"/>
<rect x="79.1" y="110.8" width="1.9" height="1.9" fill="#faff05"/>
<rect x="77.7" y="112.3" width="1.9" height="1.9" fill="#2effd1"/>
<rect x="76.2" y="113.5" width="1.9" height="1.9" fill="#ff6100"/>
<rect x="74.7" y="114.6" width="1.9" height="1.9" fill="#b3ff4c"/>
<rect x="73.2" y="115.5" width="1.9" height="1.9" fill="#1affe5"/>
<rect x="71.7" y="116.2" width="1.9" height="1.9" fill="#b3ff4c"/>
<rect x="70.1" y="116.7" width="1.9" height="1.9" fill="#2effd1"/>
<rect x="68.5" y="117.0" width="1.9" height="1.9" fill="#ff0500"/>
<rect x="67.0" y="117.0" width="1.9" height="1.9" fill="#faff05"/>
<rect x="65.4" y="117.0" width="1.9" height="1.9" fill="#2effd1"/>
<rect x="63.8" y="116.7" width="1.9" height="1.9" fill="#ff6100"/>
<rect x="62.2" y="116.2" width="1.9" height="1.9" fill="#ff6100"/>
<rect x="60.7" y="115.5" width="1.9" height="1.9" fill="#1affe5"/>
<rect x="59.2" y="114.6" width="1.9" height="1.9" fill="#faff05"/>
<rect x="57.7" y="113.5" width="1.9" height="1.9" fill="#4dffb2"/>
<rect x="56.2" y="112.3" width="1.9" height="1.9" fill="#ff0500"/>
<rect x="54.8" y="110.8" width="1.9" height="1.9" fill="#faff05"/>
<rect x="53.4" y="109.2" width="1.9" height="1.9" fill="#2effd1"/>
<rect x="52.1" y="107.4" width="1.9" height="1.9" fill="#4dffb2"/>
<rect x="50.9" y="105.5" width="1.9" height="1.9" fill="#b3ff4c"/>
<rect x="49.7" y="103.4" width="1.9" height="1.9" fill="#1affe5"/>
<rect x="48.6" y="101.2" width="1.9" height="1.9" fill="#ffc700"/>
<rect x="47.5" y="98.8" width="1.9" height="1.9" fill="#4dffb2"/>
<rect x="46.6" y="96.3" width="1.9" height="1.9" fill="#ff0500"/>
<rect x="45.7" y="93.7" width="1.9" height="1.9" fill="#2effd1"/>
<rect x="43.0" y="82.2" width="1.9" height="1.9" fill="#80ff80"/>
<rect x="42.5" y="79.2" width="1.9" height="1.9" fill="#2effd1"/>
<rect x="42.5" y="54.1" width="1.9" height="1.9" fill="#4dffb2"/>
<rect x="43.0" y="51.1" width="1.9" height="1.9" fill="#1affe5"/>
<rect x="45.7" y="39.6" width="1.9" height="1.9" fill="#2effd1"/>
<rect x="46.6" y="37.0" width="1.9" height="1.9" fill="#4dffb2"/>
<rect x="47.5" y="34.5" width="1.9" height="1.9" fill="#b3ff4c"/>
<rect x="48.6" y="32.1" width="1.9" height="1.9" fill="#ff6100"/>
<rect x="49.7" y="29.9" width="1.9" height="1.9" fill="#ffc700"/>
<rect x="50.9" y="27.8" width="1.9" height="1.9" fill="#4dffb2"/>
<rect x="52.1" y="25.9" width="1.9" height="1.9" fill="#ff0500"/>
<rect x="53.4" y="24.1" width="1.9" height="1.9" fill="#faff05"/>
<rect x="54.8" y="22.5" width="1.9" height="1.9" fill="#2effd1"/>
<rect x="56.2" y="21.0" width="1.9" height="1.9" fill="#ff6100"/>
<rect x="57.7" y="19.8" width="1.9" height="1.9" fill="#b3ff4c"/>
<rect x="59.2" y="18.7" width="1.9" height="1.9" fill="#ffc700"/>
<rect x="60.7" y="17.8" width="1.9" height="1.9" fill="#ffc700"/>
<rect x="62.2" y="17.1" width="1.9" height="1.9" fill="#4dffb2"/>
<rect x="63.8" y="16.6" width="1.9" height="1.9" fill="#ff0500"/>
<rect x="65.4" y="16.3" width="1.9" height="1.9" fill="#ffc700"/>
<rect x="67.0" y="16.2" width="1.9" height="1.9" fill="#2effd1"/>
<rect x="68.5" y="16.3" width="1.9" height="1.9" fill="#1affe5"/>
<rect x="70.1" y="16.6" width="1.9" height="1.9" fill="#b3ff4c"/>
<rect x="71.7" y="17.1" width="1.9" height="1.9" fill="#1affe5"/>
<rect x="73.2" y="17.8" width="1.9" height="1.9" fill="#ffc700"/>
<rect x="74.7" y="18.7" width="1.9" height="1.9" fill="#faff05"/>
<rect x="76.2" y="19.8" width="1.9" height="1.9" fill="#ff0500"/>
<rect x="77.7" y="21.0" width="1.9" height="1.9" fill="#ffc700"/>
<rect x="79.1" y="22.5" width="1.9" height="1.9" fill="#4dffb2"/>
<rect x="80.5" y="24.1" width="1.9" height="1.9" fill="#ff6100"/>
<rect x="81.8" y="25.9" width="1.9" height="1.9" fill="#b3ff4c"/>
<rect x="83.0" y="27.8" width="1.9" height="1.9" fill="#1affe5"/>
<rect x="84.2" y="29.9" width="1.9" height="1.9" fill="#ffc700"/>
<rect x="85.3" y="32.1" width="1.9" height="1.9" fill="#4dffb2"/>
<rect x="86.4" y="34.5" width="1.9" height="1.9" fill="#ff0500"/>
<rect x="87.3" y="37.0" width="1.9" height="1.9" fill="#faff05"/>
<rect x="88.2" y="39.6" width="1.9" height="1.9" fill="#ff0500"/>
<rect x="63.900000000000006" y="16.399999999999995" width="8" height="1.6" fill="#ff0500" opacity="1"/>
<rect x="63.900000000000006" y="117.2" width="8" height="1.6" fill="#ff4c00" opacity="1"/>
<rect x="133" y="0" width="1" height="133.5" fill="#14147a"/><text x="11.9" y="16.8" text-anchor="middle" font-family="Liberation Sans" font-size="15" fill="#fff">n</text></g>
<g transform="translate(0,286.5)" clip-path="url(#c20)"><rect x="0" y="0" width="134" height="133.8" fill="#00008f"/>
<g filter="url(#b05)"><circle cx="63.0" cy="41.5" r="5.8" fill="url(#g14)"/>
<circle cx="76.3" cy="58.7" r="5.8" fill="url(#g14)"/>
<circle cx="54.8" cy="103.3" r="5.8" fill="url(#g26)"/>
<circle cx="51.8" cy="33.3" r="4.5" fill="url(#g27)"/>
<circle cx="58.7" cy="66.5" r="4.6" fill="url(#g11)"/>
<rect x="62" y="75.5" width="7" height="7" fill="#0057ff" opacity="1"/>
<circle cx="80.2" cy="67.5" r="3.6" fill="url(#g11)"/>
<circle cx="85.1" cy="82.2" r="4.2" fill="url(#g28)"/>
<circle cx="64.6" cy="50.9" r="3.3" fill="url(#g29)"/>
<rect x="76" y="112" width="8" height="6" fill="#00b2ff" opacity="1"/>
<rect x="71.5" y="13.5" width="13" height="2" fill="#05fffa" opacity="1"/>
<ellipse cx="92.0" cy="26.4" rx="2.2" ry="5.5" fill="url(#g30)"/>
<circle cx="84.1" cy="99.8" r="3.8" fill="url(#g31)"/>
<circle cx="71.4" cy="111.5" r="3.8" fill="url(#g32)"/>
<circle cx="86.0" cy="40.0" r="3.3" fill="url(#g9)"/></g>
<ellipse cx="67.9" cy="67.6" rx="25.2" ry="50.4" fill="none" stroke="#24ffdb" stroke-width="1.4"/>
<rect x="92.2" y="66.6" width="1.9" height="1.9" fill="#b3ff4c"/>
<rect x="92.1" y="69.8" width="1.9" height="1.9" fill="#4dffb2"/>
<rect x="92.0" y="73.0" width="1.9" height="1.9" fill="#1affe5"/>
<rect x="91.7" y="76.1" width="1.9" height="1.9" fill="#4dffb2"/>
<rect x="91.4" y="79.2" width="1.9" height="1.9" fill="#e5ff1a"/>
<rect x="90.9" y="82.2" width="1.9" height="1.9" fill="#e5ff1a"/>
<rect x="90.4" y="85.2" width="1.9" height="1.9" fill="#80ff80"/>
<rect x="89.8" y="88.1" width="1.9" height="1.9" fill="#2effd1"/>
<rect x="89.0" y="90.9" width="1.9" height="1.9" fill="#ff0500"/>
<rect x="88.2" y="93.7" width="1.9" height="1.9" fill="#2effd1"/>
<rect x="87.3" y="96.3" width="1.9" height="1.9" fill="#1affe5"/>
<rect x="86.4" y="98.8" width="1.9" height="1.9" fill="#4dffb2"/>
<rect x="85.3" y="101.2" width="1.9" height="1.9" fill="#b3ff4c"/>
<rect x="84.2" y="103.4" width="1.9" height="1.9" fill="#faff05"/>
<rect x="83.0" y="105.5" width="1.9" height="1.9" fill="#ffc700"/>
<rect x="81.8" y="107.4" width="1.9" height="1.9" fill="#4dffb2"/>
<rect x="80.5" y="109.2" width="1.9" height="1.9" fill="#ff0500"/>
<rect x="79.1" y="110.8" width="1.9" height="1.9" fill="#faff05"/>
<rect x="77.7" y="112.3" width="1.9" height="1.9" fill="#2effd1"/>
<rect x="76.2" y="113.5" width="1.9" height="1.9" fill="#ffc700"/>
<rect x="74.7" y="114.6" width="1.9" height="1.9" fill="#b3ff4c"/>
<rect x="73.2" y="115.5" width="1.9" height="1.9" fill="#ff6100"/>
<rect x="71.7" y="116.2" width="1.9" height="1.9" fill="#ffc700"/>
<rect x="70.1" y="116.7" width="1.9" height="1.9" fill="#4dffb2"/>
<rect x="68.5" y="117.0" width="1.9" height="1.9" fill="#b3ff4c"/>
<rect x="67.0" y="117.0" width="1.9" height="1.9" fill="#faff05"/>
<rect x="65.4" y="117.0" width="1.9" height="1.9" fill="#faff05"/>
<rect x="63.8" y="116.7" width="1.9" height="1.9" fill="#ff6100"/>
<rect x="62.2" y="116.2" width="1.9" height="1.9" fill="#b3ff4c"/>
<rect x="60.7" y="115.5" width="1.9" height="1.9" fill="#1affe5"/>
<rect x="59.2" y="114.6" width="1.9" height="1.9" fill="#ffc700"/>
<rect x="57.7" y="113.5" width="1.9" height="1.9" fill="#4dffb2"/>
<rect x="56.2" y="112.3" width="1.9" height="1.9" fill="#ff0500"/>
<rect x="54.8" y="110.8" width="1.9" height="1.9" fill="#faff05"/>
<rect x="53.4" y="109.2" width="1.9" height="1.9" fill="#2effd1"/>
<rect x="52.1" y="107.4" width="1.9" height="1.9" fill="#1affe5"/>
<rect x="50.9" y="105.5" width="1.9" height="1.9" fill="#faff05"/>
<rect x="49.7" y="103.4" width="1.9" height="1.9" fill="#1affe5"/>
<rect x="48.6" y="101.2" width="1.9" height="1.9" fill="#ffc700"/>
<rect x="47.5" y="98.8" width="1.9" height="1.9" fill="#ff0500"/>
<rect x="46.6" y="96.3" width="1.9" height="1.9" fill="#ff0500"/>
<rect x="45.7" y="93.7" width="1.9" height="1.9" fill="#faff05"/>
<rect x="44.9" y="90.9" width="1.9" height="1.9" fill="#2effd1"/>
<rect x="44.1" y="88.1" width="1.9" height="1.9" fill="#4dffb2"/>
<rect x="43.5" y="85.2" width="1.9" height="1.9" fill="#1affe5"/>
<rect x="43.0" y="82.2" width="1.9" height="1.9" fill="#1affe5"/>
<rect x="42.5" y="79.2" width="1.9" height="1.9" fill="#2effd1"/>
<rect x="42.2" y="76.1" width="1.9" height="1.9" fill="#2effd1"/>
<rect x="41.9" y="73.0" width="1.9" height="1.9" fill="#b3ff4c"/>
<rect x="41.8" y="69.8" width="1.9" height="1.9" fill="#2effd1"/>
<rect x="41.8" y="66.6" width="1.9" height="1.9" fill="#e5ff1a"/>
<rect x="41.8" y="63.5" width="1.9" height="1.9" fill="#80ff80"/>
<rect x="41.9" y="60.3" width="1.9" height="1.9" fill="#b3ff4c"/>
<rect x="42.2" y="57.2" width="1.9" height="1.9" fill="#b3ff4c"/>
<rect x="42.5" y="54.1" width="1.9" height="1.9" fill="#2effd1"/>
<rect x="43.0" y="51.1" width="1.9" height="1.9" fill="#e5ff1a"/>
<rect x="43.5" y="48.1" width="1.9" height="1.9" fill="#e5ff1a"/>
<rect x="44.1" y="45.2" width="1.9" height="1.9" fill="#80ff80"/>
<rect x="44.9" y="42.4" width="1.9" height="1.9" fill="#ff6100"/>
<rect x="45.7" y="39.6" width="1.9" height="1.9" fill="#b3ff4c"/>
<rect x="46.6" y="37.0" width="1.9" height="1.9" fill="#1affe5"/>
<rect x="47.5" y="34.5" width="1.9" height="1.9" fill="#1affe5"/>
<rect x="48.6" y="32.1" width="1.9" height="1.9" fill="#4dffb2"/>
<rect x="49.7" y="29.9" width="1.9" height="1.9" fill="#ff0500"/>
<rect x="50.9" y="27.8" width="1.9" height="1.9" fill="#4dffb2"/>
<rect x="52.1" y="25.9" width="1.9" height="1.9" fill="#2effd1"/>
<rect x="53.4" y="24.1" width="1.9" height="1.9" fill="#4dffb2"/>
<rect x="54.8" y="22.5" width="1.9" height="1.9" fill="#b3ff4c"/>
<rect x="56.2" y="21.0" width="1.9" height="1.9" fill="#1affe5"/>
<rect x="57.7" y="19.8" width="1.9" height="1.9" fill="#ffc700"/>
<rect x="59.2" y="18.7" width="1.9" height="1.9" fill="#4dffb2"/>
<rect x="60.7" y="17.8" width="1.9" height="1.9" fill="#ff0500"/>
<rect x="62.2" y="17.1" width="1.9" height="1.9" fill="#ffc700"/>
<rect x="63.8" y="16.6" width="1.9" height="1.9" fill="#2effd1"/>
<rect x="65.4" y="16.3" width="1.9" height="1.9" fill="#4dffb2"/>
<rect x="67.0" y="16.2" width="1.9" height="1.9" fill="#b3ff4c"/>
<rect x="68.5" y="16.3" width="1.9" height="1.9" fill="#1affe5"/>
<rect x="70.1" y="16.6" width="1.9" height="1.9" fill="#1affe5"/>
<rect x="71.7" y="17.1" width="1.9" height="1.9" fill="#4dffb2"/>
<rect x="73.2" y="17.8" width="1.9" height="1.9" fill="#1affe5"/>
<rect x="74.7" y="18.7" width="1.9" height="1.9" fill="#faff05"/>
<rect x="76.2" y="19.8" width="1.9" height="1.9" fill="#2effd1"/>
<rect x="77.7" y="21.0" width="1.9" height="1.9" fill="#ff6100"/>
<rect x="79.1" y="22.5" width="1.9" height="1.9" fill="#1affe5"/>
<rect x="80.5" y="24.1" width="1.9" height="1.9" fill="#ffc700"/>
<rect x="81.8" y="25.9" width="1.9" height="1.9" fill="#1affe5"/>
<rect x="83.0" y="27.8" width="1.9" height="1.9" fill="#1affe5"/>
<rect x="84.2" y="29.9" width="1.9" height="1.9" fill="#ff0500"/>
<rect x="85.3" y="32.1" width="1.9" height="1.9" fill="#ff0500"/>
<rect x="86.4" y="34.5" width="1.9" height="1.9" fill="#2effd1"/>
<rect x="87.3" y="37.0" width="1.9" height="1.9" fill="#ff6100"/>
<rect x="88.2" y="39.6" width="1.9" height="1.9" fill="#b3ff4c"/>
<rect x="89.0" y="42.4" width="1.9" height="1.9" fill="#1affe5"/>
<rect x="89.8" y="45.2" width="1.9" height="1.9" fill="#b3ff4c"/>
<rect x="90.4" y="48.1" width="1.9" height="1.9" fill="#2effd1"/>
<rect x="90.9" y="51.1" width="1.9" height="1.9" fill="#4dffb2"/>
<rect x="91.4" y="54.1" width="1.9" height="1.9" fill="#e5ff1a"/>
<rect x="91.7" y="57.2" width="1.9" height="1.9" fill="#4dffb2"/>
<rect x="92.0" y="60.3" width="1.9" height="1.9" fill="#4dffb2"/>
<rect x="92.1" y="63.5" width="1.9" height="1.9" fill="#b3ff4c"/>
<rect x="62.900000000000006" y="117.2" width="10" height="1.6" fill="#ffc700" opacity="1"/>
<rect x="0" y="0" width="1" height="133.8" fill="#10106a"/><text x="9.8" y="16.8" text-anchor="middle" font-family="Liberation Sans" font-size="15" fill="#fff">c</text></g>
<g transform="translate(137,286.5)" clip-path="url(#c21)"><rect x="0" y="0" width="135" height="133.8" fill="#00008f"/>
<g filter="url(#b15)">
<ellipse cx="68.9" cy="68.6" rx="32.2" ry="51.4" fill="#0000c7"/>
<ellipse cx="68.9" cy="68.6" rx="28.7" ry="48.9" fill="none" stroke="#001aff" stroke-width="7"/>
<ellipse cx="68.9" cy="70.6" rx="19.2" ry="38.4" fill="#000094"/>
</g>
<g filter="url(#b1)">
<rect x="67.4" y="111.1" width="5.0" height="2.0" fill="#0000ef" opacity="0.7"/>
<rect x="74.6" y="34.7" width="10.0" height="2.0" fill="#0071ff" opacity="0.7"/>
<rect x="62.2" y="23.3" width="7.5" height="2.0" fill="#0046ff" opacity="0.7"/>
<rect x="49.9" y="92.7" width="5.0" height="2.0" fill="#0052ff" opacity="0.7"/>
<rect x="75.1" y="41.5" width="10.0" height="2.0" fill="#0002ff" opacity="0.7"/>
<rect x="51.5" y="19.7" width="7.5" height="2.0" fill="#0012ff" opacity="0.7"/>
<rect x="47.3" y="104.7" width="5.0" height="2.0" fill="#007cff" opacity="0.7"/>
<rect x="68.1" y="35.0" width="5.0" height="2.0" fill="#0082ff" opacity="0.7"/>
<rect x="36.9" y="77.5" width="5.0" height="2.0" fill="#0087ff" opacity="0.7"/>
<rect x="80.5" y="116.2" width="5.0" height="2.0" fill="#0027ff" opacity="0.7"/>
<rect x="52.8" y="18.8" width="7.5" height="2.0" fill="#0079ff" opacity="0.7"/>
<rect x="89.2" y="101.7" width="5.0" height="2.0" fill="#0037ff" opacity="0.7"/>
<rect x="37.6" y="38.5" width="10.0" height="2.0" fill="#002dff" opacity="0.7"/>
<rect x="48.4" y="23.2" width="5.0" height="2.0" fill="#006aff" opacity="0.7"/>
<rect x="96.7" y="66.6" width="5.0" height="2.0" fill="#0048ff" opacity="0.7"/>
<rect x="35.4" y="60.1" width="10.0" height="2.0" fill="#007cff" opacity="0.7"/>
<rect x="76.3" y="39.9" width="5.0" height="2.0" fill="#001fff" opacity="0.7"/>
<rect x="86.5" y="32.0" width="7.5" height="2.0" fill="#001dff" opacity="0.7"/>
<rect x="70.7" y="115.7" width="5.0" height="2.0" fill="#003eff" opacity="0.7"/>
<rect x="74.6" y="26.4" width="7.5" height="2.0" fill="#000dff" opacity="0.7"/>
<rect x="39.9" y="57.5" width="7.5" height="2.0" fill="#0086ff" opacity="0.7"/>
<rect x="83.1" y="42.3" width="5.0" height="2.0" fill="#002aff" opacity="0.7"/>
<rect x="38.2" y="51.5" width="5.0" height="2.0" fill="#0075ff" opacity="0.7"/>
<rect x="84.8" y="95.3" width="5.0" height="2.0" fill="#0082ff" opacity="0.7"/>
<rect x="56.6" y="36.5" width="5.0" height="2.0" fill="#001fff" opacity="0.7"/>
<rect x="42.0" y="52.3" width="7.5" height="2.0" fill="#0082ff" opacity="0.7"/>
<rect x="41.1" y="45.9" width="10.0" height="2.0" fill="#0022ff" opacity="0.7"/>
<rect x="46.9" y="72.1" width="7.5" height="2.0" fill="#0060ff" opacity="0.7"/>
<rect x="81.2" y="104.3" width="10.0" height="2.0" fill="#0085ff" opacity="0.7"/>
<rect x="41.1" y="97.2" width="7.5" height="2.0" fill="#0019ff" opacity="0.7"/>
<rect x="39.9" y="99.3" width="7.5" height="2.0" fill="#0085ff" opacity="0.7"/>
<rect x="42.9" y="54.2" width="7.5" height="2.0" fill="#005aff" opacity="0.7"/>
<rect x="44.3" y="72.3" width="10.0" height="2.0" fill="#007fff" opacity="0.7"/>
<rect x="80.5" y="40.3" width="5.0" height="2.0" fill="#001eff" opacity="0.7"/>
<rect x="45.4" y="96.0" width="7.5" height="2.0" fill="#0069ff" opacity="0.7"/>
<rect x="87.1" y="75.8" width="7.5" height="2.0" fill="#007cff" opacity="0.7"/>
<rect x="84.7" y="57.9" width="5.0" height="2.0" fill="#002bff" opacity="0.7"/>
<rect x="46.5" y="110.7" width="10.0" height="2.0" fill="#0000e0" opacity="0.7"/>
<rect x="87.1" y="47.4" width="10.0" height="2.0" fill="#0000d1" opacity="0.7"/>
<rect x="77.6" y="114.0" width="5.0" height="2.0" fill="#0078ff" opacity="0.7"/>
<rect x="46.6" y="37.4" width="5.0" height="2.0" fill="#005fff" opacity="0.7"/>
<rect x="94.6" y="64.7" width="5.0" height="2.0" fill="#002aff" opacity="0.7"/>
<rect x="80.5" y="103.9" width="5.0" height="2.0" fill="#001dff" opacity="0.7"/>
<rect x="45.0" y="70.0" width="10.0" height="2.0" fill="#0026ff" opacity="0.7"/>
<rect x="94.0" y="92.4" width="5.0" height="2.0" fill="#0000e7" opacity="0.7"/>
<rect x="39.5" y="47.0" width="5.0" height="2.0" fill="#004bff" opacity="0.7"/>
<rect x="92.5" y="60.7" width="10.0" height="2.0" fill="#0014ff" opacity="0.7"/>
<rect x="69.7" y="114.6" width="5.0" height="2.0" fill="#002bff" opacity="0.7"/>
<rect x="77.8" y="103.1" width="5.0" height="2.0" fill="#0037ff" opacity="0.7"/>
<rect x="79.2" y="110.5" width="10.0" height="2.0" fill="#0000e2" opacity="0.7"/>
<rect x="63.8" y="25.0" width="5.0" height="2.0" fill="#0000d4" opacity="0.7"/>
<rect x="95.2" y="72.9" width="5.0" height="2.0" fill="#0009ff" opacity="0.7"/>
<rect x="82.0" y="111.6" width="5.0" height="2.0" fill="#0058ff" opacity="0.7"/>
<rect x="78.9" y="94.7" width="7.5" height="2.0" fill="#0029ff" opacity="0.7"/>
<rect x="88.3" y="92.2" width="10.0" height="2.0" fill="#004fff" opacity="0.7"/>
<rect x="58.9" y="112.8" width="7.5" height="2.0" fill="#006aff" opacity="0.7"/>
<rect x="58.2" y="37.4" width="5.0" height="2.0" fill="#0000f0" opacity="0.7"/>
<rect x="59.0" y="104.9" width="5.0" height="2.0" fill="#0054ff" opacity="0.7"/>
<rect x="44.4" y="82.9" width="7.5" height="2.0" fill="#0000f4" opacity="0.7"/>
<rect x="44.5" y="71.8" width="10.0" height="2.0" fill="#003cff" opacity="0.7"/>
<rect x="36.7" y="71.5" width="5.0" height="2.0" fill="#006cff" opacity="0.7"/>
<rect x="89.5" y="74.4" width="5.0" height="2.0" fill="#0030ff" opacity="0.7"/>
<rect x="77.4" y="106.1" width="5.0" height="2.0" fill="#0066ff" opacity="0.7"/>
<rect x="68.1" y="18.5" width="5.0" height="2.0" fill="#0009ff" opacity="0.7"/>
<rect x="87.0" y="74.3" width="10.0" height="2.0" fill="#000aff" opacity="0.7"/>
<rect x="67.5" y="116.8" width="10.0" height="2.0" fill="#0061ff" opacity="0.7"/>
<rect x="52.5" y="40.9" width="10.0" height="2.0" fill="#0000e3" opacity="0.7"/>
<rect x="75.9" y="95.9" width="5.0" height="2.0" fill="#0012ff" opacity="0.7"/>
<rect x="78.6" y="109.3" width="7.5" height="2.0" fill="#000aff" opacity="0.7"/>
<rect x="90.8" y="64.9" width="10.0" height="2.0" fill="#0000f5" opacity="0.7"/>
<rect x="87.2" y="93.1" width="7.5" height="2.0" fill="#0061ff" opacity="0.7"/>
<rect x="87.1" y="74.5" width="5.0" height="2.0" fill="#0000fa" opacity="0.7"/>
<rect x="54.8" y="98.1" width="10.0" height="2.0" fill="#0034ff" opacity="0.7"/>
<rect x="61.1" y="109.2" width="5.0" height="2.0" fill="#0042ff" opacity="0.7"/>
<rect x="78.9" y="23.6" width="10.0" height="2.0" fill="#0005ff" opacity="0.7"/>
<rect x="83.3" y="29.6" width="5.0" height="2.0" fill="#000eff" opacity="0.7"/>
<rect x="68.9" y="25.0" width="5.0" height="2.0" fill="#0037ff" opacity="0.7"/>
<rect x="84.4" y="50.1" width="7.5" height="2.0" fill="#0057ff" opacity="0.7"/>
<rect x="57.7" y="110.3" width="7.5" height="2.0" fill="#0075ff" opacity="0.7"/>
<rect x="58.5" y="115.1" width="10.0" height="2.0" fill="#006eff" opacity="0.7"/>
<rect x="78.5" y="27.0" width="7.5" height="2.0" fill="#004aff" opacity="0.7"/>
<rect x="44.6" y="55.8" width="10.0" height="2.0" fill="#0000f8" opacity="0.7"/>
<rect x="81.9" y="97.7" width="5.0" height="2.0" fill="#005bff" opacity="0.7"/>
<rect x="44.2" y="51.2" width="10.0" height="2.0" fill="#0039ff" opacity="0.7"/>
<rect x="55.9" y="116.9" width="5.0" height="2.0" fill="#0084ff" opacity="0.7"/>
<rect x="94.5" y="72.1" width="7.5" height="2.0" fill="#0043ff" opacity="0.7"/>
<rect x="54.7" y="31.9" width="7.5" height="2.0" fill="#0008ff" opacity="0.7"/>
<rect x="76.8" y="92.7" width="10.0" height="2.0" fill="#0020ff" opacity="0.7"/>
<rect x="57.4" y="116.6" width="5.0" height="2.0" fill="#0011ff" opacity="0.7"/>
<rect x="49.1" y="99.8" width="5.0" height="2.0" fill="#003aff" opacity="0.7"/>
<rect x="95.8" y="54.3" width="5.0" height="2.0" fill="#0079ff" opacity="0.7"/>
<rect x="68.5" y="28.2" width="5.0" height="2.0" fill="#0010ff" opacity="0.7"/>
<rect x="47.2" y="103.3" width="5.0" height="2.0" fill="#0031ff" opacity="0.7"/>
<rect x="39.1" y="42.7" width="10.0" height="2.0" fill="#0029ff" opacity="0.7"/>
<rect x="90.9" y="42.0" width="7.5" height="2.0" fill="#0000f5" opacity="0.7"/>
<rect x="48.2" y="90.4" width="5.0" height="2.0" fill="#000dff" opacity="0.7"/>
<rect x="45.9" y="80.2" width="5.0" height="2.0" fill="#0000e1" opacity="0.7"/>
<rect x="68.0" y="14.3" width="5.0" height="2.0" fill="#0037ff" opacity="0.7"/>
<rect x="88.3" y="51.9" width="7.5" height="2.0" fill="#007dff" opacity="0.7"/>
<rect x="72.0" y="25.0" width="7.5" height="2.0" fill="#003aff" opacity="0.7"/>
<rect x="74.1" y="108.1" width="5.0" height="2.0" fill="#0084ff" opacity="0.7"/>
<rect x="47.1" y="63.1" width="7.5" height="2.0" fill="#0027ff" opacity="0.7"/>
<rect x="85.2" y="28.0" width="10.0" height="2.0" fill="#0000d3" opacity="0.7"/>
<rect x="63.4" y="100.0" width="5.0" height="2.0" fill="#002fff" opacity="0.7"/>
<rect x="77.4" y="17.3" width="5.0" height="2.0" fill="#0000f4" opacity="0.7"/>
<rect x="43.6" y="39.6" width="5.0" height="2.0" fill="#0000fb" opacity="0.7"/>
<rect x="69.5" y="27.8" width="5.0" height="2.0" fill="#0000fc" opacity="0.7"/>
<rect x="94.7" y="61.6" width="10.0" height="2.0" fill="#0029ff" opacity="0.7"/>
<rect x="60.5" y="23.3" width="5.0" height="2.0" fill="#0000fa" opacity="0.7"/>
<rect x="71.2" y="111.9" width="5.0" height="2.0" fill="#002bff" opacity="0.7"/>
<rect x="43.8" y="101.1" width="5.0" height="2.0" fill="#006aff" opacity="0.7"/>
<rect x="69.0" y="116.6" width="7.5" height="2.0" fill="#0000fd" opacity="0.7"/>
<rect x="88.2" y="41.4" width="10.0" height="2.0" fill="#004dff" opacity="0.7"/>
<rect x="65.5" y="106.3" width="7.5" height="2.0" fill="#0079ff" opacity="0.7"/>
<rect x="49.3" y="55.1" width="5.0" height="2.0" fill="#0083ff" opacity="0.7"/>
<rect x="92.1" y="48.9" width="5.0" height="2.0" fill="#0058ff" opacity="0.7"/>
<rect x="62.8" y="118.3" width="5.0" height="2.0" fill="#0043ff" opacity="0.7"/>
<rect x="44.6" y="26.4" width="7.5" height="2.0" fill="#0000dd" opacity="0.7"/>
<rect x="37.0" y="87.9" width="10.0" height="2.0" fill="#0057ff" opacity="0.7"/>
<rect x="48.6" y="90.1" width="5.0" height="2.0" fill="#0000e1" opacity="0.7"/>
<rect x="76.3" y="31.2" width="5.0" height="2.0" fill="#0017ff" opacity="0.7"/>
<rect x="77.4" y="42.4" width="10.0" height="2.0" fill="#0000db" opacity="0.7"/>
<rect x="63.3" y="110.1" width="5.0" height="2.0" fill="#000dff" opacity="0.7"/>
<rect x="50.3" y="92.6" width="5.0" height="2.0" fill="#0084ff" opacity="0.7"/>
<rect x="49.9" y="38.7" width="7.5" height="2.0" fill="#0071ff" opacity="0.7"/>
<rect x="44.8" y="86.8" width="10.0" height="2.0" fill="#0074ff" opacity="0.7"/>
<rect x="83.2" y="74.4" width="10.0" height="2.0" fill="#003eff" opacity="0.7"/>
<rect x="91.2" y="91.3" width="5.0" height="2.0" fill="#0000de" opacity="0.7"/>
<rect x="67.8" y="15.4" width="7.5" height="2.0" fill="#0042ff" opacity="0.7"/>
<rect x="47.5" y="86.5" width="7.5" height="2.0" fill="#006bff" opacity="0.7"/>
<rect x="39.8" y="43.8" width="5.0" height="2.0" fill="#001eff" opacity="0.7"/>
<rect x="65.2" y="32.0" width="10.0" height="2.0" fill="#000cff" opacity="0.7"/>
<rect x="50.4" y="96.3" width="5.0" height="2.0" fill="#0082ff" opacity="0.7"/>
<rect x="81.4" y="43.8" width="7.5" height="2.0" fill="#0023ff" opacity="0.7"/>
<rect x="82.9" y="98.4" width="5.0" height="2.0" fill="#0017ff" opacity="0.7"/>
<rect x="50.4" y="45.7" width="10.0" height="2.0" fill="#0012ff" opacity="0.7"/>
<rect x="70.1" y="30.6" width="5.0" height="2.0" fill="#0000f3" opacity="0.7"/>
<rect x="73.4" y="15.6" width="5.0" height="2.0" fill="#0000fa" opacity="0.7"/>
<rect x="90.6" y="64.1" width="7.5" height="2.0" fill="#004cff" opacity="0.7"/>
<rect x="46.3" y="78.9" width="5.0" height="2.0" fill="#0045ff" opacity="0.7"/>
<rect x="52.6" y="95.5" width="10.0" height="2.0" fill="#0036ff" opacity="0.7"/>
<rect x="36.1" y="64.6" width="5.0" height="2.0" fill="#0036ff" opacity="0.7"/>
<rect x="68.3" y="26.4" width="10.0" height="2.0" fill="#006eff" opacity="0.7"/>
<rect x="44.8" y="82.4" width="10.0" height="2.0" fill="#002eff" opacity="0.7"/>
<rect x="95.6" y="84.6" width="5.0" height="2.0" fill="#0011ff" opacity="0.7"/>
<rect x="89.6" y="82.7" width="10.0" height="2.0" fill="#0000ff" opacity="0.7"/>
<rect x="64.5" y="32.9" width="10.0" height="2.0" fill="#0000fb" opacity="0.7"/>
<rect x="48.6" y="55.1" width="5.0" height="2.0" fill="#0036ff" opacity="0.7"/>
<rect x="77.9" y="114.8" width="10.0" height="2.0" fill="#001dff" opacity="0.7"/>
<rect x="83.7" y="49.5" width="7.5" height="2.0" fill="#001dff" opacity="0.7"/>
<rect x="58.1" y="14.8" width="7.5" height="2.0" fill="#0072ff" opacity="0.7"/>
<rect x="84.3" y="70.3" width="7.5" height="2.0" fill="#003fff" opacity="0.7"/>
<rect x="87.4" y="81.0" width="7.5" height="2.0" fill="#0039ff" opacity="0.7"/>
<rect x="79.9" y="25.7" width="5.0" height="2.0" fill="#0000d3" opacity="0.7"/>
<rect x="51.7" y="108.5" width="5.0" height="2.0" fill="#001dff" opacity="0.7"/>
<rect x="61.4" y="106.7" width="7.5" height="2.0" fill="#0065ff" opacity="0.7"/>
<rect x="45.6" y="31.1" width="5.0" height="2.0" fill="#0000f8" opacity="0.7"/>
<rect x="78.5" y="108.5" width="10.0" height="2.0" fill="#0009ff" opacity="0.7"/>
<rect x="85.8" y="92.8" width="7.5" height="2.0" fill="#0078ff" opacity="0.7"/>
<rect x="71.4" y="35.0" width="5.0" height="2.0" fill="#0000d8" opacity="0.7"/>
<rect x="56.4" y="28.4" width="5.0" height="2.0" fill="#0063ff" opacity="0.7"/>
<rect x="45.3" y="54.2" width="7.5" height="2.0" fill="#0000d2" opacity="0.7"/>
<rect x="65.9" y="108.3" width="5.0" height="2.0" fill="#0073ff" opacity="0.7"/>
<rect x="54.4" y="26.8" width="7.5" height="2.0" fill="#0000d4" opacity="0.7"/>
<rect x="74.0" y="40.5" width="10.0" height="2.0" fill="#0073ff" opacity="0.7"/>
<rect x="75.2" y="114.8" width="7.5" height="2.0" fill="#0074ff" opacity="0.7"/>
<rect x="59.7" y="32.5" width="5.0" height="2.0" fill="#0078ff" opacity="0.7"/>
<rect x="84.7" y="79.4" width="7.5" height="2.0" fill="#0081ff" opacity="0.7"/>
<rect x="80.8" y="95.3" width="5.0" height="2.0" fill="#0024ff" opacity="0.7"/>
<rect x="46.0" y="43.0" width="7.5" height="2.0" fill="#000dff" opacity="0.7"/>
<rect x="83.6" y="39.6" width="7.5" height="2.0" fill="#0057ff" opacity="0.7"/>
<rect x="75.7" y="22.6" width="5.0" height="2.0" fill="#003dff" opacity="0.7"/>
<rect x="86.9" y="51.7" width="10.0" height="2.0" fill="#0035ff" opacity="0.7"/>
<rect x="71.0" y="28.2" width="5.0" height="2.0" fill="#0088ff" opacity="0.7"/>
<rect x="39.7" y="71.7" width="5.0" height="2.0" fill="#005fff" opacity="0.7"/>
<rect x="56.3" y="117.3" width="7.5" height="2.0" fill="#002fff" opacity="0.7"/>
<rect x="44.3" y="81.1" width="10.0" height="2.0" fill="#0038ff" opacity="0.7"/>
<rect x="89.5" y="54.3" width="5.0" height="2.0" fill="#0040ff" opacity="0.7"/>
<rect x="60.3" y="110.9" width="7.5" height="2.0" fill="#0013ff" opacity="0.7"/>
<rect x="66.1" y="99.8" width="10.0" height="2.0" fill="#0078ff" opacity="0.7"/>
<rect x="54.8" y="68.2" width="9.0" height="2.0" fill="#0019ff" opacity="0.6"/>
<rect x="60.7" y="91.0" width="9.0" height="2.0" fill="#0000c0" opacity="0.6"/>
<rect x="61.5" y="77.1" width="6.0" height="2.0" fill="#0000e2" opacity="0.6"/>
<rect x="65.8" y="67.8" width="6.0" height="2.0" fill="#0000f5" opacity="0.6"/>
<rect x="62.1" y="59.9" width="6.0" height="2.0" fill="#0000ed" opacity="0.6"/>
<rect x="69.2" y="76.4" width="9.0" height="2.0" fill="#0023ff" opacity="0.6"/>
<rect x="60.8" y="71.1" width="6.0" height="2.0" fill="#0000e6" opacity="0.6"/>
<rect x="68.0" y="49.4" width="6.0" height="2.0" fill="#0000ec" opacity="0.6"/>
<rect x="66.6" y="68.9" width="6.0" height="2.0" fill="#0000e6" opacity="0.6"/>
<rect x="64.5" y="67.0" width="6.0" height="2.0" fill="#0000df" opacity="0.6"/>
<rect x="64.3" y="69.1" width="6.0" height="2.0" fill="#0000e4" opacity="0.6"/>
<rect x="62.8" y="69.8" width="9.0" height="2.0" fill="#0000e4" opacity="0.6"/>
<rect x="71.1" y="70.5" width="12.0" height="2.0" fill="#0000ec" opacity="0.6"/>
<rect x="64.8" y="69.6" width="9.0" height="2.0" fill="#0000f4" opacity="0.6"/>
<rect x="58.0" y="52.2" width="9.0" height="2.0" fill="#0000ea" opacity="0.6"/>
<rect x="64.9" y="45.8" width="6.0" height="2.0" fill="#001aff" opacity="0.6"/>
<rect x="71.4" y="42.6" width="12.0" height="2.0" fill="#002bff" opacity="0.6"/>
<rect x="67.1" y="66.8" width="6.0" height="2.0" fill="#0000c9" opacity="0.6"/>
<rect x="64.0" y="62.5" width="12.0" height="2.0" fill="#0002ff" opacity="0.6"/>
<rect x="63.2" y="73.9" width="12.0" height="2.0" fill="#001cff" opacity="0.6"/>
<rect x="58.8" y="75.5" width="6.0" height="2.0" fill="#0000da" opacity="0.6"/>
<rect x="65.6" y="72.2" width="9.0" height="2.0" fill="#0000f0" opacity="0.6"/>
<rect x="79.0" y="50.1" width="6.0" height="2.0" fill="#0000ff" opacity="0.6"/>
<rect x="72.5" y="51.8" width="6.0" height="2.0" fill="#0000cd" opacity="0.6"/>
<rect x="70.3" y="78.5" width="9.0" height="2.0" fill="#0000c5" opacity="0.6"/>
<rect x="56.0" y="72.8" width="12.0" height="2.0" fill="#0006ff" opacity="0.6"/>
<rect x="68.4" y="46.1" width="6.0" height="2.0" fill="#0000f8" opacity="0.6"/>
<rect x="64.8" y="43.2" width="9.0" height="2.0" fill="#001fff" opacity="0.6"/>
<rect x="66.4" y="52.9" width="6.0" height="2.0" fill="#0000f5" opacity="0.6"/>
<rect x="70.0" y="71.0" width="9.0" height="2.0" fill="#0000ef" opacity="0.6"/>
<rect x="65.6" y="41.6" width="12.0" height="2.0" fill="#0000f9" opacity="0.6"/>
<rect x="58.6" y="41.2" width="9.0" height="2.0" fill="#0000fc" opacity="0.6"/>
<rect x="58.2" y="52.5" width="9.0" height="2.0" fill="#002bff" opacity="0.6"/>
<rect x="61.5" y="87.2" width="6.0" height="2.0" fill="#0026ff" opacity="0.6"/>
<rect x="65.7" y="85.2" width="6.0" height="2.0" fill="#0014ff" opacity="0.6"/>
<rect x="51.0" y="66.4" width="9.0" height="2.0" fill="#0000f4" opacity="0.6"/>
<rect x="63.9" y="54.1" width="9.0" height="2.0" fill="#0000fc" opacity="0.6"/>
<rect x="71.1" y="74.6" width="6.0" height="2.0" fill="#0000f2" opacity="0.6"/>
<rect x="68.3" y="91.5" width="9.0" height="2.0" fill="#0000f0" opacity="0.6"/>
<rect x="54.4" y="48.0" width="12.0" height="2.0" fill="#001dff" opacity="0.6"/>
<path d="M50.03 30.15 A28.2 50.4 0 0 1 87.77 30.15" fill="none" stroke="#00d1ff" stroke-width="2.4"/>
<path d="M87.03 106.21 A28.2 50.4 0 0 1 50.77 106.21" fill="none" stroke="#0094ff" stroke-width="2.4"/>
<circle cx="63.0" cy="41.5" r="5.8" fill="url(#g14)"/>
<circle cx="76.3" cy="58.7" r="5.8" fill="url(#g14)"/>
<circle cx="54.8" cy="103.3" r="5.8" fill="url(#g26)"/>
<circle cx="51.8" cy="33.3" r="4.5" fill="url(#g27)"/>
<circle cx="58.7" cy="66.5" r="4.6" fill="url(#g11)"/>
<rect x="62" y="75.5" width="7" height="7" fill="#0057ff" opacity="1"/>
<circle cx="80.2" cy="67.5" r="3.6" fill="url(#g11)"/>
<circle cx="85.1" cy="82.2" r="4.2" fill="url(#g28)"/>
<circle cx="64.6" cy="50.9" r="3.3" fill="url(#g29)"/>
<rect x="76" y="112" width="8" height="6" fill="#00b2ff" opacity="1"/>
<rect x="71.5" y="13.5" width="13" height="2" fill="#05fffa" opacity="1"/>
<ellipse cx="92.0" cy="26.4" rx="2.2" ry="5.5" fill="url(#g30)"/>
<circle cx="84.1" cy="99.8" r="3.8" fill="url(#g31)"/>
<circle cx="71.4" cy="111.5" r="3.8" fill="url(#g32)"/>
<circle cx="86.0" cy="40.0" r="3.3" fill="url(#g9)"/>
<rect x="59.900000000000006" y="111.0" width="26" height="7" fill="#00b2ff"/>
</g>
<g filter="url(#b07)">
<circle cx="64.0" cy="42.0" r="4.5" fill="url(#g33)"/>
<circle cx="77.5" cy="59.0" r="4.5" fill="url(#g34)"/>
<circle cx="56.0" cy="104.0" r="4.2" fill="url(#g35)"/>
<ellipse cx="49.8" cy="31.9" rx="5.5" ry="3" fill="url(#g36)"/>
<rect x="71.9" y="112.0" width="8" height="6" fill="#b3ff4c"/>
<rect x="58.900000000000006" y="114.0" width="6" height="4" fill="#4dffb2"/>
<rect x="61.900000000000006" y="17.999999999999996" width="5" height="1.6" fill="#e5ff1a" opacity="1"/>
<rect x="70.9" y="17.999999999999996" width="5" height="1.6" fill="#e5ff1a" opacity="1"/>
</g>
<rect x="0" y="118.6" width="135" height="20" fill="#00008f"/>
<rect x="62.900000000000006" y="116.6" width="11" height="2.4" fill="#fa0000" opacity="1"/>
<rect x="67.9" y="12.699999999999996" width="14" height="2" fill="#00dbff" opacity="0.7"/>
<rect x="0" y="0" width="0.8" height="133.8" fill="#9a9a9a" opacity="0.8"/><text x="11.9" y="16.8" text-anchor="middle" font-family="Liberation Sans" font-size="15" fill="#fff">f</text></g>
<g transform="translate(275,286.5)" clip-path="url(#c22)"><rect x="0" y="0" width="134" height="133.8" fill="#00008f"/>
<g filter="url(#b15)">
<ellipse cx="68.9" cy="68.6" rx="32.2" ry="51.4" fill="#0000c7"/>
<ellipse cx="68.9" cy="68.6" rx="28.7" ry="48.9" fill="none" stroke="#001aff" stroke-width="7"/>
<ellipse cx="68.9" cy="70.6" rx="19.2" ry="38.4" fill="#000094"/>
</g>
<g filter="url(#b1)">
<rect x="82.6" y="63.1" width="10.0" height="2.0" fill="#0057ff" opacity="0.7"/>
<rect x="80.5" y="35.6" width="5.0" height="2.0" fill="#0000d7" opacity="0.7"/>
<rect x="83.2" y="113.7" width="5.0" height="2.0" fill="#001eff" opacity="0.7"/>
<rect x="87.2" y="58.5" width="10.0" height="2.0" fill="#0000d1" opacity="0.7"/>
<rect x="44.2" y="81.8" width="10.0" height="2.0" fill="#0000ee" opacity="0.7"/>
<rect x="66.5" y="105.6" width="10.0" height="2.0" fill="#0061ff" opacity="0.7"/>
<rect x="77.3" y="90.5" width="10.0" height="2.0" fill="#0044ff" opacity="0.7"/>
<rect x="89.5" y="53.0" width="7.5" height="2.0" fill="#004dff" opacity="0.7"/>
<rect x="47.1" y="58.0" width="5.0" height="2.0" fill="#0032ff" opacity="0.7"/>
<rect x="59.7" y="106.3" width="10.0" height="2.0" fill="#0063ff" opacity="0.7"/>
<rect x="76.6" y="24.1" width="5.0" height="2.0" fill="#0020ff" opacity="0.7"/>
<rect x="70.1" y="102.6" width="10.0" height="2.0" fill="#0056ff" opacity="0.7"/>
<rect x="46.7" y="77.3" width="5.0" height="2.0" fill="#0000e8" opacity="0.7"/>
<rect x="88.9" y="91.8" width="5.0" height="2.0" fill="#0000f9" opacity="0.7"/>
<rect x="44.0" y="53.5" width="5.0" height="2.0" fill="#0037ff" opacity="0.7"/>
<rect x="82.0" y="111.2" width="10.0" height="2.0" fill="#006fff" opacity="0.7"/>
<rect x="47.4" y="47.2" width="10.0" height="2.0" fill="#0078ff" opacity="0.7"/>
<rect x="39.9" y="59.0" width="5.0" height="2.0" fill="#0000df" opacity="0.7"/>
<rect x="90.5" y="79.7" width="7.5" height="2.0" fill="#0000d2" opacity="0.7"/>
<rect x="83.4" y="81.7" width="5.0" height="2.0" fill="#0031ff" opacity="0.7"/>
<rect x="88.2" y="97.8" width="5.0" height="2.0" fill="#0017ff" opacity="0.7"/>
<rect x="80.5" y="102.1" width="5.0" height="2.0" fill="#0000da" opacity="0.7"/>
<rect x="71.8" y="33.4" width="5.0" height="2.0" fill="#0051ff" opacity="0.7"/>
<rect x="57.1" y="100.5" width="5.0" height="2.0" fill="#0000ff" opacity="0.7"/>
<rect x="91.1" y="91.7" width="5.0" height="2.0" fill="#0002ff" opacity="0.7"/>
<rect x="87.3" y="34.1" width="7.5" height="2.0" fill="#0000f4" opacity="0.7"/>
<rect x="54.3" y="115.1" width="5.0" height="2.0" fill="#0008ff" opacity="0.7"/>
<rect x="57.3" y="33.2" width="5.0" height="2.0" fill="#002bff" opacity="0.7"/>
<rect x="55.6" y="99.7" width="7.5" height="2.0" fill="#007eff" opacity="0.7"/>
<rect x="48.2" y="99.1" width="10.0" height="2.0" fill="#004fff" opacity="0.7"/>
<rect x="48.6" y="31.2" width="10.0" height="2.0" fill="#006dff" opacity="0.7"/>
<rect x="63.4" y="114.3" width="5.0" height="2.0" fill="#002fff" opacity="0.7"/>
<rect x="44.3" y="71.2" width="7.5" height="2.0" fill="#0074ff" opacity="0.7"/>
<rect x="86.3" y="40.6" width="7.5" height="2.0" fill="#0000dc" opacity="0.7"/>
<rect x="77.5" y="37.4" width="5.0" height="2.0" fill="#0000d4" opacity="0.7"/>
<rect x="73.2" y="112.9" width="5.0" height="2.0" fill="#0026ff" opacity="0.7"/>
<rect x="56.5" y="19.6" width="5.0" height="2.0" fill="#0000db" opacity="0.7"/>
<rect x="72.6" y="19.5" width="7.5" height="2.0" fill="#0003ff" opacity="0.7"/>
<rect x="33.0" y="60.6" width="10.0" height="2.0" fill="#0079ff" opacity="0.7"/>
<rect x="79.5" y="90.7" width="5.0" height="2.0" fill="#003eff" opacity="0.7"/>
<rect x="64.3" y="105.0" width="5.0" height="2.0" fill="#0062ff" opacity="0.7"/>
<rect x="83.6" y="70.5" width="10.0" height="2.0" fill="#0056ff" opacity="0.7"/>
<rect x="60.8" y="33.3" width="5.0" height="2.0" fill="#0020ff" opacity="0.7"/>
<rect x="84.7" y="87.0" width="10.0" height="2.0" fill="#001dff" opacity="0.7"/>
<rect x="65.8" y="33.9" width="10.0" height="2.0" fill="#0029ff" opacity="0.7"/>
<rect x="91.9" y="51.1" width="5.0" height="2.0" fill="#0019ff" opacity="0.7"/>
<rect x="53.7" y="39.5" width="7.5" height="2.0" fill="#0087ff" opacity="0.7"/>
<rect x="41.6" y="47.8" width="5.0" height="2.0" fill="#006fff" opacity="0.7"/>
<rect x="67.2" y="23.6" width="10.0" height="2.0" fill="#007bff" opacity="0.7"/>
<rect x="61.1" y="113.6" width="7.5" height="2.0" fill="#002eff" opacity="0.7"/>
<rect x="61.8" y="35.7" width="10.0" height="2.0" fill="#0024ff" opacity="0.7"/>
<rect x="79.4" y="44.1" width="10.0" height="2.0" fill="#0000f5" opacity="0.7"/>
<rect x="44.6" y="55.0" width="7.5" height="2.0" fill="#0000e2" opacity="0.7"/>
<rect x="48.9" y="83.3" width="7.5" height="2.0" fill="#0000fc" opacity="0.7"/>
<rect x="83.1" y="97.9" width="5.0" height="2.0" fill="#0045ff" opacity="0.7"/>
<rect x="56.1" y="117.7" width="5.0" height="2.0" fill="#0000d3" opacity="0.7"/>
<rect x="81.7" y="94.1" width="5.0" height="2.0" fill="#0000f7" opacity="0.7"/>
<rect x="51.9" y="115.3" width="5.0" height="2.0" fill="#007fff" opacity="0.7"/>
<rect x="86.3" y="26.1" width="5.0" height="2.0" fill="#003eff" opacity="0.7"/>
<rect x="43.9" y="37.8" width="10.0" height="2.0" fill="#0000eb" opacity="0.7"/>
<rect x="89.7" y="66.2" width="5.0" height="2.0" fill="#0050ff" opacity="0.7"/>
<rect x="60.5" y="28.1" width="5.0" height="2.0" fill="#0030ff" opacity="0.7"/>
<rect x="49.9" y="107.4" width="10.0" height="2.0" fill="#003eff" opacity="0.7"/>
<rect x="51.7" y="19.2" width="7.5" height="2.0" fill="#003bff" opacity="0.7"/>
<rect x="46.6" y="31.6" width="5.0" height="2.0" fill="#0035ff" opacity="0.7"/>
<rect x="86.1" y="82.6" width="7.5" height="2.0" fill="#0037ff" opacity="0.7"/>
<rect x="65.8" y="107.5" width="5.0" height="2.0" fill="#0063ff" opacity="0.7"/>
<rect x="46.4" y="54.6" width="5.0" height="2.0" fill="#000cff" opacity="0.7"/>
<rect x="51.2" y="38.1" width="5.0" height="2.0" fill="#005bff" opacity="0.7"/>
<rect x="81.0" y="80.7" width="10.0" height="2.0" fill="#0022ff" opacity="0.7"/>
<rect x="42.2" y="61.5" width="5.0" height="2.0" fill="#0000ee" opacity="0.7"/>
<rect x="57.9" y="105.8" width="5.0" height="2.0" fill="#005fff" opacity="0.7"/>
<rect x="43.9" y="46.8" width="7.5" height="2.0" fill="#000dff" opacity="0.7"/>
<rect x="50.8" y="22.6" width="10.0" height="2.0" fill="#0000da" opacity="0.7"/>
<rect x="94.0" y="61.7" width="5.0" height="2.0" fill="#0000d1" opacity="0.7"/>
<rect x="40.2" y="60.7" width="5.0" height="2.0" fill="#0000d7" opacity="0.7"/>
<rect x="54.4" y="116.6" width="10.0" height="2.0" fill="#0000f9" opacity="0.7"/>
<rect x="48.7" y="75.3" width="5.0" height="2.0" fill="#0000fd" opacity="0.7"/>
<rect x="56.2" y="32.2" width="5.0" height="2.0" fill="#0039ff" opacity="0.7"/>
<rect x="43.1" y="89.5" width="7.5" height="2.0" fill="#0084ff" opacity="0.7"/>
<rect x="77.8" y="107.3" width="7.5" height="2.0" fill="#0080ff" opacity="0.7"/>
<rect x="81.8" y="80.2" width="10.0" height="2.0" fill="#0000ef" opacity="0.7"/>
<rect x="77.6" y="29.6" width="5.0" height="2.0" fill="#003fff" opacity="0.7"/>
<rect x="48.6" y="50.1" width="5.0" height="2.0" fill="#0020ff" opacity="0.7"/>
<rect x="83.7" y="105.5" width="5.0" height="2.0" fill="#0066ff" opacity="0.7"/>
<rect x="42.8" y="75.5" width="7.5" height="2.0" fill="#006dff" opacity="0.7"/>
<rect x="69.3" y="120.8" width="5.0" height="2.0" fill="#006bff" opacity="0.7"/>
<rect x="67.4" y="109.6" width="10.0" height="2.0" fill="#0023ff" opacity="0.7"/>
<rect x="81.0" y="26.7" width="5.0" height="2.0" fill="#004bff" opacity="0.7"/>
<rect x="42.5" y="62.0" width="10.0" height="2.0" fill="#0002ff" opacity="0.7"/>
<rect x="73.4" y="113.9" width="10.0" height="2.0" fill="#0087ff" opacity="0.7"/>
<rect x="79.3" y="38.6" width="7.5" height="2.0" fill="#004bff" opacity="0.7"/>
<rect x="46.2" y="90.9" width="5.0" height="2.0" fill="#004cff" opacity="0.7"/>
<rect x="42.8" y="73.7" width="10.0" height="2.0" fill="#0001ff" opacity="0.7"/>
<rect x="57.5" y="19.6" width="5.0" height="2.0" fill="#0052ff" opacity="0.7"/>
<rect x="85.8" y="86.7" width="5.0" height="2.0" fill="#0017ff" opacity="0.7"/>
<rect x="70.4" y="110.5" width="10.0" height="2.0" fill="#004aff" opacity="0.7"/>
<rect x="91.4" y="94.5" width="5.0" height="2.0" fill="#0069ff" opacity="0.7"/>
<rect x="46.4" y="55.5" width="5.0" height="2.0" fill="#0082ff" opacity="0.7"/>
<rect x="87.4" y="106.2" width="5.0" height="2.0" fill="#0010ff" opacity="0.7"/>
<rect x="39.1" y="47.7" width="5.0" height="2.0" fill="#0000e3" opacity="0.7"/>
<rect x="90.4" y="75.0" width="5.0" height="2.0" fill="#0067ff" opacity="0.7"/>
<rect x="77.7" y="26.6" width="7.5" height="2.0" fill="#0000f7" opacity="0.7"/>
<rect x="70.9" y="100.6" width="7.5" height="2.0" fill="#0048ff" opacity="0.7"/>
<rect x="86.0" y="85.5" width="5.0" height="2.0" fill="#0000d3" opacity="0.7"/>
<rect x="86.2" y="95.6" width="10.0" height="2.0" fill="#0063ff" opacity="0.7"/>
<rect x="88.4" y="93.3" width="5.0" height="2.0" fill="#0004ff" opacity="0.7"/>
<rect x="80.0" y="34.9" width="7.5" height="2.0" fill="#0082ff" opacity="0.7"/>
<rect x="46.3" y="62.8" width="5.0" height="2.0" fill="#0000e9" opacity="0.7"/>
<rect x="78.4" y="94.3" width="10.0" height="2.0" fill="#003dff" opacity="0.7"/>
<rect x="62.2" y="21.2" width="5.0" height="2.0" fill="#005aff" opacity="0.7"/>
<rect x="33.6" y="69.2" width="10.0" height="2.0" fill="#0020ff" opacity="0.7"/>
<rect x="75.2" y="111.6" width="5.0" height="2.0" fill="#0061ff" opacity="0.7"/>
<rect x="84.0" y="79.5" width="5.0" height="2.0" fill="#004aff" opacity="0.7"/>
<rect x="82.5" y="84.7" width="5.0" height="2.0" fill="#0073ff" opacity="0.7"/>
<rect x="84.0" y="35.7" width="7.5" height="2.0" fill="#0000dd" opacity="0.7"/>
<rect x="93.1" y="93.4" width="5.0" height="2.0" fill="#0020ff" opacity="0.7"/>
<rect x="85.0" y="52.6" width="5.0" height="2.0" fill="#0036ff" opacity="0.7"/>
<rect x="74.1" y="112.9" width="7.5" height="2.0" fill="#0000e2" opacity="0.7"/>
<rect x="84.7" y="26.8" width="5.0" height="2.0" fill="#005cff" opacity="0.7"/>
<rect x="48.0" y="99.3" width="10.0" height="2.0" fill="#0079ff" opacity="0.7"/>
<rect x="72.7" y="36.8" width="7.5" height="2.0" fill="#0040ff" opacity="0.7"/>
<rect x="61.8" y="114.6" width="5.0" height="2.0" fill="#0030ff" opacity="0.7"/>
<rect x="84.6" y="101.0" width="7.5" height="2.0" fill="#002fff" opacity="0.7"/>
<rect x="90.7" y="64.2" width="5.0" height="2.0" fill="#0053ff" opacity="0.7"/>
<rect x="89.8" y="48.6" width="7.5" height="2.0" fill="#005fff" opacity="0.7"/>
<rect x="34.5" y="67.9" width="10.0" height="2.0" fill="#003bff" opacity="0.7"/>
<rect x="71.9" y="35.2" width="10.0" height="2.0" fill="#0059ff" opacity="0.7"/>
<rect x="83.1" y="39.8" width="5.0" height="2.0" fill="#005cff" opacity="0.7"/>
<rect x="45.0" y="63.9" width="5.0" height="2.0" fill="#004eff" opacity="0.7"/>
<rect x="86.7" y="61.6" width="10.0" height="2.0" fill="#0071ff" opacity="0.7"/>
<rect x="82.2" y="43.3" width="5.0" height="2.0" fill="#0008ff" opacity="0.7"/>
<rect x="89.1" y="76.4" width="10.0" height="2.0" fill="#0041ff" opacity="0.7"/>
<rect x="49.9" y="97.9" width="7.5" height="2.0" fill="#0066ff" opacity="0.7"/>
<rect x="69.9" y="110.7" width="10.0" height="2.0" fill="#0075ff" opacity="0.7"/>
<rect x="43.4" y="33.5" width="7.5" height="2.0" fill="#0069ff" opacity="0.7"/>
<rect x="66.0" y="28.7" width="5.0" height="2.0" fill="#0013ff" opacity="0.7"/>
<rect x="88.1" y="101.7" width="5.0" height="2.0" fill="#0000e6" opacity="0.7"/>
<rect x="35.8" y="89.0" width="10.0" height="2.0" fill="#0000dc" opacity="0.7"/>
<rect x="61.7" y="108.4" width="7.5" height="2.0" fill="#0000fa" opacity="0.7"/>
<rect x="48.5" y="54.7" width="5.0" height="2.0" fill="#0000d8" opacity="0.7"/>
<rect x="65.9" y="112.5" width="10.0" height="2.0" fill="#0000fd" opacity="0.7"/>
<rect x="56.1" y="100.7" width="5.0" height="2.0" fill="#0054ff" opacity="0.7"/>
<rect x="68.5" y="35.2" width="7.5" height="2.0" fill="#004dff" opacity="0.7"/>
<rect x="80.3" y="105.3" width="10.0" height="2.0" fill="#0001ff" opacity="0.7"/>
<rect x="48.3" y="33.7" width="5.0" height="2.0" fill="#004bff" opacity="0.7"/>
<rect x="59.6" y="108.8" width="5.0" height="2.0" fill="#0068ff" opacity="0.7"/>
<rect x="86.0" y="92.2" width="7.5" height="2.0" fill="#0018ff" opacity="0.7"/>
<rect x="92.8" y="80.6" width="5.0" height="2.0" fill="#0082ff" opacity="0.7"/>
<rect x="81.3" y="99.5" width="5.0" height="2.0" fill="#000eff" opacity="0.7"/>
<rect x="95.4" y="81.1" width="5.0" height="2.0" fill="#0034ff" opacity="0.7"/>
<rect x="49.6" y="30.1" width="7.5" height="2.0" fill="#0066ff" opacity="0.7"/>
<rect x="36.7" y="79.2" width="5.0" height="2.0" fill="#0000f1" opacity="0.7"/>
<rect x="81.5" y="52.2" width="7.5" height="2.0" fill="#0081ff" opacity="0.7"/>
<rect x="91.2" y="96.0" width="5.0" height="2.0" fill="#0000db" opacity="0.7"/>
<rect x="81.9" y="99.3" width="10.0" height="2.0" fill="#006bff" opacity="0.7"/>
<rect x="85.2" y="66.8" width="7.5" height="2.0" fill="#0000d2" opacity="0.7"/>
<rect x="52.2" y="104.9" width="5.0" height="2.0" fill="#0023ff" opacity="0.7"/>
<rect x="37.3" y="64.5" width="10.0" height="2.0" fill="#0079ff" opacity="0.7"/>
<rect x="78.2" y="96.1" width="5.0" height="2.0" fill="#0025ff" opacity="0.7"/>
<rect x="81.0" y="87.4" width="5.0" height="2.0" fill="#0007ff" opacity="0.7"/>
<rect x="65.6" y="109.0" width="5.0" height="2.0" fill="#006aff" opacity="0.7"/>
<rect x="84.1" y="76.2" width="10.0" height="2.0" fill="#002cff" opacity="0.7"/>
<rect x="44.6" y="109.9" width="10.0" height="2.0" fill="#0016ff" opacity="0.7"/>
<rect x="43.8" y="100.4" width="5.0" height="2.0" fill="#0000e9" opacity="0.7"/>
<rect x="67.0" y="16.3" width="5.0" height="2.0" fill="#007eff" opacity="0.7"/>
<rect x="93.5" y="78.5" width="10.0" height="2.0" fill="#004aff" opacity="0.7"/>
<rect x="41.6" y="96.5" width="7.5" height="2.0" fill="#004dff" opacity="0.7"/>
<rect x="93.2" y="49.5" width="5.0" height="2.0" fill="#0075ff" opacity="0.7"/>
<rect x="88.5" y="71.8" width="7.5" height="2.0" fill="#0071ff" opacity="0.7"/>
<rect x="81.3" y="39.8" width="5.0" height="2.0" fill="#0042ff" opacity="0.7"/>
<rect x="88.6" y="104.1" width="5.0" height="2.0" fill="#0003ff" opacity="0.7"/>
<rect x="93.0" y="42.8" width="5.0" height="2.0" fill="#0000e4" opacity="0.7"/>
<rect x="42.7" y="93.5" width="10.0" height="2.0" fill="#0000e8" opacity="0.7"/>
<rect x="87.9" y="67.6" width="5.0" height="2.0" fill="#005dff" opacity="0.7"/>
<rect x="70.5" y="19.9" width="7.5" height="2.0" fill="#0000e2" opacity="0.7"/>
<rect x="51.7" y="24.5" width="5.0" height="2.0" fill="#001cff" opacity="0.7"/>
<rect x="66.2" y="107.0" width="10.0" height="2.0" fill="#0082ff" opacity="0.7"/>
<rect x="96.2" y="76.7" width="5.0" height="2.0" fill="#0067ff" opacity="0.7"/>
<rect x="83.2" y="44.8" width="10.0" height="2.0" fill="#0061ff" opacity="0.7"/>
<rect x="68.6" y="65.3" width="6.0" height="2.0" fill="#002bff" opacity="0.6"/>
<rect x="70.1" y="61.7" width="6.0" height="2.0" fill="#0009ff" opacity="0.6"/>
<rect x="63.1" y="67.4" width="6.0" height="2.0" fill="#002aff" opacity="0.6"/>
<rect x="66.2" y="66.9" width="6.0" height="2.0" fill="#0000f2" opacity="0.6"/>
<rect x="66.8" y="57.4" width="6.0" height="2.0" fill="#0000ff" opacity="0.6"/>
<rect x="58.5" y="47.3" width="12.0" height="2.0" fill="#0000e1" opacity="0.6"/>
<rect x="54.6" y="60.4" width="9.0" height="2.0" fill="#0027ff" opacity="0.6"/>
<rect x="70.9" y="61.0" width="6.0" height="2.0" fill="#0023ff" opacity="0.6"/>
<rect x="62.6" y="75.8" width="9.0" height="2.0" fill="#0000ed" opacity="0.6"/>
<rect x="69.4" y="84.7" width="6.0" height="2.0" fill="#0000c0" opacity="0.6"/>
<rect x="68.7" y="68.2" width="9.0" height="2.0" fill="#0000c8" opacity="0.6"/>
<rect x="57.9" y="72.2" width="6.0" height="2.0" fill="#0000df" opacity="0.6"/>
<rect x="57.8" y="80.1" width="9.0" height="2.0" fill="#0022ff" opacity="0.6"/>
<rect x="68.8" y="80.5" width="12.0" height="2.0" fill="#0000e8" opacity="0.6"/>
<rect x="59.8" y="69.4" width="6.0" height="2.0" fill="#001aff" opacity="0.6"/>
<rect x="66.1" y="67.9" width="6.0" height="2.0" fill="#0006ff" opacity="0.6"/>
<rect x="61.4" y="39.5" width="9.0" height="2.0" fill="#0005ff" opacity="0.6"/>
<rect x="56.7" y="84.1" width="12.0" height="2.0" fill="#0000cc" opacity="0.6"/>
<rect x="66.7" y="72.7" width="12.0" height="2.0" fill="#0000ca" opacity="0.6"/>
<rect x="81.0" y="66.0" width="9.0" height="2.0" fill="#0026ff" opacity="0.6"/>
<rect x="68.1" y="57.1" width="9.0" height="2.0" fill="#0000c4" opacity="0.6"/>
<rect x="56.2" y="79.6" width="6.0" height="2.0" fill="#0000fc" opacity="0.6"/>
<rect x="69.7" y="89.1" width="12.0" height="2.0" fill="#0000c1" opacity="0.6"/>
<rect x="62.0" y="77.9" width="6.0" height="2.0" fill="#0000e4" opacity="0.6"/>
<rect x="75.9" y="71.4" width="9.0" height="2.0" fill="#0000c5" opacity="0.6"/>
<rect x="66.3" y="60.4" width="6.0" height="2.0" fill="#0013ff" opacity="0.6"/>
<rect x="69.4" y="46.6" width="6.0" height="2.0" fill="#0002ff" opacity="0.6"/>
<rect x="56.9" y="50.8" width="9.0" height="2.0" fill="#0021ff" opacity="0.6"/>
<rect x="64.0" y="55.5" width="9.0" height="2.0" fill="#0000df" opacity="0.6"/>
<rect x="72.0" y="90.0" width="9.0" height="2.0" fill="#000aff" opacity="0.6"/>
<rect x="60.1" y="68.0" width="6.0" height="2.0" fill="#0000f0" opacity="0.6"/>
<rect x="64.4" y="95.9" width="12.0" height="2.0" fill="#0000e6" opacity="0.6"/>
<rect x="74.0" y="83.8" width="6.0" height="2.0" fill="#0000e4" opacity="0.6"/>
<rect x="60.4" y="73.9" width="6.0" height="2.0" fill="#0019ff" opacity="0.6"/>
<rect x="58.0" y="58.5" width="6.0" height="2.0" fill="#0000fb" opacity="0.6"/>
<rect x="74.3" y="47.1" width="9.0" height="2.0" fill="#000bff" opacity="0.6"/>
<rect x="65.3" y="46.9" width="6.0" height="2.0" fill="#0013ff" opacity="0.6"/>
<rect x="63.8" y="83.3" width="9.0" height="2.0" fill="#0000bf" opacity="0.6"/>
<rect x="64.3" y="87.0" width="12.0" height="2.0" fill="#0000d3" opacity="0.6"/>
<rect x="57.8" y="92.8" width="9.0" height="2.0" fill="#0000e0" opacity="0.6"/>
<path d="M50.03 30.15 A28.2 50.4 0 0 1 87.77 30.15" fill="none" stroke="#00d1ff" stroke-width="2.4"/>
<path d="M87.03 106.21 A28.2 50.4 0 0 1 50.77 106.21" fill="none" stroke="#0094ff" stroke-width="2.4"/>
<circle cx="63.0" cy="41.5" r="5.8" fill="url(#g14)"/>
<circle cx="76.3" cy="58.7" r="5.8" fill="url(#g14)"/>
<circle cx="54.8" cy="103.3" r="5.8" fill="url(#g26)"/>
<circle cx="51.8" cy="33.3" r="4.5" fill="url(#g27)"/>
<circle cx="58.7" cy="66.5" r="4.6" fill="url(#g11)"/>
<rect x="62" y="75.5" width="7" height="7" fill="#0057ff" opacity="1"/>
<circle cx="80.2" cy="67.5" r="3.6" fill="url(#g11)"/>
<circle cx="85.1" cy="82.2" r="4.2" fill="url(#g28)"/>
<circle cx="64.6" cy="50.9" r="3.3" fill="url(#g29)"/>
<rect x="76" y="112" width="8" height="6" fill="#00b2ff" opacity="1"/>
<rect x="71.5" y="13.5" width="13" height="2" fill="#05fffa" opacity="1"/>
<ellipse cx="92.0" cy="26.4" rx="2.2" ry="5.5" fill="url(#g30)"/>
<circle cx="84.1" cy="99.8" r="3.8" fill="url(#g31)"/>
<circle cx="71.4" cy="111.5" r="3.8" fill="url(#g32)"/>
<circle cx="86.0" cy="40.0" r="3.3" fill="url(#g9)"/>
<rect x="59.900000000000006" y="111.0" width="26" height="7" fill="#00b2ff"/>
</g>
<g filter="url(#b07)">
<circle cx="64.0" cy="42.0" r="4.5" fill="url(#g33)"/>
<circle cx="77.5" cy="59.0" r="4.5" fill="url(#g34)"/>
<circle cx="56.0" cy="104.0" r="4.2" fill="url(#g35)"/>
<ellipse cx="49.8" cy="31.9" rx="5.5" ry="3" fill="url(#g36)"/>
<rect x="71.9" y="112.0" width="8" height="6" fill="#b3ff4c"/>
<rect x="58.900000000000006" y="114.0" width="6" height="4" fill="#4dffb2"/>
<rect x="61.900000000000006" y="17.999999999999996" width="5" height="1.6" fill="#e5ff1a" opacity="1"/>
<rect x="70.9" y="17.999999999999996" width="5" height="1.6" fill="#e5ff1a" opacity="1"/>
</g>
<rect x="0" y="118.6" width="135" height="20" fill="#00008f"/>
<rect x="62.900000000000006" y="116.6" width="11" height="2.4" fill="#fa0000" opacity="1"/>
<rect x="67.9" y="12.699999999999996" width="14" height="2" fill="#00dbff" opacity="0.7"/>
<text x="11.9" y="16.8" text-anchor="middle" font-family="Liberation Sans" font-size="15" fill="#fff">i</text></g>
<g transform="translate(413,286.5)" clip-path="url(#c23)"><rect x="0" y="0" width="134" height="133.8" fill="#00008f"/>
<ellipse cx="67.9" cy="67.6" rx="26.2" ry="50.4" fill="none" stroke="#0005ff" stroke-width="8" filter="url(#b15)"/>
<g filter="url(#b07)">
<rect x="61.5" y="115.3" width="3.6" height="1.8" fill="#0067ff" opacity="0.85"/>
<rect x="60.7" y="107.4" width="1.8" height="1.8" fill="#004bff" opacity="0.85"/>
<rect x="47.1" y="79.4" width="1.8" height="1.8" fill="#004cff" opacity="0.85"/>
<rect x="44.4" y="92.2" width="3.6" height="1.8" fill="#005bff" opacity="0.85"/>
<rect x="76.0" y="105.0" width="1.8" height="1.8" fill="#0033ff" opacity="0.85"/>
<rect x="72.7" y="15.4" width="2.7" height="1.8" fill="#0015ff" opacity="0.85"/>
<rect x="88.2" y="29.1" width="1.8" height="1.8" fill="#002dff" opacity="0.85"/>
<rect x="85.3" y="26.6" width="1.8" height="1.8" fill="#00a6ff" opacity="0.85"/>
<rect x="90.8" y="42.6" width="3.6" height="1.8" fill="#005dff" opacity="0.85"/>
<rect x="90.3" y="94.0" width="1.8" height="1.8" fill="#0013ff" opacity="0.85"/>
<rect x="80.9" y="98.9" width="3.6" height="1.8" fill="#0055ff" opacity="0.85"/>
<rect x="76.6" y="20.5" width="2.7" height="1.8" fill="#0042ff" opacity="0.85"/>
<rect x="73.1" y="112.6" width="3.6" height="1.8" fill="#0090ff" opacity="0.85"/>
<rect x="80.9" y="23.3" width="2.7" height="1.8" fill="#00aeff" opacity="0.85"/>
<rect x="47.2" y="91.7" width="1.8" height="1.8" fill="#005aff" opacity="0.85"/>
<rect x="67.8" y="110.0" width="2.7" height="1.8" fill="#00acff" opacity="0.85"/>
<rect x="81.8" y="28.9" width="1.8" height="1.8" fill="#0081ff" opacity="0.85"/>
<rect x="39.9" y="70.5" width="2.7" height="1.8" fill="#0016ff" opacity="0.85"/>
<rect x="42.5" y="55.7" width="1.8" height="1.8" fill="#0015ff" opacity="0.85"/>
<rect x="56.5" y="107.0" width="2.7" height="1.8" fill="#000dff" opacity="0.85"/>
<rect x="74.6" y="116.4" width="3.6" height="1.8" fill="#008cff" opacity="0.85"/>
<rect x="92.1" y="75.5" width="3.6" height="1.8" fill="#0098ff" opacity="0.85"/>
<rect x="45.2" y="38.8" width="1.8" height="1.8" fill="#0020ff" opacity="0.85"/>
<rect x="67.3" y="16.9" width="3.6" height="1.8" fill="#00aeff" opacity="0.85"/>
<rect x="82.7" y="102.3" width="1.8" height="1.8" fill="#0088ff" opacity="0.85"/>
<rect x="49.4" y="37.8" width="1.8" height="1.8" fill="#0047ff" opacity="0.85"/>
<rect x="58.6" y="113.4" width="3.6" height="1.8" fill="#001cff" opacity="0.85"/>
<rect x="44.9" y="74.8" width="2.7" height="1.8" fill="#005bff" opacity="0.85"/>
<rect x="40.9" y="58.3" width="1.8" height="1.8" fill="#0034ff" opacity="0.85"/>
<rect x="87.5" y="93.2" width="2.7" height="1.8" fill="#0062ff" opacity="0.85"/>
<rect x="40.6" y="60.6" width="3.6" height="1.8" fill="#003cff" opacity="0.85"/>
<rect x="59.3" y="20.4" width="1.8" height="1.8" fill="#008bff" opacity="0.85"/>
<rect x="74.2" y="114.9" width="2.7" height="1.8" fill="#001aff" opacity="0.85"/>
<rect x="71.8" y="111.4" width="2.7" height="1.8" fill="#005eff" opacity="0.85"/>
<rect x="86.1" y="95.8" width="3.6" height="1.8" fill="#0044ff" opacity="0.85"/>
<rect x="53.0" y="36.2" width="1.8" height="1.8" fill="#0006ff" opacity="0.85"/>
<rect x="75.8" y="114.5" width="3.6" height="1.8" fill="#0076ff" opacity="0.85"/>
<rect x="77.5" y="105.1" width="1.8" height="1.8" fill="#000aff" opacity="0.85"/>
<rect x="68.8" y="15.8" width="1.8" height="1.8" fill="#0061ff" opacity="0.85"/>
<rect x="91.9" y="54.2" width="2.7" height="1.8" fill="#0015ff" opacity="0.85"/>
<rect x="94.4" y="62.2" width="1.8" height="1.8" fill="#002bff" opacity="0.85"/>
<rect x="53.3" y="109.5" width="1.8" height="1.8" fill="#0031ff" opacity="0.85"/>
<rect x="73.2" y="118.7" width="3.6" height="1.8" fill="#000bff" opacity="0.85"/>
<rect x="70.2" y="121.2" width="1.8" height="1.8" fill="#0081ff" opacity="0.85"/>
<rect x="65.9" y="17.4" width="1.8" height="1.8" fill="#00a8ff" opacity="0.85"/>
<rect x="65.4" y="14.4" width="1.8" height="1.8" fill="#0019ff" opacity="0.85"/>
<rect x="72.5" y="117.6" width="1.8" height="1.8" fill="#003dff" opacity="0.85"/>
<rect x="91.8" y="89.5" width="1.8" height="1.8" fill="#0090ff" opacity="0.85"/>
<rect x="59.3" y="19.1" width="3.6" height="1.8" fill="#0041ff" opacity="0.85"/>
<rect x="40.9" y="51.3" width="3.6" height="1.8" fill="#003dff" opacity="0.85"/>
<rect x="90.7" y="42.5" width="1.8" height="1.8" fill="#00abff" opacity="0.85"/>
<rect x="61.4" y="107.2" width="3.6" height="1.8" fill="#004aff" opacity="0.85"/>
<rect x="46.6" y="76.5" width="1.8" height="1.8" fill="#0061ff" opacity="0.85"/>
<rect x="78.2" y="31.4" width="2.7" height="1.8" fill="#0023ff" opacity="0.85"/>
<rect x="89.2" y="72.8" width="2.7" height="1.8" fill="#0040ff" opacity="0.85"/>
<rect x="87.8" y="85.1" width="2.7" height="1.8" fill="#0075ff" opacity="0.85"/>
<rect x="44.9" y="36.8" width="2.7" height="1.8" fill="#0005ff" opacity="0.85"/>
<rect x="91.7" y="91.1" width="1.8" height="1.8" fill="#0098ff" opacity="0.85"/>
<rect x="64.9" y="11.1" width="3.6" height="1.8" fill="#0048ff" opacity="0.85"/>
<rect x="86.5" y="34.5" width="2.7" height="1.8" fill="#0031ff" opacity="0.85"/>
<rect x="55.9" y="17.3" width="1.8" height="1.8" fill="#0094ff" opacity="0.85"/>
<rect x="65.8" y="118.1" width="1.8" height="1.8" fill="#00acff" opacity="0.85"/>
<rect x="52.4" y="28.5" width="1.8" height="1.8" fill="#008aff" opacity="0.85"/>
<rect x="88.3" y="77.1" width="3.6" height="1.8" fill="#0087ff" opacity="0.85"/>
<rect x="65.0" y="120.0" width="2.7" height="1.8" fill="#006eff" opacity="0.85"/>
<rect x="49.6" y="37.9" width="1.8" height="1.8" fill="#0050ff" opacity="0.85"/>
<rect x="41.2" y="55.6" width="2.7" height="1.8" fill="#00aeff" opacity="0.85"/>
<rect x="76.7" y="118.0" width="1.8" height="1.8" fill="#0053ff" opacity="0.85"/>
<rect x="81.3" y="109.7" width="2.7" height="1.8" fill="#002bff" opacity="0.85"/>
<rect x="88.8" y="72.3" width="2.7" height="1.8" fill="#005fff" opacity="0.85"/>
<rect x="44.7" y="52.0" width="2.7" height="1.8" fill="#005aff" opacity="0.85"/>
<rect x="49.5" y="99.1" width="1.8" height="1.8" fill="#0091ff" opacity="0.85"/>
<rect x="40.1" y="63.4" width="2.7" height="1.8" fill="#006cff" opacity="0.85"/>
<rect x="47.1" y="93.2" width="3.6" height="1.8" fill="#0081ff" opacity="0.85"/>
<rect x="87.1" y="31.9" width="2.7" height="1.8" fill="#006fff" opacity="0.85"/>
<rect x="47.2" y="90.5" width="2.7" height="1.8" fill="#0029ff" opacity="0.85"/>
<rect x="78.3" y="110.4" width="2.7" height="1.8" fill="#0094ff" opacity="0.85"/>
<rect x="41.6" y="38.0" width="3.6" height="1.8" fill="#0055ff" opacity="0.85"/>
<rect x="87.0" y="84.1" width="1.8" height="1.8" fill="#0058ff" opacity="0.85"/>
<rect x="73.2" y="20.7" width="1.8" height="1.8" fill="#00a8ff" opacity="0.85"/>
<rect x="41.4" y="84.9" width="2.7" height="1.8" fill="#0017ff" opacity="0.85"/>
<rect x="37.7" y="65.4" width="3.6" height="1.8" fill="#0070ff" opacity="0.85"/>
<rect x="41.1" y="70.2" width="2.7" height="1.8" fill="#0037ff" opacity="0.85"/>
<rect x="44.6" y="34.5" width="3.6" height="1.8" fill="#001bff" opacity="0.85"/>
<rect x="65.7" y="14.1" width="1.8" height="1.8" fill="#0074ff" opacity="0.85"/>
<rect x="52.2" y="112.2" width="1.8" height="1.8" fill="#0099ff" opacity="0.85"/>
<rect x="45.7" y="95.6" width="1.8" height="1.8" fill="#0018ff" opacity="0.85"/>
<rect x="82.5" y="31.2" width="2.7" height="1.8" fill="#008aff" opacity="0.85"/>
<rect x="48.9" y="29.7" width="2.7" height="1.8" fill="#0079ff" opacity="0.85"/>
<rect x="83.9" y="39.6" width="3.6" height="1.8" fill="#007dff" opacity="0.85"/>
<rect x="72.4" y="25.3" width="1.8" height="1.8" fill="#003eff" opacity="0.85"/>
<rect x="78.1" y="32.2" width="3.6" height="1.8" fill="#009eff" opacity="0.85"/>
<rect x="41.0" y="70.3" width="1.8" height="1.8" fill="#0066ff" opacity="0.85"/>
<rect x="77.5" y="19.3" width="1.8" height="1.8" fill="#0081ff" opacity="0.85"/>
<rect x="72.3" y="17.5" width="1.8" height="1.8" fill="#007eff" opacity="0.85"/>
<rect x="80.3" y="29.5" width="1.8" height="1.8" fill="#0040ff" opacity="0.85"/>
<rect x="45.3" y="96.5" width="3.6" height="1.8" fill="#0072ff" opacity="0.85"/>
<rect x="75.0" y="17.0" width="3.6" height="1.8" fill="#0059ff" opacity="0.85"/>
<rect x="93.3" y="82.4" width="3.6" height="1.8" fill="#00a0ff" opacity="0.85"/>
<rect x="79.0" y="15.3" width="1.8" height="1.8" fill="#006bff" opacity="0.85"/>
<rect x="75.2" y="15.1" width="1.8" height="1.8" fill="#007fff" opacity="0.85"/>
<rect x="59.2" y="27.6" width="1.8" height="1.8" fill="#009eff" opacity="0.85"/>
<rect x="78.9" y="105.3" width="3.6" height="1.8" fill="#0080ff" opacity="0.85"/>
<rect x="40.2" y="81.7" width="1.8" height="1.8" fill="#002bff" opacity="0.85"/>
<rect x="89.6" y="95.1" width="1.8" height="1.8" fill="#0089ff" opacity="0.85"/>
<rect x="40.3" y="50.6" width="1.8" height="1.8" fill="#0082ff" opacity="0.85"/>
<rect x="61.2" y="119.8" width="3.6" height="1.8" fill="#001aff" opacity="0.85"/>
<rect x="78.0" y="14.6" width="1.8" height="1.8" fill="#0075ff" opacity="0.85"/>
<rect x="88.9" y="65.1" width="1.8" height="1.8" fill="#0027ff" opacity="0.85"/>
<rect x="87.8" y="101.0" width="3.6" height="1.8" fill="#0063ff" opacity="0.85"/>
<rect x="76.0" y="106.3" width="3.6" height="1.8" fill="#0051ff" opacity="0.85"/>
<rect x="87.3" y="57.7" width="1.8" height="1.8" fill="#008aff" opacity="0.85"/>
<rect x="49.0" y="107.2" width="1.8" height="1.8" fill="#0012ff" opacity="0.85"/>
<rect x="77.3" y="111.0" width="2.7" height="1.8" fill="#004bff" opacity="0.85"/>
<rect x="82.5" y="30.0" width="1.8" height="1.8" fill="#003fff" opacity="0.85"/>
<rect x="49.8" y="104.3" width="2.7" height="1.8" fill="#007aff" opacity="0.85"/>
<rect x="61.6" y="117.8" width="1.8" height="1.8" fill="#002aff" opacity="0.85"/>
<rect x="87.8" y="92.6" width="3.6" height="1.8" fill="#002cff" opacity="0.85"/>
<rect x="76.1" y="30.1" width="3.6" height="1.8" fill="#0050ff" opacity="0.85"/>
<rect x="60.6" y="116.0" width="2.7" height="1.8" fill="#006aff" opacity="0.85"/>
<rect x="54.5" y="32.2" width="2.7" height="1.8" fill="#005fff" opacity="0.85"/>
<rect x="89.1" y="32.0" width="1.8" height="1.8" fill="#008aff" opacity="0.85"/>
<rect x="90.4" y="70.3" width="1.8" height="1.8" fill="#003cff" opacity="0.85"/>
<rect x="51.2" y="20.5" width="3.6" height="1.8" fill="#0085ff" opacity="0.85"/>
<rect x="72.4" y="110.6" width="1.8" height="1.8" fill="#0045ff" opacity="0.85"/>
<rect x="93.4" y="78.2" width="1.8" height="1.8" fill="#0093ff" opacity="0.85"/>
<rect x="58.4" y="21.5" width="1.8" height="1.8" fill="#0017ff" opacity="0.85"/>
<rect x="88.4" y="85.8" width="2.7" height="1.8" fill="#0063ff" opacity="0.85"/>
<rect x="44.4" y="53.7" width="1.8" height="1.8" fill="#0081ff" opacity="0.85"/>
<rect x="46.7" y="79.6" width="1.8" height="1.8" fill="#0019ff" opacity="0.85"/>
<rect x="82.2" y="24.6" width="1.8" height="1.8" fill="#0010ff" opacity="0.85"/>
<rect x="68.5" y="113.7" width="3.6" height="1.8" fill="#0059ff" opacity="0.85"/>
<rect x="78.3" y="20.7" width="2.7" height="1.8" fill="#009dff" opacity="0.85"/>
<rect x="46.9" y="105.1" width="1.8" height="1.8" fill="#000bff" opacity="0.85"/>
<rect x="58.0" y="23.0" width="2.7" height="1.8" fill="#004bff" opacity="0.85"/>
<rect x="93.0" y="75.4" width="3.6" height="1.8" fill="#0018ff" opacity="0.85"/>
<rect x="49.0" y="110.8" width="1.8" height="1.8" fill="#005cff" opacity="0.85"/>
<rect x="86.8" y="41.5" width="1.8" height="1.8" fill="#0074ff" opacity="0.85"/>
<rect x="91.9" y="80.6" width="3.6" height="1.8" fill="#0030ff" opacity="0.85"/>
<rect x="83.0" y="23.4" width="2.7" height="1.8" fill="#00b2ff" opacity="0.85"/>
<rect x="41.1" y="81.5" width="1.8" height="1.8" fill="#0041ff" opacity="0.85"/>
<rect x="86.1" y="40.5" width="3.6" height="1.8" fill="#0037ff" opacity="0.85"/>
<rect x="86.3" y="34.4" width="2.7" height="1.8" fill="#003dff" opacity="0.85"/>
<rect x="69.6" y="118.0" width="2.7" height="1.8" fill="#0057ff" opacity="0.85"/>
<rect x="85.0" y="45.6" width="2.7" height="1.8" fill="#0054ff" opacity="0.85"/>
<rect x="45.1" y="45.2" width="2.7" height="1.8" fill="#0006ff" opacity="0.85"/>
<rect x="90.6" y="88.0" width="1.8" height="1.8" fill="#0074ff" opacity="0.85"/>
<rect x="55.8" y="108.9" width="1.8" height="1.8" fill="#0008ff" opacity="0.85"/>
<rect x="76.6" y="110.6" width="1.8" height="1.8" fill="#003eff" opacity="0.85"/>
<rect x="93.1" y="81.4" width="1.8" height="1.8" fill="#0092ff" opacity="0.85"/>
<rect x="79.8" y="109.0" width="1.8" height="1.8" fill="#0090ff" opacity="0.85"/>
<rect x="89.3" y="51.5" width="1.8" height="1.8" fill="#0075ff" opacity="0.85"/>
<rect x="71.5" y="109.3" width="2.7" height="1.8" fill="#0053ff" opacity="0.85"/>
<rect x="44.5" y="86.9" width="1.8" height="1.8" fill="#0038ff" opacity="0.85"/>
<rect x="52.1" y="34.3" width="1.8" height="1.8" fill="#0053ff" opacity="0.85"/>
<rect x="64.7" y="115.7" width="1.8" height="1.8" fill="#003cff" opacity="0.85"/>
<rect x="59.7" y="13.2" width="1.8" height="1.8" fill="#0008ff" opacity="0.85"/>
<rect x="50.0" y="92.2" width="2.7" height="1.8" fill="#004eff" opacity="0.85"/>
<rect x="54.0" y="99.0" width="1.8" height="1.8" fill="#00b2ff" opacity="0.85"/>
<rect x="47.9" y="94.1" width="2.7" height="1.8" fill="#008fff" opacity="0.85"/>
<rect x="71.7" y="111.0" width="1.8" height="1.8" fill="#0093ff" opacity="0.85"/>
<rect x="85.3" y="47.6" width="3.6" height="1.8" fill="#0042ff" opacity="0.85"/>
<rect x="40.6" y="87.3" width="2.7" height="1.8" fill="#001fff" opacity="0.85"/>
<rect x="45.9" y="55.3" width="1.8" height="1.8" fill="#004fff" opacity="0.85"/>
<rect x="41.7" y="59.8" width="2.7" height="1.8" fill="#0033ff" opacity="0.85"/>
<rect x="65.1" y="111.7" width="1.8" height="1.8" fill="#0046ff" opacity="0.85"/>
<rect x="54.8" y="113.5" width="2.7" height="1.8" fill="#003eff" opacity="0.85"/>
<rect x="75.9" y="27.0" width="1.8" height="1.8" fill="#0059ff" opacity="0.85"/>
<rect x="49.4" y="99.5" width="3.6" height="1.8" fill="#0078ff" opacity="0.85"/>
<rect x="45.7" y="61.4" width="1.8" height="1.8" fill="#0031ff" opacity="0.85"/>
<rect x="83.0" y="35.0" width="1.8" height="1.8" fill="#009eff" opacity="0.85"/>
<rect x="75.0" y="22.4" width="2.7" height="1.8" fill="#000cff" opacity="0.85"/>
<rect x="58.3" y="120.5" width="2.7" height="1.8" fill="#0067ff" opacity="0.85"/>
<rect x="74.0" y="26.1" width="1.8" height="1.8" fill="#009aff" opacity="0.85"/>
<rect x="57.8" y="24.7" width="1.8" height="1.8" fill="#0053ff" opacity="0.85"/>
<rect x="86.1" y="30.3" width="2.7" height="1.8" fill="#002dff" opacity="0.85"/>
<rect x="73.6" y="14.6" width="1.8" height="1.8" fill="#0016ff" opacity="0.85"/>
<rect x="73.8" y="21.1" width="1.8" height="1.8" fill="#0067ff" opacity="0.85"/>
<rect x="50.3" y="106.8" width="1.8" height="1.8" fill="#002aff" opacity="0.85"/>
<rect x="89.5" y="80.9" width="1.8" height="1.8" fill="#004bff" opacity="0.85"/>
<rect x="55.9" y="108.0" width="2.7" height="1.8" fill="#0073ff" opacity="0.85"/>
<rect x="45.5" y="94.0" width="3.6" height="1.8" fill="#00aaff" opacity="0.85"/>
<rect x="46.0" y="85.9" width="3.6" height="1.8" fill="#002eff" opacity="0.85"/>
<rect x="49.4" y="33.1" width="2.7" height="1.8" fill="#007aff" opacity="0.85"/>
<rect x="43.5" y="82.0" width="1.8" height="1.8" fill="#0030ff" opacity="0.85"/>
<rect x="83.9" y="30.3" width="1.8" height="1.8" fill="#0090ff" opacity="0.85"/>
<rect x="85.5" y="42.1" width="1.8" height="1.8" fill="#0072ff" opacity="0.85"/>
<rect x="49.5" y="106.3" width="1.8" height="1.8" fill="#001cff" opacity="0.85"/>
<rect x="44.6" y="65.8" width="1.8" height="1.8" fill="#0029ff" opacity="0.85"/>
<rect x="80.7" y="34.1" width="3.6" height="1.8" fill="#0077ff" opacity="0.85"/>
<rect x="88.0" y="89.5" width="1.8" height="1.8" fill="#00aeff" opacity="0.85"/>
<rect x="90.1" y="51.6" width="3.6" height="1.8" fill="#0021ff" opacity="0.85"/>
<rect x="68.8" y="24.4" width="1.8" height="1.8" fill="#0018ff" opacity="0.85"/>
<rect x="48.3" y="36.8" width="1.8" height="1.8" fill="#001dff" opacity="0.85"/>
<rect x="79.5" y="28.1" width="1.8" height="1.8" fill="#0046ff" opacity="0.85"/>
<rect x="81.7" y="18.1" width="1.8" height="1.8" fill="#00a5ff" opacity="0.85"/>
<rect x="75.6" y="112.5" width="3.6" height="1.8" fill="#0033ff" opacity="0.85"/>
<rect x="94.4" y="69.7" width="1.8" height="1.8" fill="#0025ff" opacity="0.85"/>
<rect x="46.3" y="90.6" width="1.8" height="1.8" fill="#0042ff" opacity="0.85"/>
<rect x="73.2" y="107.1" width="1.8" height="1.8" fill="#006eff" opacity="0.85"/>
<rect x="87.1" y="43.4" width="3.6" height="1.8" fill="#0015ff" opacity="0.85"/>
<rect x="72.9" y="122.8" width="1.8" height="1.8" fill="#006dff" opacity="0.85"/>
<rect x="75.9" y="119.8" width="3.6" height="1.8" fill="#00a0ff" opacity="0.85"/>
<rect x="92.9" y="79.8" width="1.8" height="1.8" fill="#0061ff" opacity="0.85"/>
<rect x="66.6" y="119.6" width="2.7" height="1.8" fill="#007cff" opacity="0.85"/>
<rect x="44.1" y="49.4" width="3.6" height="1.8" fill="#0020ff" opacity="0.85"/>
<rect x="85.2" y="107.6" width="1.8" height="1.8" fill="#0062ff" opacity="0.85"/>
<rect x="56.9" y="105.1" width="1.8" height="1.8" fill="#0083ff" opacity="0.85"/>
<rect x="61.2" y="12.5" width="3.6" height="1.8" fill="#0013ff" opacity="0.85"/>
<rect x="59.3" y="115.3" width="1.8" height="1.8" fill="#007dff" opacity="0.85"/>
<rect x="45.3" y="30.9" width="1.8" height="1.8" fill="#006bff" opacity="0.85"/>
<rect x="46.3" y="39.8" width="1.8" height="1.8" fill="#006aff" opacity="0.85"/>
<rect x="52.3" y="35.3" width="1.8" height="1.8" fill="#00a5ff" opacity="0.85"/>
<rect x="69.0" y="23.1" width="2.7" height="1.8" fill="#0083ff" opacity="0.85"/>
<rect x="46.1" y="45.9" width="1.8" height="1.8" fill="#0057ff" opacity="0.85"/>
<rect x="49.5" y="94.5" width="2.7" height="1.8" fill="#0071ff" opacity="0.85"/>
<rect x="56.0" y="120.2" width="3.6" height="1.8" fill="#006aff" opacity="0.85"/>
<rect x="80.6" y="22.1" width="3.6" height="1.8" fill="#006aff" opacity="0.85"/>
<rect x="40.2" y="85.2" width="2.7" height="1.8" fill="#0008ff" opacity="0.85"/>
<rect x="88.8" y="101.6" width="1.8" height="1.8" fill="#003eff" opacity="0.85"/>
<rect x="52.9" y="31.2" width="1.8" height="1.8" fill="#0007ff" opacity="0.85"/>
<rect x="82.4" y="93.8" width="3.6" height="1.8" fill="#005cff" opacity="0.85"/>
<rect x="61.8" y="110.1" width="1.8" height="1.8" fill="#0054ff" opacity="0.85"/>
<rect x="93.1" y="49.8" width="1.8" height="1.8" fill="#009aff" opacity="0.85"/>
<rect x="48.7" y="103.7" width="1.8" height="1.8" fill="#003aff" opacity="0.85"/>
<rect x="87.4" y="91.6" width="1.8" height="1.8" fill="#0093ff" opacity="0.85"/>
<rect x="83.3" y="105.6" width="3.6" height="1.8" fill="#008dff" opacity="0.85"/>
<rect x="76.5" y="17.1" width="1.8" height="1.8" fill="#0079ff" opacity="0.85"/>
<rect x="82.1" y="109.8" width="1.8" height="1.8" fill="#0048ff" opacity="0.85"/>
<rect x="78.7" y="16.4" width="2.7" height="1.8" fill="#0096ff" opacity="0.85"/>
<rect x="61.5" y="113.0" width="2.7" height="1.8" fill="#0090ff" opacity="0.85"/>
<rect x="53.2" y="103.8" width="2.7" height="1.8" fill="#009cff" opacity="0.85"/>
<rect x="86.7" y="50.4" width="3.6" height="1.8" fill="#0050ff" opacity="0.85"/>
<rect x="69.1" y="24.7" width="1.8" height="1.8" fill="#001eff" opacity="0.85"/>
<rect x="42.4" y="67.5" width="1.8" height="1.8" fill="#00a1ff" opacity="0.85"/>
<rect x="85.6" y="49.9" width="2.7" height="1.8" fill="#0093ff" opacity="0.85"/>
<rect x="58.3" y="114.4" width="2.7" height="1.8" fill="#009cff" opacity="0.85"/>
<rect x="64.6" y="122.5" width="1.8" height="1.8" fill="#001bff" opacity="0.85"/>
<rect x="45.1" y="93.6" width="1.8" height="1.8" fill="#00a1ff" opacity="0.85"/>
<rect x="89.0" y="69.7" width="2.7" height="1.8" fill="#0022ff" opacity="0.85"/>
<rect x="44.5" y="94.2" width="1.8" height="1.8" fill="#0095ff" opacity="0.85"/>
<rect x="39.3" y="59.9" width="1.8" height="1.8" fill="#0099ff" opacity="0.85"/>
<rect x="44.1" y="36.1" width="3.6" height="1.8" fill="#00a6ff" opacity="0.85"/>
<rect x="45.0" y="51.0" width="1.8" height="1.8" fill="#001eff" opacity="0.85"/>
<rect x="53.8" y="24.0" width="2.7" height="1.8" fill="#0081ff" opacity="0.85"/>
<rect x="76.1" y="114.2" width="1.8" height="1.8" fill="#0064ff" opacity="0.85"/>
<rect x="53.4" y="16.6" width="2.7" height="1.8" fill="#0045ff" opacity="0.85"/>
<rect x="46.1" y="51.1" width="3.6" height="1.8" fill="#00a7ff" opacity="0.85"/>
<rect x="62.0" y="14.2" width="3.6" height="1.8" fill="#0025ff" opacity="0.85"/>
<rect x="52.8" y="19.9" width="1.8" height="1.8" fill="#0056ff" opacity="0.85"/>
<rect x="71.7" y="116.7" width="3.6" height="1.8" fill="#0033ff" opacity="0.85"/>
<rect x="91.5" y="57.3" width="1.8" height="1.8" fill="#001eff" opacity="0.85"/>
<rect x="41.7" y="77.7" width="3.6" height="1.8" fill="#00b2ff" opacity="0.85"/>
<rect x="91.1" y="45.5" width="1.8" height="1.8" fill="#0035ff" opacity="0.85"/>
<rect x="89.8" y="35.9" width="1.8" height="1.8" fill="#000dff" opacity="0.85"/>
<rect x="52.2" y="101.1" width="1.8" height="1.8" fill="#00adff" opacity="0.85"/>
<rect x="93.7" y="67.6" width="1.8" height="1.8" fill="#006aff" opacity="0.85"/>
<rect x="91.9" y="47.0" width="1.8" height="1.8" fill="#00aeff" opacity="0.85"/>
<rect x="47.4" y="106.9" width="1.8" height="1.8" fill="#009fff" opacity="0.85"/>
<rect x="42.5" y="46.6" width="2.7" height="1.8" fill="#0063ff" opacity="0.85"/>
<rect x="43.8" y="78.7" width="1.8" height="1.8" fill="#002eff" opacity="0.85"/>
<rect x="65.3" y="118.7" width="1.8" height="1.8" fill="#0051ff" opacity="0.85"/>
<rect x="59.8" y="114.7" width="3.6" height="1.8" fill="#0026ff" opacity="0.85"/>
<rect x="42.2" y="41.3" width="3.6" height="1.8" fill="#003cff" opacity="0.85"/>
<rect x="92.4" y="69.1" width="2.7" height="1.8" fill="#0036ff" opacity="0.85"/>
<rect x="67.0" y="21.0" width="1.8" height="1.8" fill="#002cff" opacity="0.85"/>
<rect x="75.6" y="108.7" width="2.7" height="1.8" fill="#0034ff" opacity="0.85"/>
<rect x="43.7" y="62.9" width="2.7" height="1.8" fill="#002eff" opacity="0.85"/>
<rect x="42.3" y="94.8" width="3.6" height="1.8" fill="#0026ff" opacity="0.85"/>
<rect x="90.4" y="96.5" width="1.8" height="1.8" fill="#004bff" opacity="0.85"/>
<rect x="94.0" y="57.1" width="3.6" height="1.8" fill="#008fff" opacity="0.85"/>
<rect x="62.1" y="122.2" width="1.8" height="1.8" fill="#0073ff" opacity="0.85"/>
<rect x="47.4" y="96.6" width="1.8" height="1.8" fill="#0062ff" opacity="0.85"/>
<rect x="94.1" y="64.6" width="2.7" height="1.8" fill="#0084ff" opacity="0.85"/>
<rect x="39.5" y="81.3" width="2.7" height="1.8" fill="#003aff" opacity="0.85"/>
<rect x="46.0" y="50.2" width="2.7" height="1.8" fill="#0062ff" opacity="0.85"/>
<rect x="95.0" y="65.5" width="1.8" height="1.8" fill="#001aff" opacity="0.85"/>
<rect x="45.2" y="72.1" width="1.8" height="1.8" fill="#00afff" opacity="0.85"/>
<rect x="42.9" y="59.4" width="3.6" height="1.8" fill="#001dff" opacity="0.85"/>
<rect x="67.0" y="121.4" width="3.6" height="1.8" fill="#006eff" opacity="0.85"/>
<rect x="54.5" y="30.7" width="3.6" height="1.8" fill="#0026ff" opacity="0.85"/>
<rect x="44.6" y="45.2" width="3.6" height="1.8" fill="#002cff" opacity="0.85"/>
<rect x="47.4" y="34.2" width="3.6" height="1.8" fill="#001bff" opacity="0.85"/>
<rect x="45.0" y="61.8" width="1.8" height="1.8" fill="#003bff" opacity="0.85"/>
<rect x="74.0" y="109.5" width="2.7" height="1.8" fill="#009cff" opacity="0.85"/>
<rect x="39.8" y="51.1" width="1.8" height="1.8" fill="#0088ff" opacity="0.85"/>
<rect x="94.1" y="71.6" width="3.6" height="1.8" fill="#002eff" opacity="0.85"/>
<rect x="41.9" y="46.9" width="1.8" height="1.8" fill="#0007ff" opacity="0.85"/>
<rect x="42.4" y="63.2" width="2.7" height="1.8" fill="#003cff" opacity="0.85"/>
<rect x="65.1" y="113.6" width="1.8" height="1.8" fill="#007dff" opacity="0.85"/>
<rect x="86.5" y="45.9" width="1.8" height="1.8" fill="#00a8ff" opacity="0.85"/>
<rect x="83.7" y="92.0" width="1.8" height="1.8" fill="#0074ff" opacity="0.85"/>
<rect x="91.9" y="86.6" width="1.8" height="1.8" fill="#007dff" opacity="0.85"/>
<rect x="88.7" y="47.8" width="1.8" height="1.8" fill="#000aff" opacity="0.85"/>
<rect x="45.4" y="59.7" width="1.8" height="1.8" fill="#002cff" opacity="0.85"/>
<rect x="39.6" y="80.4" width="3.6" height="1.8" fill="#00aeff" opacity="0.85"/>
<rect x="84.1" y="40.0" width="1.8" height="1.8" fill="#0079ff" opacity="0.85"/>
<rect x="43.2" y="87.6" width="3.6" height="1.8" fill="#007cff" opacity="0.85"/>
<rect x="62.4" y="113.8" width="2.7" height="1.8" fill="#006fff" opacity="0.85"/>
<rect x="93.2" y="58.6" width="2.7" height="1.8" fill="#0051ff" opacity="0.85"/>
<rect x="65.2" y="24.2" width="1.8" height="1.8" fill="#0048ff" opacity="0.85"/>
<rect x="80.9" y="21.5" width="2.7" height="1.8" fill="#0040ff" opacity="0.85"/>
<rect x="40.1" y="42.5" width="3.6" height="1.8" fill="#006aff" opacity="0.85"/>
<rect x="41.8" y="69.3" width="2.7" height="1.8" fill="#00a6ff" opacity="0.85"/>
<rect x="66.0" y="18.7" width="3.6" height="1.8" fill="#0098ff" opacity="0.85"/>
<rect x="57.1" y="120.4" width="1.8" height="1.8" fill="#0035ff" opacity="0.85"/>
<rect x="87.8" y="35.0" width="2.7" height="1.8" fill="#001aff" opacity="0.85"/>
<rect x="77.0" y="26.3" width="2.7" height="1.8" fill="#0016ff" opacity="0.85"/>
<rect x="82.7" y="101.2" width="3.6" height="1.8" fill="#0015ff" opacity="0.85"/>
<rect x="84.3" y="41.4" width="1.8" height="1.8" fill="#005dff" opacity="0.85"/>
<rect x="85.3" y="42.9" width="1.8" height="1.8" fill="#0099ff" opacity="0.85"/>
<rect x="82.4" y="34.7" width="3.6" height="1.8" fill="#001cff" opacity="0.85"/>
<rect x="48.8" y="108.8" width="2.7" height="1.8" fill="#008aff" opacity="0.85"/>
<rect x="53.3" y="114.3" width="1.8" height="1.8" fill="#000eff" opacity="0.85"/>
<rect x="82.7" y="107.6" width="1.8" height="1.8" fill="#00a8ff" opacity="0.85"/>
<rect x="72.9" y="23.7" width="1.8" height="1.8" fill="#0018ff" opacity="0.85"/>
<rect x="92.9" y="49.2" width="3.6" height="1.8" fill="#008eff" opacity="0.85"/>
<rect x="93.1" y="71.0" width="1.8" height="1.8" fill="#0065ff" opacity="0.85"/>
<rect x="68.3" y="24.6" width="1.8" height="1.8" fill="#000fff" opacity="0.85"/>
<rect x="44.3" y="51.7" width="1.8" height="1.8" fill="#00a4ff" opacity="0.85"/>
<rect x="49.7" y="67.5" width="3.6" height="1.8" fill="#0000ef" opacity="0.7"/>
<rect x="84.9" y="74.5" width="1.8" height="1.8" fill="#0000fb" opacity="0.7"/>
<rect x="61.3" y="96.0" width="1.8" height="1.8" fill="#0000eb" opacity="0.7"/>
<rect x="60.5" y="83.9" width="1.8" height="1.8" fill="#0000fa" opacity="0.7"/>
<rect x="75.0" y="33.3" width="1.8" height="1.8" fill="#0000ea" opacity="0.7"/>
<rect x="81.4" y="70.3" width="1.8" height="1.8" fill="#000aff" opacity="0.7"/>
<rect x="50.6" y="56.3" width="2.7" height="1.8" fill="#0017ff" opacity="0.7"/>
<rect x="63.7" y="68.6" width="3.6" height="1.8" fill="#0033ff" opacity="0.7"/>
<rect x="59.6" y="51.3" width="1.8" height="1.8" fill="#0045ff" opacity="0.7"/>
<rect x="74.6" y="68.1" width="3.6" height="1.8" fill="#0000f9" opacity="0.7"/>
<rect x="56.9" y="49.4" width="3.6" height="1.8" fill="#0017ff" opacity="0.7"/>
<rect x="69.5" y="73.2" width="1.8" height="1.8" fill="#004aff" opacity="0.7"/>
<rect x="65.8" y="72.3" width="1.8" height="1.8" fill="#0025ff" opacity="0.7"/>
<rect x="73.0" y="94.8" width="2.7" height="1.8" fill="#0016ff" opacity="0.7"/>
<rect x="62.7" y="52.8" width="2.7" height="1.8" fill="#0000f6" opacity="0.7"/>
<rect x="63.4" y="59.6" width="2.7" height="1.8" fill="#0022ff" opacity="0.7"/>
<rect x="52.8" y="47.5" width="3.6" height="1.8" fill="#001aff" opacity="0.7"/>
<rect x="57.5" y="45.9" width="1.8" height="1.8" fill="#0000f0" opacity="0.7"/>
<rect x="68.5" y="63.6" width="1.8" height="1.8" fill="#002fff" opacity="0.7"/>
<rect x="70.9" y="70.4" width="3.6" height="1.8" fill="#002eff" opacity="0.7"/>
<rect x="67.0" y="66.0" width="3.6" height="1.8" fill="#0025ff" opacity="0.7"/>
<rect x="62.1" y="74.4" width="3.6" height="1.8" fill="#0039ff" opacity="0.7"/>
<rect x="75.1" y="94.4" width="1.8" height="1.8" fill="#0000ef" opacity="0.7"/>
<rect x="65.6" y="63.7" width="1.8" height="1.8" fill="#001bff" opacity="0.7"/>
<rect x="67.7" y="65.5" width="1.8" height="1.8" fill="#0013ff" opacity="0.7"/>
<rect x="62.3" y="62.0" width="3.6" height="1.8" fill="#0024ff" opacity="0.7"/>
<rect x="56.4" y="39.5" width="2.7" height="1.8" fill="#0035ff" opacity="0.7"/>
<rect x="81.5" y="49.2" width="1.8" height="1.8" fill="#0004ff" opacity="0.7"/>
<rect x="61.4" y="66.4" width="3.6" height="1.8" fill="#0013ff" opacity="0.7"/>
<rect x="48.5" y="58.0" width="1.8" height="1.8" fill="#0009ff" opacity="0.7"/>
<rect x="82.7" y="62.6" width="2.7" height="1.8" fill="#0014ff" opacity="0.7"/>
<rect x="66.8" y="66.2" width="2.7" height="1.8" fill="#0000f6" opacity="0.7"/>
<rect x="80.1" y="65.0" width="2.7" height="1.8" fill="#0013ff" opacity="0.7"/>
<rect x="64.6" y="67.8" width="1.8" height="1.8" fill="#0024ff" opacity="0.7"/>
<rect x="66.0" y="74.9" width="1.8" height="1.8" fill="#0045ff" opacity="0.7"/>
<rect x="71.2" y="81.0" width="3.6" height="1.8" fill="#0000fe" opacity="0.7"/>
<rect x="84.6" y="79.5" width="1.8" height="1.8" fill="#0041ff" opacity="0.7"/>
<rect x="73.1" y="65.9" width="1.8" height="1.8" fill="#0007ff" opacity="0.7"/>
<rect x="53.1" y="61.0" width="1.8" height="1.8" fill="#0000f4" opacity="0.7"/>
<rect x="67.2" y="69.0" width="2.7" height="1.8" fill="#0000f9" opacity="0.7"/>
</g>
<g filter="url(#b05)">
<path d="M52.39 27.88 A25.2 50.4 0 0 1 83.41 27.88" fill="none" stroke="#00d1ff" stroke-width="2"/>
<path d="M80.50 111.25 A25.2 50.4 0 0 1 55.30 111.25" fill="none" stroke="#00c7ff" stroke-width="1.8"/>
<circle cx="63.0" cy="41.5" r="5.8" fill="url(#g14)"/>
<circle cx="76.3" cy="58.7" r="5.8" fill="url(#g14)"/>
<circle cx="54.8" cy="103.3" r="5.8" fill="url(#g26)"/>
<circle cx="51.8" cy="33.3" r="4.5" fill="url(#g27)"/>
<circle cx="58.7" cy="66.5" r="4.6" fill="url(#g11)"/>
<rect x="62" y="75.5" width="7" height="7" fill="#0057ff" opacity="1"/>
<circle cx="80.2" cy="67.5" r="3.6" fill="url(#g11)"/>
<circle cx="85.1" cy="82.2" r="4.2" fill="url(#g28)"/>
<circle cx="64.6" cy="50.9" r="3.3" fill="url(#g29)"/>
<rect x="76" y="112" width="8" height="6" fill="#00b2ff" opacity="1"/>
<rect x="71.5" y="13.5" width="13" height="2" fill="#05fffa" opacity="1"/>
<ellipse cx="92.0" cy="26.4" rx="2.2" ry="5.5" fill="url(#g30)"/>
<circle cx="84.1" cy="99.8" r="3.8" fill="url(#g31)"/>
<circle cx="71.4" cy="111.5" r="3.8" fill="url(#g32)"/>
<circle cx="86.0" cy="40.0" r="3.3" fill="url(#g9)"/>
<ellipse cx="50.5" cy="31.5" rx="4.5" ry="3.5" fill="url(#g15)"/>
<rect x="72.9" y="112.0" width="6" height="6" fill="#4dffb2"/>
</g>
<circle cx="63.0" cy="41.5" r="3.2" fill="url(#g22)"/>
<circle cx="76.3" cy="58.7" r="3.2" fill="url(#g37)"/>
<circle cx="54.8" cy="103.3" r="3.2" fill="url(#g22)"/>
<rect x="61.900000000000006" y="116.8" width="11" height="2" fill="#fa0000" opacity="1"/>
<rect x="64.9" y="16.699999999999996" width="6" height="1.4" fill="#faff05" opacity="1"/>
<rect x="73.9" y="114.5" width="3" height="3" fill="#faff05" opacity="1"/>
<text x="11.9" y="16.8" text-anchor="middle" font-family="Liberation Sans" font-size="15" fill="#fff">l</text></g>
<g transform="translate(551,286.5)" clip-path="url(#c24)"><rect x="0" y="0" width="134" height="133.8" fill="#00008f"/>
<ellipse cx="67.9" cy="67.6" rx="26.2" ry="50.4" fill="none" stroke="#0005ff" stroke-width="8" filter="url(#b15)"/>
<g filter="url(#b07)">
<rect x="82.8" y="28.4" width="1.8" height="1.8" fill="#0019ff" opacity="0.85"/>
<rect x="73.8" y="24.6" width="1.8" height="1.8" fill="#009aff" opacity="0.85"/>
<rect x="52.1" y="105.7" width="2.7" height="1.8" fill="#0054ff" opacity="0.85"/>
<rect x="45.1" y="82.1" width="1.8" height="1.8" fill="#005cff" opacity="0.85"/>
<rect x="59.2" y="27.6" width="1.8" height="1.8" fill="#00a9ff" opacity="0.85"/>
<rect x="40.3" y="88.1" width="2.7" height="1.8" fill="#004eff" opacity="0.85"/>
<rect x="66.1" y="118.7" width="1.8" height="1.8" fill="#0051ff" opacity="0.85"/>
<rect x="84.9" y="23.4" width="1.8" height="1.8" fill="#0067ff" opacity="0.85"/>
<rect x="62.0" y="21.0" width="1.8" height="1.8" fill="#0009ff" opacity="0.85"/>
<rect x="47.0" y="97.4" width="1.8" height="1.8" fill="#0082ff" opacity="0.85"/>
<rect x="57.8" y="18.5" width="3.6" height="1.8" fill="#008cff" opacity="0.85"/>
<rect x="43.9" y="77.8" width="1.8" height="1.8" fill="#0017ff" opacity="0.85"/>
<rect x="85.2" y="45.3" width="1.8" height="1.8" fill="#0096ff" opacity="0.85"/>
<rect x="45.1" y="74.4" width="1.8" height="1.8" fill="#003aff" opacity="0.85"/>
<rect x="60.4" y="117.7" width="2.7" height="1.8" fill="#003aff" opacity="0.85"/>
<rect x="57.0" y="109.6" width="1.8" height="1.8" fill="#0018ff" opacity="0.85"/>
<rect x="52.8" y="29.3" width="1.8" height="1.8" fill="#009dff" opacity="0.85"/>
<rect x="52.1" y="30.9" width="1.8" height="1.8" fill="#009eff" opacity="0.85"/>
<rect x="47.9" y="41.8" width="2.7" height="1.8" fill="#006fff" opacity="0.85"/>
<rect x="60.8" y="109.0" width="3.6" height="1.8" fill="#007eff" opacity="0.85"/>
<rect x="48.3" y="29.2" width="2.7" height="1.8" fill="#00a4ff" opacity="0.85"/>
<rect x="43.3" y="72.8" width="1.8" height="1.8" fill="#009bff" opacity="0.85"/>
<rect x="58.0" y="13.9" width="3.6" height="1.8" fill="#0026ff" opacity="0.85"/>
<rect x="37.6" y="70.1" width="3.6" height="1.8" fill="#0076ff" opacity="0.85"/>
<rect x="86.3" y="31.2" width="2.7" height="1.8" fill="#005dff" opacity="0.85"/>
<rect x="41.2" y="79.3" width="1.8" height="1.8" fill="#0027ff" opacity="0.85"/>
<rect x="91.5" y="43.3" width="1.8" height="1.8" fill="#007bff" opacity="0.85"/>
<rect x="65.3" y="19.2" width="1.8" height="1.8" fill="#006cff" opacity="0.85"/>
<rect x="63.2" y="118.8" width="3.6" height="1.8" fill="#0048ff" opacity="0.85"/>
<rect x="84.8" y="93.5" width="2.7" height="1.8" fill="#008dff" opacity="0.85"/>
<rect x="78.6" y="101.6" width="1.8" height="1.8" fill="#0025ff" opacity="0.85"/>
<rect x="86.5" y="88.6" width="1.8" height="1.8" fill="#009cff" opacity="0.85"/>
<rect x="93.4" y="71.6" width="3.6" height="1.8" fill="#0019ff" opacity="0.85"/>
<rect x="86.1" y="98.4" width="2.7" height="1.8" fill="#004aff" opacity="0.85"/>
<rect x="83.3" y="33.3" width="2.7" height="1.8" fill="#0061ff" opacity="0.85"/>
<rect x="82.3" y="38.7" width="3.6" height="1.8" fill="#0038ff" opacity="0.85"/>
<rect x="40.3" y="53.2" width="1.8" height="1.8" fill="#0052ff" opacity="0.85"/>
<rect x="40.0" y="88.1" width="3.6" height="1.8" fill="#007dff" opacity="0.85"/>
<rect x="45.8" y="78.0" width="3.6" height="1.8" fill="#007dff" opacity="0.85"/>
<rect x="49.5" y="32.9" width="1.8" height="1.8" fill="#0066ff" opacity="0.85"/>
<rect x="90.8" y="44.6" width="1.8" height="1.8" fill="#0047ff" opacity="0.85"/>
<rect x="87.9" y="38.4" width="3.6" height="1.8" fill="#0043ff" opacity="0.85"/>
<rect x="90.2" y="80.1" width="1.8" height="1.8" fill="#0076ff" opacity="0.85"/>
<rect x="41.4" y="67.2" width="1.8" height="1.8" fill="#0096ff" opacity="0.85"/>
<rect x="89.1" y="83.3" width="1.8" height="1.8" fill="#0029ff" opacity="0.85"/>
<rect x="92.5" y="45.9" width="1.8" height="1.8" fill="#009cff" opacity="0.85"/>
<rect x="92.9" y="58.1" width="1.8" height="1.8" fill="#0094ff" opacity="0.85"/>
<rect x="81.5" y="33.2" width="3.6" height="1.8" fill="#000eff" opacity="0.85"/>
<rect x="64.4" y="12.3" width="3.6" height="1.8" fill="#009aff" opacity="0.85"/>
<rect x="46.5" y="44.0" width="1.8" height="1.8" fill="#006dff" opacity="0.85"/>
<rect x="85.9" y="41.3" width="1.8" height="1.8" fill="#0019ff" opacity="0.85"/>
<rect x="67.6" y="119.1" width="2.7" height="1.8" fill="#001aff" opacity="0.85"/>
<rect x="68.9" y="22.6" width="3.6" height="1.8" fill="#002eff" opacity="0.85"/>
<rect x="47.9" y="92.9" width="3.6" height="1.8" fill="#0065ff" opacity="0.85"/>
<rect x="58.3" y="108.7" width="2.7" height="1.8" fill="#0075ff" opacity="0.85"/>
<rect x="39.6" y="67.2" width="1.8" height="1.8" fill="#0089ff" opacity="0.85"/>
<rect x="39.3" y="59.7" width="1.8" height="1.8" fill="#0081ff" opacity="0.85"/>
<rect x="84.4" y="42.2" width="3.6" height="1.8" fill="#003eff" opacity="0.85"/>
<rect x="49.3" y="35.3" width="2.7" height="1.8" fill="#0025ff" opacity="0.85"/>
<rect x="56.8" y="17.7" width="1.8" height="1.8" fill="#00a6ff" opacity="0.85"/>
<rect x="70.1" y="16.8" width="2.7" height="1.8" fill="#00a2ff" opacity="0.85"/>
<rect x="72.6" y="111.6" width="1.8" height="1.8" fill="#0088ff" opacity="0.85"/>
<rect x="82.2" y="26.9" width="1.8" height="1.8" fill="#0095ff" opacity="0.85"/>
<rect x="78.6" y="32.1" width="3.6" height="1.8" fill="#000aff" opacity="0.85"/>
<rect x="49.1" y="88.2" width="1.8" height="1.8" fill="#0047ff" opacity="0.85"/>
<rect x="50.5" y="108.3" width="3.6" height="1.8" fill="#0092ff" opacity="0.85"/>
<rect x="57.2" y="17.4" width="1.8" height="1.8" fill="#0054ff" opacity="0.85"/>
<rect x="45.2" y="52.8" width="1.8" height="1.8" fill="#00a9ff" opacity="0.85"/>
<rect x="74.3" y="113.5" width="2.7" height="1.8" fill="#0015ff" opacity="0.85"/>
<rect x="53.2" y="23.1" width="2.7" height="1.8" fill="#00b1ff" opacity="0.85"/>
<rect x="88.8" y="75.5" width="1.8" height="1.8" fill="#00a3ff" opacity="0.85"/>
<rect x="63.8" y="18.8" width="1.8" height="1.8" fill="#0095ff" opacity="0.85"/>
<rect x="87.9" y="81.7" width="1.8" height="1.8" fill="#0010ff" opacity="0.85"/>
<rect x="47.1" y="47.6" width="2.7" height="1.8" fill="#007cff" opacity="0.85"/>
<rect x="87.2" y="89.9" width="2.7" height="1.8" fill="#004bff" opacity="0.85"/>
<rect x="40.7" y="58.7" width="1.8" height="1.8" fill="#0056ff" opacity="0.85"/>
<rect x="49.7" y="35.5" width="1.8" height="1.8" fill="#0079ff" opacity="0.85"/>
<rect x="39.9" y="76.5" width="1.8" height="1.8" fill="#009fff" opacity="0.85"/>
<rect x="49.9" y="28.0" width="1.8" height="1.8" fill="#000aff" opacity="0.85"/>
<rect x="44.3" y="42.1" width="3.6" height="1.8" fill="#00a3ff" opacity="0.85"/>
<rect x="49.7" y="33.6" width="1.8" height="1.8" fill="#0053ff" opacity="0.85"/>
<rect x="83.8" y="93.0" width="3.6" height="1.8" fill="#002dff" opacity="0.85"/>
<rect x="59.5" y="18.9" width="1.8" height="1.8" fill="#00acff" opacity="0.85"/>
<rect x="88.1" y="101.5" width="1.8" height="1.8" fill="#0017ff" opacity="0.85"/>
<rect x="87.3" y="51.3" width="3.6" height="1.8" fill="#0018ff" opacity="0.85"/>
<rect x="90.7" y="70.0" width="2.7" height="1.8" fill="#0008ff" opacity="0.85"/>
<rect x="60.5" y="107.6" width="1.8" height="1.8" fill="#0010ff" opacity="0.85"/>
<rect x="80.0" y="28.7" width="1.8" height="1.8" fill="#0009ff" opacity="0.85"/>
<rect x="93.1" y="66.3" width="2.7" height="1.8" fill="#0057ff" opacity="0.85"/>
<rect x="60.6" y="23.3" width="3.6" height="1.8" fill="#000aff" opacity="0.85"/>
<rect x="86.4" y="37.6" width="3.6" height="1.8" fill="#00aaff" opacity="0.85"/>
<rect x="85.1" y="35.7" width="3.6" height="1.8" fill="#008aff" opacity="0.85"/>
<rect x="83.8" y="99.0" width="1.8" height="1.8" fill="#00a9ff" opacity="0.85"/>
<rect x="51.8" y="114.5" width="1.8" height="1.8" fill="#0064ff" opacity="0.85"/>
<rect x="89.4" y="62.6" width="3.6" height="1.8" fill="#00acff" opacity="0.85"/>
<rect x="86.5" y="35.5" width="2.7" height="1.8" fill="#0071ff" opacity="0.85"/>
<rect x="73.0" y="24.7" width="3.6" height="1.8" fill="#000bff" opacity="0.85"/>
<rect x="63.6" y="24.1" width="3.6" height="1.8" fill="#0010ff" opacity="0.85"/>
<rect x="89.0" y="79.6" width="3.6" height="1.8" fill="#008bff" opacity="0.85"/>
<rect x="41.1" y="57.8" width="1.8" height="1.8" fill="#0091ff" opacity="0.85"/>
<rect x="41.1" y="85.4" width="1.8" height="1.8" fill="#009dff" opacity="0.85"/>
<rect x="42.0" y="73.5" width="1.8" height="1.8" fill="#004eff" opacity="0.85"/>
<rect x="91.7" y="86.6" width="2.7" height="1.8" fill="#0050ff" opacity="0.85"/>
<rect x="88.9" y="49.9" width="1.8" height="1.8" fill="#0065ff" opacity="0.85"/>
<rect x="74.1" y="18.4" width="3.6" height="1.8" fill="#00a1ff" opacity="0.85"/>
<rect x="85.1" y="30.9" width="3.6" height="1.8" fill="#0064ff" opacity="0.85"/>
<rect x="46.5" y="82.2" width="2.7" height="1.8" fill="#0042ff" opacity="0.85"/>
<rect x="61.9" y="23.3" width="1.8" height="1.8" fill="#003dff" opacity="0.85"/>
<rect x="49.7" y="93.0" width="1.8" height="1.8" fill="#0099ff" opacity="0.85"/>
<rect x="43.5" y="73.6" width="1.8" height="1.8" fill="#0069ff" opacity="0.85"/>
<rect x="85.7" y="48.7" width="2.7" height="1.8" fill="#008dff" opacity="0.85"/>
<rect x="83.5" y="27.3" width="1.8" height="1.8" fill="#007dff" opacity="0.85"/>
<rect x="74.8" y="23.0" width="1.8" height="1.8" fill="#0046ff" opacity="0.85"/>
<rect x="42.5" y="68.2" width="1.8" height="1.8" fill="#004fff" opacity="0.85"/>
<rect x="54.3" y="20.1" width="2.7" height="1.8" fill="#0054ff" opacity="0.85"/>
<rect x="63.5" y="123.3" width="3.6" height="1.8" fill="#0028ff" opacity="0.85"/>
<rect x="57.6" y="110.5" width="3.6" height="1.8" fill="#002dff" opacity="0.85"/>
<rect x="41.2" y="60.2" width="1.8" height="1.8" fill="#005cff" opacity="0.85"/>
<rect x="63.6" y="14.1" width="3.6" height="1.8" fill="#0008ff" opacity="0.85"/>
<rect x="60.5" y="109.0" width="1.8" height="1.8" fill="#0050ff" opacity="0.85"/>
<rect x="75.1" y="104.9" width="3.6" height="1.8" fill="#0029ff" opacity="0.85"/>
<rect x="40.4" y="74.8" width="3.6" height="1.8" fill="#0009ff" opacity="0.85"/>
<rect x="85.8" y="50.3" width="3.6" height="1.8" fill="#008cff" opacity="0.85"/>
<rect x="47.7" y="94.9" width="3.6" height="1.8" fill="#0069ff" opacity="0.85"/>
<rect x="44.7" y="95.1" width="1.8" height="1.8" fill="#0006ff" opacity="0.85"/>
<rect x="52.4" y="24.8" width="2.7" height="1.8" fill="#002eff" opacity="0.85"/>
<rect x="61.7" y="21.1" width="1.8" height="1.8" fill="#0082ff" opacity="0.85"/>
<rect x="90.3" y="52.0" width="1.8" height="1.8" fill="#0070ff" opacity="0.85"/>
<rect x="67.3" y="19.2" width="2.7" height="1.8" fill="#0022ff" opacity="0.85"/>
<rect x="65.3" y="116.0" width="2.7" height="1.8" fill="#004eff" opacity="0.85"/>
<rect x="51.4" y="100.3" width="3.6" height="1.8" fill="#00a1ff" opacity="0.85"/>
<rect x="58.6" y="105.4" width="1.8" height="1.8" fill="#0042ff" opacity="0.85"/>
<rect x="74.7" y="19.1" width="1.8" height="1.8" fill="#001eff" opacity="0.85"/>
<rect x="48.4" y="40.4" width="3.6" height="1.8" fill="#001dff" opacity="0.85"/>
<rect x="43.6" y="48.5" width="1.8" height="1.8" fill="#0092ff" opacity="0.85"/>
<rect x="83.9" y="110.7" width="1.8" height="1.8" fill="#003eff" opacity="0.85"/>
<rect x="86.3" y="79.3" width="2.7" height="1.8" fill="#001aff" opacity="0.85"/>
<rect x="43.2" y="48.3" width="1.8" height="1.8" fill="#0054ff" opacity="0.85"/>
<rect x="69.0" y="113.9" width="1.8" height="1.8" fill="#00adff" opacity="0.85"/>
<rect x="42.8" y="55.1" width="2.7" height="1.8" fill="#006fff" opacity="0.85"/>
<rect x="49.1" y="89.7" width="2.7" height="1.8" fill="#0049ff" opacity="0.85"/>
<rect x="39.9" y="61.2" width="3.6" height="1.8" fill="#0068ff" opacity="0.85"/>
<rect x="62.1" y="110.1" width="1.8" height="1.8" fill="#000bff" opacity="0.85"/>
<rect x="81.3" y="21.0" width="1.8" height="1.8" fill="#0027ff" opacity="0.85"/>
<rect x="64.1" y="14.7" width="1.8" height="1.8" fill="#0059ff" opacity="0.85"/>
<rect x="93.3" y="51.0" width="1.8" height="1.8" fill="#0045ff" opacity="0.85"/>
<rect x="41.0" y="45.3" width="1.8" height="1.8" fill="#0065ff" opacity="0.85"/>
<rect x="62.4" y="22.1" width="3.6" height="1.8" fill="#0015ff" opacity="0.85"/>
<rect x="93.4" y="70.9" width="1.8" height="1.8" fill="#0013ff" opacity="0.85"/>
<rect x="73.0" y="16.4" width="1.8" height="1.8" fill="#004eff" opacity="0.85"/>
<rect x="44.3" y="56.0" width="2.7" height="1.8" fill="#0060ff" opacity="0.85"/>
<rect x="93.1" y="60.2" width="1.8" height="1.8" fill="#003fff" opacity="0.85"/>
<rect x="89.5" y="38.2" width="1.8" height="1.8" fill="#009eff" opacity="0.85"/>
<rect x="71.3" y="17.8" width="1.8" height="1.8" fill="#0023ff" opacity="0.85"/>
<rect x="48.4" y="109.4" width="3.6" height="1.8" fill="#0050ff" opacity="0.85"/>
<rect x="88.7" y="45.4" width="3.6" height="1.8" fill="#009aff" opacity="0.85"/>
<rect x="69.4" y="108.9" width="2.7" height="1.8" fill="#0051ff" opacity="0.85"/>
<rect x="46.3" y="74.9" width="1.8" height="1.8" fill="#0097ff" opacity="0.85"/>
<rect x="79.1" y="105.4" width="2.7" height="1.8" fill="#009fff" opacity="0.85"/>
<rect x="43.1" y="44.9" width="2.7" height="1.8" fill="#00a4ff" opacity="0.85"/>
<rect x="77.5" y="119.4" width="2.7" height="1.8" fill="#0070ff" opacity="0.85"/>
<rect x="74.4" y="116.4" width="3.6" height="1.8" fill="#0014ff" opacity="0.85"/>
<rect x="90.3" y="86.9" width="3.6" height="1.8" fill="#0091ff" opacity="0.85"/>
<rect x="70.0" y="109.8" width="1.8" height="1.8" fill="#0028ff" opacity="0.85"/>
<rect x="80.3" y="113.4" width="3.6" height="1.8" fill="#0083ff" opacity="0.85"/>
<rect x="66.5" y="116.1" width="3.6" height="1.8" fill="#0079ff" opacity="0.85"/>
<rect x="71.1" y="16.7" width="3.6" height="1.8" fill="#0067ff" opacity="0.85"/>
<rect x="72.7" y="20.6" width="3.6" height="1.8" fill="#007aff" opacity="0.85"/>
<rect x="45.6" y="48.6" width="1.8" height="1.8" fill="#000eff" opacity="0.85"/>
<rect x="42.5" y="75.2" width="2.7" height="1.8" fill="#003bff" opacity="0.85"/>
<rect x="59.1" y="114.0" width="1.8" height="1.8" fill="#0033ff" opacity="0.85"/>
<rect x="83.8" y="100.0" width="3.6" height="1.8" fill="#001eff" opacity="0.85"/>
<rect x="73.5" y="23.1" width="1.8" height="1.8" fill="#0030ff" opacity="0.85"/>
<rect x="39.2" y="64.9" width="1.8" height="1.8" fill="#0064ff" opacity="0.85"/>
<rect x="66.3" y="119.7" width="3.6" height="1.8" fill="#0021ff" opacity="0.85"/>
<rect x="81.8" y="33.8" width="1.8" height="1.8" fill="#006aff" opacity="0.85"/>
<rect x="57.2" y="104.8" width="3.6" height="1.8" fill="#0036ff" opacity="0.85"/>
<rect x="76.6" y="20.5" width="1.8" height="1.8" fill="#005aff" opacity="0.85"/>
<rect x="80.5" y="28.4" width="3.6" height="1.8" fill="#00acff" opacity="0.85"/>
<rect x="43.9" y="32.6" width="3.6" height="1.8" fill="#0062ff" opacity="0.85"/>
<rect x="80.5" y="23.3" width="3.6" height="1.8" fill="#0010ff" opacity="0.85"/>
<rect x="41.1" y="77.2" width="1.8" height="1.8" fill="#0030ff" opacity="0.85"/>
<rect x="75.4" y="28.4" width="3.6" height="1.8" fill="#002fff" opacity="0.85"/>
<rect x="44.3" y="51.6" width="2.7" height="1.8" fill="#009aff" opacity="0.85"/>
<rect x="82.8" y="98.2" width="3.6" height="1.8" fill="#0022ff" opacity="0.85"/>
<rect x="82.9" y="30.3" width="1.8" height="1.8" fill="#0029ff" opacity="0.85"/>
<rect x="42.4" y="84.0" width="2.7" height="1.8" fill="#0063ff" opacity="0.85"/>
<rect x="68.9" y="109.9" width="1.8" height="1.8" fill="#000aff" opacity="0.85"/>
<rect x="56.9" y="107.6" width="2.7" height="1.8" fill="#00a1ff" opacity="0.85"/>
<rect x="89.4" y="94.0" width="3.6" height="1.8" fill="#0087ff" opacity="0.85"/>
<rect x="64.9" y="14.3" width="1.8" height="1.8" fill="#0020ff" opacity="0.85"/>
<rect x="45.0" y="29.6" width="2.7" height="1.8" fill="#001aff" opacity="0.85"/>
<rect x="43.7" y="84.7" width="1.8" height="1.8" fill="#004dff" opacity="0.85"/>
<rect x="69.5" y="123.4" width="1.8" height="1.8" fill="#0053ff" opacity="0.85"/>
<rect x="62.6" y="122.0" width="1.8" height="1.8" fill="#009fff" opacity="0.85"/>
<rect x="72.7" y="13.8" width="2.7" height="1.8" fill="#0053ff" opacity="0.85"/>
<rect x="76.6" y="25.5" width="3.6" height="1.8" fill="#0069ff" opacity="0.85"/>
<rect x="51.0" y="31.3" width="2.7" height="1.8" fill="#003fff" opacity="0.85"/>
<rect x="89.7" y="37.0" width="2.7" height="1.8" fill="#0005ff" opacity="0.85"/>
<rect x="54.7" y="32.9" width="1.8" height="1.8" fill="#0058ff" opacity="0.85"/>
<rect x="83.3" y="98.0" width="1.8" height="1.8" fill="#0094ff" opacity="0.85"/>
<rect x="64.7" y="118.8" width="2.7" height="1.8" fill="#0079ff" opacity="0.85"/>
<rect x="71.1" y="118.2" width="1.8" height="1.8" fill="#0051ff" opacity="0.85"/>
<rect x="46.9" y="40.7" width="3.6" height="1.8" fill="#0009ff" opacity="0.85"/>
<rect x="91.6" y="57.5" width="3.6" height="1.8" fill="#0059ff" opacity="0.85"/>
<rect x="73.1" y="14.2" width="2.7" height="1.8" fill="#0088ff" opacity="0.85"/>
<rect x="77.8" y="118.9" width="1.8" height="1.8" fill="#0019ff" opacity="0.85"/>
<rect x="86.7" y="84.8" width="3.6" height="1.8" fill="#00aaff" opacity="0.85"/>
<rect x="46.2" y="77.1" width="1.8" height="1.8" fill="#0088ff" opacity="0.85"/>
<rect x="87.6" y="65.0" width="2.7" height="1.8" fill="#0024ff" opacity="0.85"/>
<rect x="83.8" y="28.4" width="2.7" height="1.8" fill="#003cff" opacity="0.85"/>
<rect x="72.2" y="115.5" width="3.6" height="1.8" fill="#0034ff" opacity="0.85"/>
<rect x="63.5" y="111.6" width="2.7" height="1.8" fill="#009bff" opacity="0.85"/>
<rect x="52.0" y="23.1" width="3.6" height="1.8" fill="#002aff" opacity="0.85"/>
<rect x="88.1" y="73.9" width="1.8" height="1.8" fill="#00acff" opacity="0.85"/>
<rect x="44.6" y="96.9" width="2.7" height="1.8" fill="#006dff" opacity="0.85"/>
<rect x="42.7" y="42.5" width="2.7" height="1.8" fill="#0056ff" opacity="0.85"/>
<rect x="88.7" y="68.7" width="1.8" height="1.8" fill="#0043ff" opacity="0.85"/>
<rect x="45.5" y="39.0" width="1.8" height="1.8" fill="#0046ff" opacity="0.85"/>
<rect x="43.4" y="92.3" width="3.6" height="1.8" fill="#0092ff" opacity="0.85"/>
<rect x="79.8" y="24.9" width="2.7" height="1.8" fill="#00acff" opacity="0.85"/>
<rect x="82.8" y="96.7" width="3.6" height="1.8" fill="#0025ff" opacity="0.85"/>
<rect x="67.8" y="15.4" width="1.8" height="1.8" fill="#00a6ff" opacity="0.85"/>
<rect x="94.2" y="58.0" width="1.8" height="1.8" fill="#009fff" opacity="0.85"/>
<rect x="72.0" y="114.4" width="2.7" height="1.8" fill="#00afff" opacity="0.85"/>
<rect x="78.9" y="17.2" width="1.8" height="1.8" fill="#0065ff" opacity="0.85"/>
<rect x="88.3" y="46.6" width="3.6" height="1.8" fill="#0055ff" opacity="0.85"/>
<rect x="50.8" y="29.9" width="2.7" height="1.8" fill="#009fff" opacity="0.85"/>
<rect x="60.2" y="19.1" width="1.8" height="1.8" fill="#004aff" opacity="0.85"/>
<rect x="78.9" y="27.9" width="2.7" height="1.8" fill="#0053ff" opacity="0.85"/>
<rect x="81.4" y="19.2" width="1.8" height="1.8" fill="#000dff" opacity="0.85"/>
<rect x="43.0" y="93.5" width="3.6" height="1.8" fill="#0046ff" opacity="0.85"/>
<rect x="39.8" y="56.6" width="2.7" height="1.8" fill="#0039ff" opacity="0.85"/>
<rect x="68.2" y="119.6" width="1.8" height="1.8" fill="#003bff" opacity="0.85"/>
<rect x="46.0" y="60.3" width="2.7" height="1.8" fill="#0030ff" opacity="0.85"/>
<rect x="43.1" y="79.2" width="3.6" height="1.8" fill="#004bff" opacity="0.85"/>
<rect x="90.9" y="53.0" width="2.7" height="1.8" fill="#007dff" opacity="0.85"/>
<rect x="82.9" y="22.0" width="1.8" height="1.8" fill="#0054ff" opacity="0.85"/>
<rect x="39.1" y="65.0" width="1.8" height="1.8" fill="#0010ff" opacity="0.85"/>
<rect x="62.0" y="115.2" width="1.8" height="1.8" fill="#0016ff" opacity="0.85"/>
<rect x="43.3" y="73.0" width="3.6" height="1.8" fill="#00aaff" opacity="0.85"/>
<rect x="72.5" y="115.8" width="1.8" height="1.8" fill="#0075ff" opacity="0.85"/>
<rect x="86.0" y="44.7" width="1.8" height="1.8" fill="#0058ff" opacity="0.85"/>
<rect x="70.2" y="25.4" width="1.8" height="1.8" fill="#001dff" opacity="0.85"/>
<rect x="41.1" y="93.3" width="3.6" height="1.8" fill="#0096ff" opacity="0.85"/>
<rect x="88.0" y="54.0" width="3.6" height="1.8" fill="#0020ff" opacity="0.85"/>
<rect x="84.2" y="90.5" width="1.8" height="1.8" fill="#002eff" opacity="0.85"/>
<rect x="50.2" y="111.3" width="3.6" height="1.8" fill="#00a3ff" opacity="0.85"/>
<rect x="93.9" y="60.2" width="3.6" height="1.8" fill="#0045ff" opacity="0.85"/>
<rect x="85.2" y="23.5" width="1.8" height="1.8" fill="#0066ff" opacity="0.85"/>
<rect x="85.4" y="97.4" width="1.8" height="1.8" fill="#007dff" opacity="0.85"/>
<rect x="60.3" y="121.3" width="2.7" height="1.8" fill="#002dff" opacity="0.85"/>
<rect x="44.0" y="50.5" width="1.8" height="1.8" fill="#0083ff" opacity="0.85"/>
<rect x="43.0" y="50.6" width="1.8" height="1.8" fill="#0048ff" opacity="0.85"/>
<rect x="47.0" y="96.9" width="1.8" height="1.8" fill="#001bff" opacity="0.85"/>
<rect x="48.6" y="88.5" width="1.8" height="1.8" fill="#0085ff" opacity="0.85"/>
<rect x="56.1" y="117.9" width="2.7" height="1.8" fill="#0006ff" opacity="0.85"/>
<rect x="59.7" y="115.0" width="2.7" height="1.8" fill="#00a7ff" opacity="0.85"/>
<rect x="73.2" y="16.0" width="3.6" height="1.8" fill="#005dff" opacity="0.85"/>
<rect x="78.1" y="28.3" width="1.8" height="1.8" fill="#0068ff" opacity="0.85"/>
<rect x="39.2" y="72.4" width="2.7" height="1.8" fill="#0079ff" opacity="0.85"/>
<rect x="89.3" y="35.7" width="2.7" height="1.8" fill="#00a9ff" opacity="0.85"/>
<rect x="74.1" y="23.4" width="3.6" height="1.8" fill="#0019ff" opacity="0.85"/>
<rect x="63.2" y="17.3" width="3.6" height="1.8" fill="#0079ff" opacity="0.85"/>
<rect x="89.1" y="37.1" width="1.8" height="1.8" fill="#0088ff" opacity="0.85"/>
<rect x="45.2" y="81.8" width="3.6" height="1.8" fill="#0018ff" opacity="0.85"/>
<rect x="86.9" y="55.1" width="3.6" height="1.8" fill="#0056ff" opacity="0.85"/>
<rect x="70.4" y="11.5" width="3.6" height="1.8" fill="#0038ff" opacity="0.85"/>
<rect x="78.4" y="29.1" width="1.8" height="1.8" fill="#0038ff" opacity="0.85"/>
<rect x="49.1" y="23.2" width="3.6" height="1.8" fill="#001aff" opacity="0.85"/>
<rect x="52.0" y="32.6" width="1.8" height="1.8" fill="#0032ff" opacity="0.85"/>
<rect x="45.2" y="81.4" width="1.8" height="1.8" fill="#0044ff" opacity="0.85"/>
<rect x="86.8" y="104.5" width="1.8" height="1.8" fill="#009bff" opacity="0.85"/>
<rect x="90.9" y="85.5" width="1.8" height="1.8" fill="#009fff" opacity="0.85"/>
<rect x="54.0" y="20.2" width="3.6" height="1.8" fill="#00a5ff" opacity="0.85"/>
<rect x="57.7" y="27.6" width="1.8" height="1.8" fill="#0030ff" opacity="0.85"/>
<rect x="46.7" y="44.2" width="1.8" height="1.8" fill="#006dff" opacity="0.85"/>
<rect x="76.9" y="111.5" width="2.7" height="1.8" fill="#0022ff" opacity="0.85"/>
<rect x="74.4" y="24.0" width="3.6" height="1.8" fill="#001aff" opacity="0.85"/>
<rect x="49.0" y="110.5" width="1.8" height="1.8" fill="#007cff" opacity="0.85"/>
<rect x="57.5" y="14.2" width="1.8" height="1.8" fill="#007cff" opacity="0.85"/>
<rect x="93.4" y="61.3" width="1.8" height="1.8" fill="#009bff" opacity="0.85"/>
<rect x="44.2" y="64.6" width="1.8" height="1.8" fill="#000bff" opacity="0.85"/>
<rect x="82.7" y="36.6" width="3.6" height="1.8" fill="#007fff" opacity="0.85"/>
<rect x="88.2" y="77.6" width="1.8" height="1.8" fill="#000eff" opacity="0.85"/>
<rect x="70.1" y="23.6" width="1.8" height="1.8" fill="#00a7ff" opacity="0.85"/>
<rect x="72.3" y="20.4" width="1.8" height="1.8" fill="#0080ff" opacity="0.85"/>
<rect x="44.5" y="34.4" width="3.6" height="1.8" fill="#00a7ff" opacity="0.85"/>
<rect x="40.0" y="72.7" width="3.6" height="1.8" fill="#00adff" opacity="0.85"/>
<rect x="76.5" y="104.5" width="1.8" height="1.8" fill="#0023ff" opacity="0.85"/>
<rect x="72.1" y="18.4" width="2.7" height="1.8" fill="#005aff" opacity="0.85"/>
<rect x="47.6" y="39.1" width="1.8" height="1.8" fill="#009fff" opacity="0.85"/>
<rect x="69.1" y="111.7" width="2.7" height="1.8" fill="#0083ff" opacity="0.85"/>
<rect x="88.3" y="30.8" width="3.6" height="1.8" fill="#003dff" opacity="0.85"/>
<rect x="55.7" y="104.8" width="2.7" height="1.8" fill="#0070ff" opacity="0.85"/>
<rect x="92.2" y="76.4" width="2.7" height="1.8" fill="#001bff" opacity="0.85"/>
<rect x="76.6" y="108.0" width="1.8" height="1.8" fill="#0039ff" opacity="0.85"/>
<rect x="91.1" y="44.4" width="1.8" height="1.8" fill="#007dff" opacity="0.85"/>
<rect x="58.9" y="120.2" width="2.7" height="1.8" fill="#000fff" opacity="0.85"/>
<rect x="81.5" y="102.5" width="1.8" height="1.8" fill="#007bff" opacity="0.85"/>
<rect x="84.7" y="95.6" width="3.6" height="1.8" fill="#004cff" opacity="0.85"/>
<rect x="74.6" y="109.0" width="3.6" height="1.8" fill="#0026ff" opacity="0.85"/>
<rect x="80.4" y="18.0" width="2.7" height="1.8" fill="#002dff" opacity="0.85"/>
<rect x="55.3" y="29.6" width="2.7" height="1.8" fill="#008bff" opacity="0.85"/>
<rect x="75.0" y="114.6" width="3.6" height="1.8" fill="#0008ff" opacity="0.85"/>
<rect x="59.5" y="117.2" width="1.8" height="1.8" fill="#0059ff" opacity="0.85"/>
<rect x="54.4" y="108.4" width="2.7" height="1.8" fill="#0036ff" opacity="0.85"/>
<rect x="73.3" y="19.1" width="1.8" height="1.8" fill="#006bff" opacity="0.85"/>
<rect x="47.5" y="46.2" width="2.7" height="1.8" fill="#004cff" opacity="0.85"/>
<rect x="43.2" y="79.6" width="2.7" height="1.8" fill="#0080ff" opacity="0.85"/>
<rect x="68.1" y="116.1" width="1.8" height="1.8" fill="#0063ff" opacity="0.85"/>
<rect x="40.1" y="75.0" width="1.8" height="1.8" fill="#007fff" opacity="0.85"/>
<rect x="47.7" y="45.3" width="1.8" height="1.8" fill="#0044ff" opacity="0.85"/>
<rect x="48.3" y="108.0" width="1.8" height="1.8" fill="#0065ff" opacity="0.85"/>
<rect x="90.6" y="51.4" width="1.8" height="1.8" fill="#0021ff" opacity="0.85"/>
<rect x="53.1" y="103.9" width="2.7" height="1.8" fill="#00a7ff" opacity="0.85"/>
<rect x="80.6" y="28.1" width="2.7" height="1.8" fill="#0087ff" opacity="0.85"/>
<rect x="57.2" y="119.8" width="1.8" height="1.8" fill="#005aff" opacity="0.85"/>
<rect x="40.6" y="59.8" width="2.7" height="1.8" fill="#0042ff" opacity="0.85"/>
<rect x="82.3" y="95.3" width="2.7" height="1.8" fill="#00a5ff" opacity="0.85"/>
<rect x="65.0" y="31.8" width="1.8" height="1.8" fill="#0000e9" opacity="0.7"/>
<rect x="53.5" y="63.2" width="3.6" height="1.8" fill="#003bff" opacity="0.7"/>
<rect x="56.4" y="66.9" width="1.8" height="1.8" fill="#0032ff" opacity="0.7"/>
<rect x="52.2" y="58.6" width="3.6" height="1.8" fill="#0001ff" opacity="0.7"/>
<rect x="53.2" y="87.1" width="1.8" height="1.8" fill="#0008ff" opacity="0.7"/>
<rect x="79.7" y="92.3" width="1.8" height="1.8" fill="#0000ea" opacity="0.7"/>
<rect x="72.7" y="82.2" width="1.8" height="1.8" fill="#002dff" opacity="0.7"/>
<rect x="70.4" y="67.3" width="2.7" height="1.8" fill="#0012ff" opacity="0.7"/>
<rect x="65.5" y="56.7" width="1.8" height="1.8" fill="#0043ff" opacity="0.7"/>
<rect x="57.5" y="61.8" width="3.6" height="1.8" fill="#0000e8" opacity="0.7"/>
<rect x="78.4" y="70.3" width="1.8" height="1.8" fill="#0029ff" opacity="0.7"/>
<rect x="68.5" y="72.6" width="2.7" height="1.8" fill="#0040ff" opacity="0.7"/>
<rect x="75.2" y="91.9" width="3.6" height="1.8" fill="#004bff" opacity="0.7"/>
<rect x="75.3" y="98.0" width="1.8" height="1.8" fill="#003dff" opacity="0.7"/>
<rect x="68.1" y="64.6" width="1.8" height="1.8" fill="#0017ff" opacity="0.7"/>
<rect x="52.2" y="46.8" width="1.8" height="1.8" fill="#0027ff" opacity="0.7"/>
<rect x="55.2" y="76.4" width="2.7" height="1.8" fill="#000eff" opacity="0.7"/>
<rect x="58.8" y="87.0" width="2.7" height="1.8" fill="#000aff" opacity="0.7"/>
<rect x="78.7" y="85.0" width="2.7" height="1.8" fill="#0004ff" opacity="0.7"/>
<rect x="77.3" y="49.9" width="1.8" height="1.8" fill="#0006ff" opacity="0.7"/>
<rect x="62.2" y="63.2" width="3.6" height="1.8" fill="#002fff" opacity="0.7"/>
<rect x="61.9" y="62.1" width="2.7" height="1.8" fill="#0034ff" opacity="0.7"/>
<rect x="50.3" y="64.1" width="1.8" height="1.8" fill="#0000e6" opacity="0.7"/>
<rect x="77.1" y="43.3" width="2.7" height="1.8" fill="#0000f3" opacity="0.7"/>
<rect x="66.3" y="60.0" width="1.8" height="1.8" fill="#0017ff" opacity="0.7"/>
<rect x="52.3" y="78.5" width="1.8" height="1.8" fill="#0000f2" opacity="0.7"/>
<rect x="77.4" y="64.6" width="1.8" height="1.8" fill="#0000f3" opacity="0.7"/>
<rect x="74.0" y="58.1" width="1.8" height="1.8" fill="#0009ff" opacity="0.7"/>
<rect x="56.3" y="39.9" width="3.6" height="1.8" fill="#0020ff" opacity="0.7"/>
<rect x="72.0" y="75.6" width="2.7" height="1.8" fill="#002bff" opacity="0.7"/>
<rect x="57.0" y="96.1" width="1.8" height="1.8" fill="#0016ff" opacity="0.7"/>
<rect x="63.7" y="100.7" width="1.8" height="1.8" fill="#0009ff" opacity="0.7"/>
<rect x="58.6" y="34.8" width="2.7" height="1.8" fill="#000cff" opacity="0.7"/>
<rect x="68.7" y="45.6" width="1.8" height="1.8" fill="#0023ff" opacity="0.7"/>
<rect x="60.4" y="70.3" width="2.7" height="1.8" fill="#0037ff" opacity="0.7"/>
<rect x="71.5" y="74.5" width="1.8" height="1.8" fill="#0006ff" opacity="0.7"/>
<rect x="59.2" y="68.4" width="2.7" height="1.8" fill="#0000f2" opacity="0.7"/>
<rect x="60.1" y="63.3" width="2.7" height="1.8" fill="#000fff" opacity="0.7"/>
<rect x="60.7" y="32.4" width="2.7" height="1.8" fill="#0017ff" opacity="0.7"/>
<rect x="84.4" y="76.6" width="1.8" height="1.8" fill="#0034ff" opacity="0.7"/>
</g>
<g filter="url(#b05)">
<path d="M52.39 27.88 A25.2 50.4 0 0 1 83.41 27.88" fill="none" stroke="#00d1ff" stroke-width="2"/>
<path d="M80.50 111.25 A25.2 50.4 0 0 1 55.30 111.25" fill="none" stroke="#00c7ff" stroke-width="1.8"/>
<circle cx="63.0" cy="41.5" r="5.8" fill="url(#g14)"/>
<circle cx="76.3" cy="58.7" r="5.8" fill="url(#g14)"/>
<circle cx="54.8" cy="103.3" r="5.8" fill="url(#g26)"/>
<circle cx="51.8" cy="33.3" r="4.5" fill="url(#g27)"/>
<circle cx="58.7" cy="66.5" r="4.6" fill="url(#g11)"/>
<rect x="62" y="75.5" width="7" height="7" fill="#0057ff" opacity="1"/>
<circle cx="80.2" cy="67.5" r="3.6" fill="url(#g11)"/>
<circle cx="85.1" cy="82.2" r="4.2" fill="url(#g28)"/>
<circle cx="64.6" cy="50.9" r="3.3" fill="url(#g29)"/>
<rect x="76" y="112" width="8" height="6" fill="#00b2ff" opacity="1"/>
<rect x="71.5" y="13.5" width="13" height="2" fill="#05fffa" opacity="1"/>
<ellipse cx="92.0" cy="26.4" rx="2.2" ry="5.5" fill="url(#g30)"/>
<circle cx="84.1" cy="99.8" r="3.8" fill="url(#g31)"/>
<circle cx="71.4" cy="111.5" r="3.8" fill="url(#g32)"/>
<circle cx="86.0" cy="40.0" r="3.3" fill="url(#g9)"/>
<ellipse cx="50.5" cy="31.5" rx="4.5" ry="3.5" fill="url(#g15)"/>
<rect x="72.9" y="112.0" width="6" height="6" fill="#4dffb2"/>
</g>
<circle cx="63.0" cy="41.5" r="3.2" fill="url(#g22)"/>
<circle cx="76.3" cy="58.7" r="3.2" fill="url(#g37)"/>
<circle cx="54.8" cy="103.3" r="3.2" fill="url(#g22)"/>
<rect x="61.900000000000006" y="116.8" width="11" height="2" fill="#fa0000" opacity="1"/>
<rect x="64.9" y="16.699999999999996" width="6" height="1.4" fill="#faff05" opacity="1"/>
<rect x="73.9" y="114.5" width="3" height="3" fill="#faff05" opacity="1"/>
<rect x="133" y="0" width="1" height="133.8" fill="#14147a"/><text x="11.9" y="16.8" text-anchor="middle" font-family="Liberation Sans" font-size="15" fill="#fff">o</text></g>
<line x1="265.88" y1="449.0" x2="265.88" y2="677.75" stroke="#e4e4e4" stroke-width="0.7"/>
<line x1="321.26" y1="449.0" x2="321.26" y2="677.75" stroke="#e4e4e4" stroke-width="0.7"/>
<line x1="376.64" y1="449.0" x2="376.64" y2="677.75" stroke="#e4e4e4" stroke-width="0.7"/>
<line x1="432.02" y1="449.0" x2="432.02" y2="677.75" stroke="#e4e4e4" stroke-width="0.7"/>
<line x1="210.5" y1="632.00" x2="487.4" y2="632.00" stroke="#e4e4e4" stroke-width="0.7"/>
<line x1="210.5" y1="586.25" x2="487.4" y2="586.25" stroke="#e4e4e4" stroke-width="0.7"/>
<line x1="210.5" y1="540.50" x2="487.4" y2="540.50" stroke="#e4e4e4" stroke-width="0.7"/>
<line x1="210.5" y1="494.75" x2="487.4" y2="494.75" stroke="#e4e4e4" stroke-width="0.7"/>
<line x1="210.5" y1="449.3" x2="487.4" y2="449.3" stroke="#e2e2e2" stroke-width="1"/>
<line x1="487.4" y1="449.0" x2="487.4" y2="677.75" stroke="#e8e8e8" stroke-width="0.8"/>
<polyline points="213.27,449.60 218.81,476.90 224.35,461.00 229.88,467.70 235.42,487.20 240.96,463.60 246.50,505.60 252.04,470.80 257.57,495.10 263.11,485.90 268.65,478.90 274.19,476.50 279.73,492.00 285.26,474.70 290.80,489.30 296.34,478.60 301.88,491.30 307.42,498.60 312.95,485.80 318.49,490.70 324.03,502.90 329.57,503.60 335.11,508.00 340.64,499.50 346.18,505.00 351.72,524.00 357.26,526.90 362.80,509.90 368.33,509.90 373.87,530.90 379.41,515.20 384.95,518.10 390.49,514.00 396.02,522.20 401.56,539.70 407.10,534.50 412.64,518.70 418.18,546.10 423.71,537.80 429.25,550.10 434.79,544.60 440.33,543.80 445.87,569.90 451.40,564.10 456.94,563.30 462.48,575.50 468.02,574.10 473.56,581.40 479.09,577.30 484.63,570.90" fill="none" stroke="#EDB120" stroke-width="1.6" stroke-linejoin="round"/>
<polyline points="213.27,449.60 218.81,454.10 224.35,450.40 229.88,453.40 235.42,472.30 240.96,454.00 246.50,495.80 252.04,466.50 257.57,487.00 263.11,487.30 268.65,477.10 274.19,475.60 279.73,495.20 285.26,476.20 290.80,494.50 296.34,481.70 301.88,495.10 307.42,505.00 312.95,493.00 318.49,495.70 324.03,506.80 329.57,511.50 335.11,516.30 340.64,510.00 346.18,515.00 351.72,537.00 357.26,540.30 362.80,523.40 368.33,523.40 373.87,547.30 379.41,529.00 384.95,535.60 390.49,525.90 396.02,539.70 401.56,556.60 407.10,553.10 412.64,535.00 418.18,565.20 423.71,555.50 429.25,574.10 434.79,567.40 440.33,566.80 445.87,589.80 451.40,592.50 456.94,589.80 462.48,597.70 468.02,607.30 473.56,607.10 479.09,604.50 484.63,606.80" fill="none" stroke="#7E2F8E" stroke-width="1.6" stroke-linejoin="round"/>
<polyline points="213.27,449.50 218.81,450.00 224.35,450.30 229.88,450.60 235.42,453.00 240.96,450.60 246.50,453.20 252.04,451.00 257.57,453.60 263.11,456.10 268.65,453.40 274.19,453.80 279.73,456.80 285.26,453.80 290.80,459.00 296.34,455.70 301.88,458.40 307.42,468.40 312.95,462.50 318.49,464.90 324.03,472.40 329.57,475.40 335.11,476.00 340.64,473.00 346.18,473.00 351.72,487.60 357.26,493.20 362.80,480.60 368.33,484.10 373.87,493.40 379.41,488.00 384.95,485.90 390.49,486.40 396.02,488.50 401.56,504.00 407.10,496.70 412.64,486.80 418.18,510.30 423.71,497.40 429.25,507.30 434.79,500.90 440.33,500.90 445.87,521.30 451.40,514.00 456.94,510.50 462.48,520.10 468.02,517.80 473.56,524.00 479.09,514.50 484.63,517.00" fill="none" stroke="#D95319" stroke-width="1.6" stroke-linejoin="round"/>
<polyline points="213.27,449.10 218.81,449.10 224.35,449.40 229.88,449.40 235.42,451.50 240.96,449.70 246.50,451.20 252.04,450.30 257.57,451.60 263.11,453.20 268.65,451.40 274.19,451.80 279.73,453.90 285.26,451.80 290.80,454.90 296.34,452.90 301.88,455.50 307.42,461.90 312.95,457.30 318.49,459.00 324.03,466.60 329.57,468.40 335.11,467.80 340.64,466.60 346.18,465.30 351.72,481.30 357.26,480.90 362.80,471.60 368.33,476.30 373.87,488.00 379.41,479.80 384.95,477.40 390.49,479.20 396.02,480.60 401.56,492.60 407.10,486.20 412.64,479.80 418.18,500.10 423.71,487.40 429.25,499.70 434.79,490.90 440.33,491.30 445.87,509.60 451.40,503.80 456.94,498.00 462.48,509.30 468.02,506.70 473.56,507.90 479.09,501.50 484.63,501.50" fill="none" stroke="#0072BD" stroke-width="1.6" stroke-linejoin="round"/>
<path d="M210.5 449.0 V677.75 H487.4" fill="none" stroke="#5a5a5a" stroke-width="1"/>
<line x1="210.50" y1="677.75" x2="210.50" y2="675.15" stroke="#5a5a5a" stroke-width="1"/>
<line x1="265.88" y1="677.75" x2="265.88" y2="675.15" stroke="#5a5a5a" stroke-width="1"/>
<line x1="321.26" y1="677.75" x2="321.26" y2="675.15" stroke="#5a5a5a" stroke-width="1"/>
<line x1="376.64" y1="677.75" x2="376.64" y2="675.15" stroke="#5a5a5a" stroke-width="1"/>
<line x1="432.02" y1="677.75" x2="432.02" y2="675.15" stroke="#5a5a5a" stroke-width="1"/>
<line x1="487.40" y1="677.75" x2="487.40" y2="675.15" stroke="#5a5a5a" stroke-width="1"/>
<line x1="210.5" y1="677.75" x2="213.1" y2="677.75" stroke="#5a5a5a" stroke-width="1"/>
<line x1="210.5" y1="632.00" x2="213.1" y2="632.00" stroke="#5a5a5a" stroke-width="1"/>
<line x1="210.5" y1="586.25" x2="213.1" y2="586.25" stroke="#5a5a5a" stroke-width="1"/>
<line x1="210.5" y1="540.50" x2="213.1" y2="540.50" stroke="#5a5a5a" stroke-width="1"/>
<line x1="210.5" y1="494.75" x2="213.1" y2="494.75" stroke="#5a5a5a" stroke-width="1"/>
<line x1="210.5" y1="449.00" x2="213.1" y2="449.00" stroke="#5a5a5a" stroke-width="1"/>
<text x="210.50" y="693.8" text-anchor="middle" font-family="Liberation Sans" font-size="10.8" fill="#262626">0</text>
<text x="265.88" y="693.8" text-anchor="middle" font-family="Liberation Sans" font-size="10.8" fill="#262626">0.2</text>
<text x="321.26" y="693.8" text-anchor="middle" font-family="Liberation Sans" font-size="10.8" fill="#262626">0.4</text>
<text x="376.64" y="693.8" text-anchor="middle" font-family="Liberation Sans" font-size="10.8" fill="#262626">0.6</text>
<text x="432.02" y="693.8" text-anchor="middle" font-family="Liberation Sans" font-size="10.8" fill="#262626">0.8</text>
<text x="487.40" y="693.8" text-anchor="middle" font-family="Liberation Sans" font-size="10.8" fill="#262626">1</text>
<text x="206" y="682.55" text-anchor="end" font-family="Liberation Sans" font-size="10.8" fill="#262626">0.5</text>
<text x="206" y="636.80" text-anchor="end" font-family="Liberation Sans" font-size="10.8" fill="#262626">0.6</text>
<text x="206" y="591.05" text-anchor="end" font-family="Liberation Sans" font-size="10.8" fill="#262626">0.7</text>
<text x="206" y="545.30" text-anchor="end" font-family="Liberation Sans" font-size="10.8" fill="#262626">0.8</text>
<text x="206" y="499.55" text-anchor="end" font-family="Liberation Sans" font-size="10.8" fill="#262626">0.9</text>
<text x="206" y="453.80" text-anchor="end" font-family="Liberation Sans" font-size="10.8" fill="#262626">1</text>
<text x="348.5" y="708.7" text-anchor="middle" font-family="Liberation Sans" font-size="12" fill="#262626">Spatial frequency (% of Nyquist)</text>
<text transform="translate(185,563.5) rotate(-90)" text-anchor="middle" font-family="Liberation Sans" font-size="12" fill="#262626">Correlation coefficient</text>
<text x="471.6" y="465.2" font-family="Liberation Sans" font-size="16" fill="#000">p</text>
<rect x="233.5" y="600.5" width="84" height="55.8" fill="#fff" stroke="#3a3a3a" stroke-width="0.7"/>
<line x1="236.4" y1="608.90" x2="268.5" y2="608.90" stroke="#EDB120" stroke-width="1.6"/>
<text x="271.7" y="612.60" font-family="Liberation Sans" font-size="9.8" fill="#1a1a1a">FBP</text>
<line x1="236.4" y1="621.87" x2="268.5" y2="621.87" stroke="#7E2F8E" stroke-width="1.6"/>
<text x="271.7" y="625.57" font-family="Liberation Sans" font-size="9.8" fill="#1a1a1a">SIRT</text>
<line x1="236.4" y1="634.84" x2="268.5" y2="634.84" stroke="#D95319" stroke-width="1.6"/>
<text x="271.7" y="638.54" font-family="Liberation Sans" font-size="9.8" fill="#1a1a1a">GENFIRE</text>
<line x1="236.4" y1="647.81" x2="268.5" y2="647.81" stroke="#0072BD" stroke-width="1.6"/>
<text x="271.7" y="651.51" font-family="Liberation Sans" font-size="9.8" fill="#1a1a1a">RESIRE</text>
</svg></body></html>
